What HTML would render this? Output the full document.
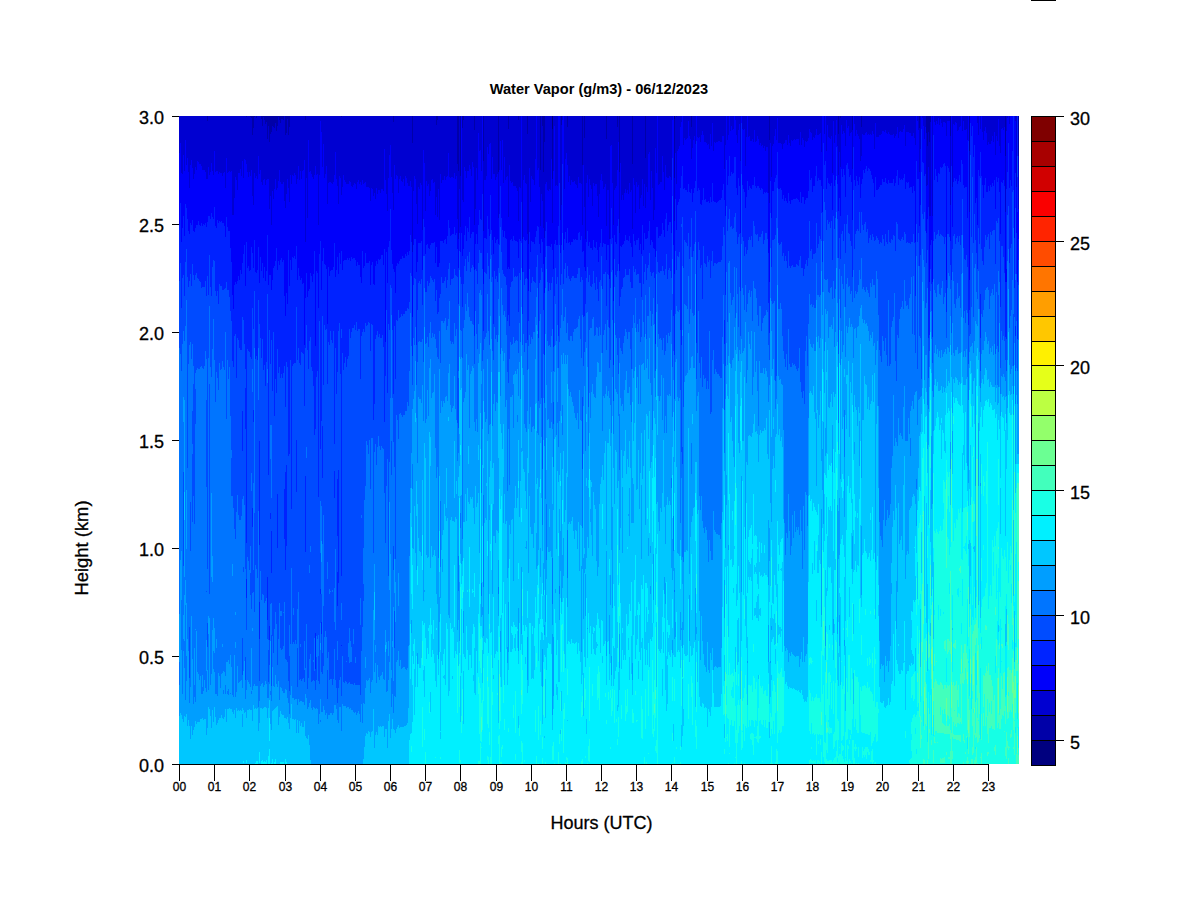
<!DOCTYPE html><html><head><meta charset="utf-8"><style>
html,body{margin:0;padding:0;background:#fff;width:1200px;height:900px;overflow:hidden}
svg{position:absolute;left:0;top:0}
text{font-family:"Liberation Sans",sans-serif;fill:#000;stroke:#000;stroke-width:0.3px}
</style></head><body>
<svg width="1200" height="900" viewBox="0 0 1200 900" shape-rendering="crispEdges">
<defs><filter id="bl" x="0" y="0" width="1" height="1"><feGaussianBlur stdDeviation="0.55"/></filter></defs><g filter="url(#bl)"><path fill="#00007F" d="M674 116h1v3h-1zM552 116h1v13h-1z"/><path fill="#0000A8" d="M246 116h1v1h-1zM250 116h1v1h-1zM254 116h1v1h-1zM263 116h1v1h-1zM278 116h1v1h-1zM341 116h1v1h-1zM676 116h1v1h-1zM251 116h1v2h-1zM256 116h1v2h-1zM840 116h1v2h-1zM261 116h1v3h-1zM281 116h2v3h-2zM287 116h1v3h-1zM264 116h1v4h-1zM279 116h1v4h-1zM283 116h1v4h-1zM305 116h1v4h-1zM437 116h1v4h-1zM463 116h1v4h-1zM518 116h1v4h-1zM207 116h1v5h-1zM266 116h1v6h-1zM393 116h1v6h-1zM930 116h1v6h-1zM275 116h1v7h-1zM280 116h1v7h-1zM265 116h1v8h-1zM436 116h1v9h-1zM561 116h1v9h-1zM262 116h1v10h-1zM268 116h1v10h-1zM272 116h1v10h-1zM277 116h1v10h-1zM542 116h1v10h-1zM273 116h1v11h-1zM289 116h1v11h-1zM567 116h1v11h-1zM617 116h1v11h-1zM691 116h1v11h-1zM861 116h1v11h-1zM253 116h1v12h-1zM274 116h1v12h-1zM462 116h1v12h-1zM919 116h1v12h-1zM508 116h1v13h-1zM474 116h1v14h-1zM852 116h1v14h-1zM276 116h1v15h-1zM271 116h1v16h-1zM928 116h1v16h-1zM286 116h1v17h-1zM926 116h1v17h-1zM270 116h1v18h-1zM527 116h1v18h-1zM838 116h1v18h-1zM252 116h1v19h-1zM285 116h1v19h-1zM288 116h1v19h-1zM950 116h1v20h-1zM584 116h1v22h-1zM267 116h1v23h-1zM606 116h1v23h-1zM769 116h1v24h-1zM269 116h1v26h-1zM544 116h1v26h-1zM929 116h1v26h-1zM412 116h1v27h-1zM927 116h1v30h-1zM969 116h1v35h-1zM1005 116h1v40h-1zM1018 116h1v40h-1zM645 116h1v42h-1zM483 116h1v45h-1zM457 116h1v48h-1zM632 116h1v48h-1zM582 116h1v49h-1zM540 116h1v54h-1zM458 116h1v55h-1zM498 116h1v56h-1zM543 116h1v56h-1zM619 116h1v56h-1zM460 116h1v60h-1zM674 119h1v59h-1zM552 129h1v50h-1z"/><path fill="#0000D1" d="M777 116h1v2h-1zM922 116h1v2h-1zM938 116h1v2h-1zM1007 116h1v2h-1zM940 116h1v3h-1zM998 116h1v3h-1zM562 116h1v4h-1zM672 116h1v4h-1zM735 116h1v4h-1zM836 116h1v4h-1zM846 116h1v4h-1zM320 116h1v5h-1zM688 116h1v5h-1zM833 116h1v5h-1zM917 116h1v5h-1zM936 116h1v5h-1zM947 116h3v5h-3zM963 116h1v5h-1zM1015 116h1v5h-1zM681 116h1v6h-1zM934 116h1v6h-1zM943 116h2v6h-2zM955 116h1v6h-1zM712 116h1v7h-1zM875 116h1v7h-1zM941 116h1v7h-1zM945 116h1v7h-1zM956 116h1v7h-1zM977 116h1v7h-1zM739 116h1v8h-1zM854 116h1v8h-1zM937 116h1v8h-1zM953 116h1v8h-1zM1009 116h1v8h-1zM827 116h1v9h-1zM841 116h1v9h-1zM904 116h1v9h-1zM935 116h1v9h-1zM939 116h1v9h-1zM954 116h1v9h-1zM554 116h1v10h-1zM731 116h1v10h-1zM848 116h1v10h-1zM923 116h1v10h-1zM960 116h1v10h-1zM680 116h1v11h-1zM897 116h1v11h-1zM925 116h1v11h-1zM942 116h1v11h-1zM959 116h1v11h-1zM985 116h1v11h-1zM1004 116h1v11h-1zM847 116h1v12h-1zM1002 116h1v12h-1zM733 116h1v13h-1zM742 116h1v13h-1zM744 116h1v13h-1zM775 116h1v13h-1zM809 116h1v13h-1zM816 116h1v13h-1zM903 116h1v13h-1zM966 116h1v13h-1zM980 116h1v13h-1zM1001 116h1v13h-1zM732 116h1v14h-1zM738 116h1v14h-1zM743 116h1v14h-1zM754 116h1v14h-1zM856 116h1v14h-1zM885 116h1v14h-1zM918 116h1v14h-1zM958 116h1v14h-1zM964 116h2v14h-2zM1003 116h1v14h-1zM702 116h1v15h-1zM730 116h1v15h-1zM843 116h1v15h-1zM872 116h1v15h-1zM882 116h2v15h-2zM900 116h1v15h-1zM957 116h1v15h-1zM962 116h1v15h-1zM984 116h1v15h-1zM1006 116h1v15h-1zM321 116h1v16h-1zM800 116h1v16h-1zM810 116h1v16h-1zM851 116h1v16h-1zM866 116h1v16h-1zM884 116h1v16h-1zM888 116h1v16h-1zM899 116h1v16h-1zM901 116h2v16h-2zM906 116h3v16h-3zM982 116h1v16h-1zM994 116h1v16h-1zM478 116h1v17h-1zM811 116h1v17h-1zM820 116h1v17h-1zM844 116h1v17h-1zM850 116h1v17h-1zM865 116h1v17h-1zM886 116h1v17h-1zM909 116h2v17h-2zM913 116h1v17h-1zM986 116h1v17h-1zM710 116h1v18h-1zM819 116h1v18h-1zM824 116h1v18h-1zM842 116h1v18h-1zM857 116h1v18h-1zM862 116h1v18h-1zM868 116h1v18h-1zM870 116h1v18h-1zM873 116h1v18h-1zM881 116h1v18h-1zM887 116h1v18h-1zM889 116h1v18h-1zM893 116h1v18h-1zM896 116h1v18h-1zM701 116h1v19h-1zM703 116h1v19h-1zM728 116h1v19h-1zM736 116h1v19h-1zM788 116h1v19h-1zM815 116h1v19h-1zM817 116h2v19h-2zM835 116h1v19h-1zM863 116h2v19h-2zM867 116h1v19h-1zM869 116h1v19h-1zM871 116h1v19h-1zM879 116h2v19h-2zM890 116h3v19h-3zM978 116h1v19h-1zM689 116h1v20h-1zM694 116h1v20h-1zM722 116h2v20h-2zM749 116h1v20h-1zM757 116h1v20h-1zM774 116h1v20h-1zM831 116h1v20h-1zM849 116h1v20h-1zM855 116h1v20h-1zM858 116h1v20h-1zM895 116h1v20h-1zM911 116h2v20h-2zM946 116h1v20h-1zM992 116h1v20h-1zM996 116h1v20h-1zM697 116h1v21h-1zM699 116h1v21h-1zM746 116h1v21h-1zM748 116h1v21h-1zM813 116h1v21h-1zM828 116h1v21h-1zM876 116h3v21h-3zM684 116h1v22h-1zM687 116h1v22h-1zM698 116h1v22h-1zM802 116h1v22h-1zM808 116h1v22h-1zM814 116h1v22h-1zM829 116h1v22h-1zM894 116h1v22h-1zM898 116h1v22h-1zM914 116h1v22h-1zM686 116h1v23h-1zM690 116h1v23h-1zM752 116h1v23h-1zM758 116h1v23h-1zM794 116h1v23h-1zM796 116h3v23h-3zM830 116h1v23h-1zM859 116h1v23h-1zM924 116h1v23h-1zM185 116h1v24h-1zM308 116h1v24h-1zM502 116h1v24h-1zM685 116h1v24h-1zM693 116h1v24h-1zM727 116h1v24h-1zM776 116h1v24h-1zM785 116h2v24h-2zM791 116h1v24h-1zM793 116h1v24h-1zM795 116h1v24h-1zM803 116h1v24h-1zM812 116h1v24h-1zM967 116h1v24h-1zM983 116h1v24h-1zM500 116h1v25h-1zM718 116h2v25h-2zM750 116h2v25h-2zM756 116h1v25h-1zM792 116h1v25h-1zM805 116h1v25h-1zM807 116h1v25h-1zM991 116h1v25h-1zM997 116h1v25h-1zM618 116h1v26h-1zM700 116h1v26h-1zM704 116h2v26h-2zM714 116h1v26h-1zM716 116h2v26h-2zM720 116h2v26h-2zM753 116h1v26h-1zM755 116h1v26h-1zM806 116h1v26h-1zM988 116h1v26h-1zM993 116h1v26h-1zM180 116h1v27h-1zM490 116h1v27h-1zM706 116h1v27h-1zM715 116h1v27h-1zM737 116h1v27h-1zM760 116h1v27h-1zM770 116h1v27h-1zM778 116h3v27h-3zM784 116h1v27h-1zM789 116h1v27h-1zM834 116h1v27h-1zM323 116h1v28h-1zM489 116h1v28h-1zM695 116h1v28h-1zM708 116h1v28h-1zM773 116h1v28h-1zM781 116h1v28h-1zM783 116h1v28h-1zM989 116h2v28h-2zM390 116h1v29h-1zM611 116h1v29h-1zM683 116h1v29h-1zM707 116h1v29h-1zM725 116h1v29h-1zM759 116h1v29h-1zM762 116h1v29h-1zM787 116h1v29h-1zM799 116h1v29h-1zM801 116h1v29h-1zM915 116h1v29h-1zM987 116h1v29h-1zM610 116h1v30h-1zM679 116h1v30h-1zM711 116h1v30h-1zM761 116h1v30h-1zM764 116h1v30h-1zM772 116h1v30h-1zM790 116h1v30h-1zM837 116h1v30h-1zM845 116h1v30h-1zM905 116h1v30h-1zM999 116h1v30h-1zM487 116h1v31h-1zM766 116h2v31h-2zM804 116h1v31h-1zM655 116h1v32h-1zM692 116h1v32h-1zM763 116h1v32h-1zM384 116h1v33h-1zM678 116h1v33h-1zM709 116h1v33h-1zM782 116h1v33h-1zM874 116h1v33h-1zM920 116h1v33h-1zM423 116h1v34h-1zM480 116h1v34h-1zM214 116h1v35h-1zM479 116h1v35h-1zM677 116h1v35h-1zM713 116h1v35h-1zM765 116h1v35h-1zM826 116h1v35h-1zM335 116h1v36h-1zM649 116h1v36h-1zM821 116h1v36h-1zM839 116h1v36h-1zM179 116h1v37h-1zM448 116h1v37h-1zM566 116h1v37h-1zM675 116h1v37h-1zM1000 116h1v37h-1zM488 116h1v38h-1zM648 116h1v38h-1zM183 116h1v39h-1zM389 116h1v39h-1zM995 116h1v39h-1zM258 116h1v40h-1zM662 116h1v40h-1zM492 116h1v41h-1zM504 116h1v41h-1zM187 116h1v42h-1zM226 116h1v42h-1zM244 116h1v43h-1zM535 116h1v43h-1zM551 116h1v43h-1zM565 116h1v43h-1zM191 116h1v44h-1zM245 116h1v44h-1zM304 116h1v44h-1zM197 116h1v45h-1zM242 116h1v45h-1zM740 116h1v45h-1zM860 116h1v45h-1zM198 116h1v46h-1zM472 116h1v46h-1zM211 116h1v47h-1zM424 116h1v47h-1zM620 116h1v47h-1zM199 116h2v48h-2zM186 116h1v49h-1zM190 116h1v49h-1zM394 116h1v49h-1zM469 116h1v49h-1zM509 116h1v49h-1zM583 116h1v49h-1zM665 116h1v49h-1zM201 116h1v50h-1zM298 116h1v50h-1zM315 116h1v50h-1zM326 116h1v50h-1zM745 116h1v50h-1zM195 116h1v51h-1zM208 116h1v51h-1zM322 116h1v51h-1zM464 116h1v51h-1zM473 116h1v51h-1zM192 116h1v52h-1zM476 116h1v52h-1zM529 116h1v52h-1zM538 116h1v52h-1zM240 116h1v53h-1zM470 116h1v53h-1zM724 116h1v53h-1zM196 116h1v54h-1zM202 116h3v54h-3zM260 116h1v54h-1zM303 116h1v54h-1zM499 116h1v54h-1zM501 116h1v54h-1zM537 116h1v54h-1zM184 116h1v55h-1zM212 116h1v55h-1zM216 116h2v55h-2zM229 116h1v55h-1zM231 116h1v55h-1zM300 116h1v55h-1zM302 116h1v55h-1zM310 116h1v55h-1zM465 116h1v55h-1zM467 116h2v55h-2zM481 116h1v55h-1zM553 116h1v55h-1zM651 116h1v55h-1zM188 116h1v56h-1zM205 116h1v56h-1zM210 116h1v56h-1zM215 116h1v56h-1zM219 116h1v56h-1zM224 116h1v56h-1zM228 116h1v56h-1zM230 116h1v56h-1zM247 116h1v56h-1zM249 116h1v56h-1zM309 116h1v56h-1zM663 116h1v56h-1zM181 116h1v57h-1zM220 116h2v57h-2zM223 116h1v57h-1zM227 116h1v57h-1zM238 116h2v57h-2zM294 116h1v57h-1zM454 116h1v57h-1zM656 116h1v57h-1zM832 116h1v57h-1zM182 116h1v58h-1zM194 116h1v58h-1zM218 116h1v58h-1zM259 116h1v58h-1zM311 116h1v58h-1zM317 116h1v58h-1zM325 116h1v58h-1zM440 116h1v58h-1zM493 116h2v58h-2zM497 116h1v58h-1zM601 116h1v58h-1zM209 116h1v59h-1zM213 116h1v59h-1zM290 116h1v59h-1zM292 116h1v59h-1zM295 116h1v59h-1zM314 116h1v59h-1zM316 116h1v59h-1zM319 116h1v59h-1zM334 116h1v59h-1zM343 116h1v59h-1zM396 116h1v59h-1zM524 116h1v59h-1zM587 116h1v59h-1zM222 116h1v60h-1zM241 116h1v60h-1zM293 116h1v60h-1zM339 116h1v60h-1zM397 116h1v60h-1zM400 116h1v60h-1zM405 116h1v60h-1zM414 116h1v60h-1zM444 116h1v60h-1zM447 116h1v60h-1zM456 116h1v60h-1zM471 116h1v60h-1zM486 116h1v60h-1zM507 116h1v60h-1zM531 116h1v60h-1zM569 116h1v60h-1zM669 116h1v60h-1zM235 116h1v61h-1zM248 116h1v61h-1zM312 116h1v61h-1zM391 116h1v61h-1zM446 116h1v61h-1zM449 116h1v61h-1zM451 116h2v61h-2zM496 116h1v61h-1zM506 116h1v61h-1zM578 116h1v61h-1zM666 116h1v61h-1zM670 116h1v61h-1zM771 116h1v61h-1zM243 116h1v62h-1zM255 116h1v62h-1zM306 116h1v62h-1zM324 116h1v62h-1zM340 116h1v62h-1zM388 116h1v62h-1zM406 116h1v62h-1zM450 116h1v62h-1zM453 116h1v62h-1zM466 116h1v62h-1zM633 116h1v62h-1zM667 116h2v62h-2zM193 116h1v63h-1zM206 116h1v63h-1zM257 116h1v63h-1zM297 116h1v63h-1zM301 116h1v63h-1zM313 116h1v63h-1zM336 116h1v63h-1zM395 116h1v63h-1zM399 116h1v63h-1zM403 116h1v63h-1zM415 116h1v63h-1zM432 116h1v63h-1zM455 116h1v63h-1zM491 116h1v63h-1zM532 116h1v63h-1zM589 116h1v63h-1zM642 116h1v63h-1zM236 116h1v64h-1zM299 116h1v64h-1zM344 116h1v64h-1zM358 116h1v64h-1zM362 116h1v64h-1zM385 116h1v64h-1zM431 116h1v64h-1zM442 116h2v64h-2zM445 116h1v64h-1zM477 116h1v64h-1zM484 116h2v64h-2zM495 116h1v64h-1zM505 116h1v64h-1zM523 116h1v64h-1zM533 116h1v64h-1zM571 116h1v64h-1zM600 116h1v64h-1zM671 116h1v64h-1zM349 116h1v65h-1zM401 116h1v65h-1zM410 116h1v65h-1zM426 116h1v65h-1zM510 116h1v65h-1zM574 116h1v65h-1zM602 116h1v65h-1zM329 116h2v66h-2zM333 116h1v66h-1zM345 116h1v66h-1zM350 116h1v66h-1zM357 116h1v66h-1zM360 116h1v66h-1zM365 116h1v66h-1zM402 116h1v66h-1zM434 116h1v66h-1zM512 116h1v66h-1zM546 116h1v66h-1zM568 116h1v66h-1zM572 116h2v66h-2zM636 116h1v66h-1zM660 116h2v66h-2zM328 116h1v67h-1zM331 116h1v67h-1zM354 116h1v67h-1zM364 116h1v67h-1zM407 116h1v67h-1zM420 116h1v67h-1zM433 116h1v67h-1zM441 116h1v67h-1zM503 116h1v67h-1zM511 116h1v67h-1zM525 116h1v67h-1zM579 116h2v67h-2zM586 116h1v67h-1zM593 116h1v67h-1zM612 116h1v67h-1zM629 116h1v67h-1zM291 116h1v68h-1zM296 116h1v68h-1zM332 116h1v68h-1zM346 116h3v68h-3zM355 116h1v68h-1zM359 116h1v68h-1zM363 116h1v68h-1zM428 116h1v68h-1zM526 116h1v68h-1zM545 116h1v68h-1zM575 116h1v68h-1zM581 116h1v68h-1zM595 116h2v68h-2zM605 116h1v68h-1zM644 116h1v68h-1zM659 116h1v68h-1zM353 116h1v69h-1zM361 116h1v69h-1zM421 116h1v69h-1zM534 116h1v69h-1zM556 116h1v69h-1zM570 116h1v69h-1zM576 116h1v69h-1zM590 116h1v69h-1zM634 116h1v69h-1zM638 116h1v69h-1zM658 116h1v69h-1zM337 116h1v70h-1zM351 116h1v70h-1zM404 116h1v70h-1zM408 116h2v70h-2zM427 116h1v70h-1zM513 116h3v70h-3zM555 116h1v70h-1zM557 116h1v70h-1zM594 116h1v70h-1zM616 116h1v70h-1zM342 116h1v71h-1zM352 116h1v71h-1zM366 116h3v71h-3zM411 116h1v71h-1zM418 116h1v71h-1zM519 116h1v71h-1zM539 116h1v71h-1zM604 116h1v71h-1zM637 116h1v71h-1zM646 116h1v71h-1zM952 116h1v71h-1zM1016 116h1v71h-1zM189 116h1v72h-1zM225 116h1v72h-1zM369 116h1v72h-1zM371 116h1v72h-1zM376 116h1v72h-1zM516 116h1v72h-1zM520 116h1v72h-1zM577 116h1v72h-1zM615 116h1v72h-1zM652 116h1v72h-1zM356 116h1v73h-1zM372 116h1v73h-1zM381 116h2v73h-2zM419 116h1v73h-1zM438 116h1v73h-1zM459 116h1v73h-1zM549 116h1v73h-1zM564 116h1v73h-1zM591 116h1v73h-1zM603 116h1v73h-1zM625 116h1v73h-1zM237 116h1v74h-1zM378 116h2v74h-2zM547 116h1v74h-1zM550 116h1v74h-1zM607 116h2v74h-2zM614 116h1v74h-1zM627 116h1v74h-1zM631 116h1v74h-1zM664 116h1v74h-1zM383 116h1v75h-1zM413 116h1v75h-1zM430 116h1v75h-1zM517 116h1v75h-1zM548 116h1v75h-1zM630 116h1v76h-1zM647 116h1v76h-1zM374 116h1v77h-1zM380 116h1v77h-1zM392 116h1v77h-1zM398 116h1v77h-1zM624 116h1v77h-1zM626 116h1v77h-1zM768 116h1v77h-1zM377 116h1v78h-1zM386 116h1v78h-1zM541 116h1v78h-1zM599 116h1v78h-1zM628 116h1v78h-1zM622 116h1v79h-1zM641 116h1v79h-1zM373 116h1v80h-1zM429 116h1v80h-1zM597 116h1v80h-1zM588 116h1v81h-1zM234 116h1v82h-1zM640 116h1v82h-1zM375 116h1v83h-1zM621 116h1v84h-1zM623 116h1v84h-1zM650 116h1v84h-1zM284 116h1v85h-1zM370 116h1v85h-1zM530 116h1v86h-1zM327 116h1v88h-1zM338 116h1v88h-1zM416 116h1v88h-1zM592 116h1v90h-1zM643 116h1v90h-1zM475 116h1v93h-1zM639 116h1v93h-1zM654 116h1v94h-1zM387 116h1v95h-1zM425 116h1v95h-1zM635 116h1v97h-1zM232 116h2v99h-2zM435 116h1v99h-1zM932 116h1v100h-1zM598 116h1v101h-1zM307 116h1v102h-1zM439 116h1v104h-1zM560 116h1v104h-1zM653 116h1v104h-1zM417 116h1v108h-1zM318 116h1v109h-1zM613 116h1v109h-1zM422 116h1v114h-1zM522 116h1v123h-1zM585 116h1v123h-1zM609 116h1v123h-1zM528 116h1v128h-1zM246 117h1v47h-1zM254 117h1v56h-1zM250 117h1v59h-1zM263 117h1v63h-1zM278 117h1v64h-1zM676 117h1v67h-1zM341 117h1v78h-1zM840 118h1v49h-1zM251 118h1v52h-1zM256 118h1v58h-1zM287 119h1v60h-1zM261 119h1v63h-1zM281 119h2v65h-2zM279 120h1v50h-1zM264 120h1v59h-1zM283 120h1v62h-1zM463 120h1v82h-1zM437 120h1v97h-1zM518 120h1v101h-1zM305 120h1v122h-1zM207 121h1v58h-1zM266 122h1v58h-1zM393 122h1v88h-1zM930 122h1v94h-1zM275 123h1v56h-1zM280 123h1v59h-1zM265 124h1v61h-1zM436 125h1v72h-1zM561 125h1v80h-1zM268 126h1v53h-1zM262 126h1v59h-1zM277 126h1v62h-1zM272 126h1v65h-1zM542 126h1v75h-1zM861 127h1v29h-1zM691 127h1v32h-1zM567 127h1v38h-1zM617 127h1v43h-1zM273 127h1v72h-1zM289 127h1v75h-1zM919 128h1v44h-1zM274 128h1v61h-1zM462 128h1v72h-1zM253 128h1v77h-1zM508 129h1v88h-1zM852 130h1v39h-1zM474 130h1v95h-1zM276 131h1v59h-1zM928 132h1v35h-1zM271 132h1v93h-1zM926 133h1v53h-1zM286 133h1v61h-1zM838 134h1v41h-1zM270 134h1v62h-1zM527 134h1v100h-1zM288 135h1v53h-1zM252 135h1v61h-1zM285 135h1v73h-1zM950 136h1v69h-1zM584 138h1v69h-1zM267 139h1v40h-1zM606 139h1v87h-1zM769 140h1v63h-1zM269 142h1v67h-1zM929 142h1v74h-1zM544 142h1v96h-1zM412 143h1v109h-1zM927 146h1v39h-1zM969 151h1v61h-1zM1018 156h1v53h-1zM1005 156h1v56h-1zM645 158h1v50h-1zM483 161h1v70h-1zM457 164h1v55h-1zM632 164h1v65h-1zM582 165h1v60h-1zM540 170h1v56h-1zM458 171h1v68h-1zM498 172h1v46h-1zM543 172h1v56h-1zM619 172h1v61h-1zM460 176h1v51h-1zM674 178h1v43h-1zM552 179h1v44h-1z"/><path fill="#0000FA" d="M741 116h1v7h-1zM970 116h1v7h-1zM972 116h1v10h-1zM921 116h1v13h-1zM933 116h1v19h-1zM971 116h1v20h-1zM696 116h1v25h-1zM968 116h1v25h-1zM823 116h1v27h-1zM1008 116h1v27h-1zM974 116h1v29h-1zM853 116h1v31h-1zM1012 116h1v35h-1zM729 116h1v40h-1zM734 116h1v41h-1zM973 116h1v41h-1zM726 116h1v44h-1zM961 116h1v44h-1zM825 116h1v45h-1zM916 116h1v45h-1zM682 116h1v50h-1zM951 116h1v50h-1zM979 116h1v60h-1zM981 116h1v60h-1zM1010 116h1v64h-1zM747 116h1v65h-1zM559 116h1v67h-1zM1011 116h1v70h-1zM482 116h1v78h-1zM976 116h1v82h-1zM521 116h1v86h-1zM975 116h1v87h-1zM822 116h1v96h-1zM558 116h1v110h-1zM657 116h1v111h-1zM536 116h1v115h-1zM461 116h1v117h-1zM1014 116h1v122h-1zM931 116h1v124h-1zM673 116h1v129h-1zM563 116h1v134h-1zM777 118h1v34h-1zM922 118h1v44h-1zM1007 118h1v54h-1zM938 118h1v55h-1zM940 119h1v48h-1zM998 119h1v59h-1zM836 120h1v27h-1zM735 120h1v37h-1zM672 120h1v38h-1zM562 120h1v44h-1zM846 120h1v45h-1zM947 121h1v45h-1zM948 121h1v47h-1zM949 121h1v51h-1zM1015 121h1v52h-1zM833 121h1v54h-1zM936 121h1v55h-1zM917 121h1v58h-1zM688 121h1v63h-1zM963 121h1v64h-1zM320 121h1v120h-1zM944 122h1v41h-1zM943 122h1v42h-1zM681 122h1v54h-1zM934 122h1v58h-1zM955 122h1v59h-1zM945 123h1v43h-1zM941 123h1v45h-1zM875 123h1v54h-1zM956 123h1v56h-1zM712 123h1v60h-1zM977 123h1v102h-1zM854 124h1v56h-1zM937 124h1v58h-1zM953 124h1v58h-1zM739 124h1v62h-1zM1009 124h1v64h-1zM841 125h1v44h-1zM935 125h1v44h-1zM904 125h1v49h-1zM939 125h1v49h-1zM827 125h1v53h-1zM954 125h1v53h-1zM923 126h1v37h-1zM848 126h1v43h-1zM731 126h1v46h-1zM960 126h1v56h-1zM554 126h1v118h-1zM942 127h1v40h-1zM897 127h1v43h-1zM925 127h1v47h-1zM959 127h1v48h-1zM985 127h1v51h-1zM1004 127h1v59h-1zM680 127h1v61h-1zM847 128h1v35h-1zM1002 128h1v55h-1zM980 129h1v23h-1zM816 129h1v37h-1zM809 129h1v41h-1zM733 129h1v44h-1zM775 129h1v49h-1zM903 129h1v49h-1zM1001 129h1v53h-1zM742 129h1v56h-1zM966 129h1v58h-1zM744 129h1v63h-1zM732 130h1v44h-1zM856 130h1v46h-1zM754 130h1v47h-1zM738 130h1v48h-1zM885 130h1v48h-1zM918 130h1v49h-1zM1003 130h1v50h-1zM958 130h1v51h-1zM965 130h1v57h-1zM964 130h1v58h-1zM743 130h1v59h-1zM962 131h1v33h-1zM843 131h1v38h-1zM730 131h1v45h-1zM872 131h1v48h-1zM882 131h1v48h-1zM900 131h1v49h-1zM883 131h1v51h-1zM957 131h1v53h-1zM984 131h1v54h-1zM1006 131h1v58h-1zM702 131h1v69h-1zM866 132h1v34h-1zM899 132h1v46h-1zM901 132h1v47h-1zM810 132h1v48h-1zM888 132h1v48h-1zM902 132h1v48h-1zM994 132h1v48h-1zM851 132h1v50h-1zM884 132h1v50h-1zM906 132h1v50h-1zM908 132h1v50h-1zM907 132h1v51h-1zM982 132h1v53h-1zM800 132h1v60h-1zM321 132h1v158h-1zM865 133h1v36h-1zM844 133h1v42h-1zM850 133h1v42h-1zM811 133h1v45h-1zM820 133h1v47h-1zM886 133h1v50h-1zM913 133h1v53h-1zM910 133h1v54h-1zM909 133h1v55h-1zM986 133h1v59h-1zM478 133h1v92h-1zM824 134h1v31h-1zM868 134h1v34h-1zM870 134h1v37h-1zM896 134h1v42h-1zM842 134h1v43h-1zM862 134h1v45h-1zM893 134h1v45h-1zM819 134h1v46h-1zM857 134h1v47h-1zM873 134h1v49h-1zM889 134h1v49h-1zM887 134h1v50h-1zM881 134h1v51h-1zM710 134h1v63h-1zM869 135h1v34h-1zM863 135h1v35h-1zM978 135h1v35h-1zM867 135h1v36h-1zM864 135h1v38h-1zM871 135h1v40h-1zM728 135h1v41h-1zM815 135h1v41h-1zM818 135h1v43h-1zM835 135h1v45h-1zM817 135h1v46h-1zM890 135h3v48h-3zM880 135h1v50h-1zM879 135h1v52h-1zM703 135h1v53h-1zM736 135h1v53h-1zM788 135h1v58h-1zM701 135h1v70h-1zM849 136h1v41h-1zM996 136h1v41h-1zM774 136h1v46h-1zM831 136h1v47h-1zM895 136h1v47h-1zM992 136h1v47h-1zM723 136h1v48h-1zM858 136h1v49h-1zM749 136h1v50h-1zM757 136h1v50h-1zM855 136h1v50h-1zM911 136h1v51h-1zM694 136h1v52h-1zM722 136h1v54h-1zM689 136h1v56h-1zM912 136h1v57h-1zM946 136h1v144h-1zM828 137h1v46h-1zM813 137h1v49h-1zM878 137h1v52h-1zM699 137h1v53h-1zM748 137h1v53h-1zM876 137h2v53h-2zM697 137h1v54h-1zM746 137h1v60h-1zM829 138h1v46h-1zM898 138h1v47h-1zM814 138h1v48h-1zM894 138h1v48h-1zM684 138h1v50h-1zM698 138h1v50h-1zM808 138h1v53h-1zM914 138h1v53h-1zM687 138h1v54h-1zM802 138h1v59h-1zM924 139h1v37h-1zM859 139h1v38h-1zM752 139h1v46h-1zM758 139h1v47h-1zM830 139h1v47h-1zM686 139h1v51h-1zM690 139h1v54h-1zM796 139h1v59h-1zM794 139h1v60h-1zM797 139h1v60h-1zM798 139h1v61h-1zM776 140h1v35h-1zM727 140h1v45h-1zM685 140h1v50h-1zM812 140h1v52h-1zM693 140h1v53h-1zM803 140h1v57h-1zM785 140h1v58h-1zM983 140h1v58h-1zM793 140h1v59h-1zM795 140h1v59h-1zM791 140h1v60h-1zM786 140h1v61h-1zM185 140h1v64h-1zM967 140h1v78h-1zM502 140h1v90h-1zM308 140h1v151h-1zM997 141h1v41h-1zM500 141h1v45h-1zM991 141h1v46h-1zM750 141h1v47h-1zM756 141h1v47h-1zM751 141h1v48h-1zM807 141h1v57h-1zM719 141h1v59h-1zM792 141h1v59h-1zM805 141h1v59h-1zM718 141h1v60h-1zM753 142h1v43h-1zM755 142h1v44h-1zM988 142h1v44h-1zM993 142h1v44h-1zM721 142h1v56h-1zM806 142h1v56h-1zM705 142h1v57h-1zM704 142h1v58h-1zM720 142h1v58h-1zM714 142h1v60h-1zM717 142h1v60h-1zM716 142h1v61h-1zM700 142h1v62h-1zM618 142h1v77h-1zM770 143h1v38h-1zM834 143h1v43h-1zM780 143h1v45h-1zM778 143h2v46h-2zM760 143h1v47h-1zM490 143h1v52h-1zM737 143h1v52h-1zM784 143h1v58h-1zM789 143h1v58h-1zM706 143h1v59h-1zM715 143h1v59h-1zM180 143h1v60h-1zM695 144h1v37h-1zM990 144h1v41h-1zM781 144h1v46h-1zM773 144h1v47h-1zM989 144h1v47h-1zM783 144h1v51h-1zM708 144h1v57h-1zM489 144h1v92h-1zM323 144h1v104h-1zM759 145h1v43h-1zM683 145h1v44h-1zM762 145h1v44h-1zM987 145h1v47h-1zM707 145h1v57h-1zM799 145h1v57h-1zM787 145h1v58h-1zM801 145h1v58h-1zM611 145h1v63h-1zM390 145h1v64h-1zM725 145h1v71h-1zM915 145h1v97h-1zM837 146h1v38h-1zM761 146h1v42h-1zM905 146h1v43h-1zM772 146h1v45h-1zM764 146h1v46h-1zM999 146h1v46h-1zM845 146h1v51h-1zM679 146h1v53h-1zM711 146h1v56h-1zM790 146h1v58h-1zM610 146h1v93h-1zM766 147h1v45h-1zM767 147h1v46h-1zM804 147h1v57h-1zM487 147h1v69h-1zM763 148h1v46h-1zM692 148h1v54h-1zM655 148h1v109h-1zM874 149h1v48h-1zM782 149h1v50h-1zM678 149h1v53h-1zM709 149h1v54h-1zM920 149h1v56h-1zM384 149h1v100h-1zM423 150h1v69h-1zM480 150h1v69h-1zM826 151h1v38h-1zM765 151h1v42h-1zM713 151h1v50h-1zM677 151h1v54h-1zM214 151h1v56h-1zM479 151h1v59h-1zM821 152h1v34h-1zM839 152h1v46h-1zM649 152h1v69h-1zM335 152h1v125h-1zM675 153h1v46h-1zM448 153h1v67h-1zM179 153h1v72h-1zM1000 153h1v81h-1zM566 153h1v90h-1zM488 154h1v75h-1zM648 154h1v77h-1zM995 155h1v54h-1zM183 155h1v61h-1zM389 155h1v86h-1zM861 156h1v28h-1zM662 156h1v67h-1zM258 156h1v91h-1zM504 157h1v74h-1zM492 157h1v83h-1zM226 158h1v59h-1zM187 158h1v61h-1zM691 159h1v30h-1zM565 159h1v73h-1zM535 159h1v78h-1zM551 159h1v85h-1zM244 159h1v86h-1zM191 160h1v65h-1zM245 160h1v126h-1zM304 160h1v185h-1zM860 161h1v37h-1zM197 161h1v64h-1zM740 161h1v72h-1zM242 161h1v102h-1zM198 162h1v59h-1zM472 162h1v70h-1zM211 163h1v50h-1zM424 163h1v64h-1zM620 163h1v83h-1zM199 164h1v61h-1zM200 164h1v62h-1zM246 164h1v78h-1zM186 165h1v43h-1zM469 165h1v52h-1zM665 165h1v54h-1zM190 165h1v58h-1zM567 165h1v63h-1zM583 165h1v86h-1zM509 165h1v104h-1zM394 165h1v107h-1zM745 166h1v42h-1zM201 166h1v57h-1zM298 166h1v102h-1zM326 166h1v103h-1zM315 166h1v180h-1zM928 167h1v40h-1zM208 167h1v49h-1zM840 167h1v49h-1zM195 167h1v61h-1zM473 167h1v65h-1zM464 167h1v68h-1zM322 167h1v94h-1zM192 168h1v52h-1zM538 168h1v59h-1zM529 168h1v64h-1zM476 168h1v66h-1zM724 169h1v31h-1zM852 169h1v51h-1zM470 169h1v69h-1zM240 169h1v101h-1zM499 170h1v44h-1zM501 170h1v48h-1zM203 170h1v54h-1zM196 170h1v55h-1zM204 170h1v55h-1zM202 170h1v56h-1zM537 170h1v56h-1zM617 170h1v56h-1zM251 170h1v77h-1zM260 170h1v87h-1zM279 170h1v95h-1zM303 170h1v113h-1zM212 171h1v46h-1zM217 171h1v49h-1zM481 171h1v49h-1zM465 171h1v55h-1zM216 171h1v57h-1zM467 171h1v57h-1zM229 171h1v60h-1zM468 171h1v61h-1zM184 171h1v65h-1zM651 171h1v69h-1zM231 171h1v91h-1zM553 171h1v98h-1zM310 171h1v102h-1zM300 171h1v109h-1zM302 171h1v113h-1zM210 172h1v47h-1zM219 172h1v49h-1zM205 172h1v51h-1zM215 172h1v54h-1zM224 172h1v54h-1zM919 172h1v54h-1zM663 172h1v58h-1zM188 172h1v59h-1zM228 172h1v59h-1zM230 172h1v76h-1zM247 172h1v96h-1zM249 172h1v99h-1zM309 172h1v117h-1zM832 173h1v37h-1zM221 173h1v48h-1zM220 173h1v49h-1zM223 173h1v50h-1zM227 173h1v54h-1zM454 173h1v54h-1zM656 173h1v54h-1zM254 173h1v67h-1zM181 173h1v69h-1zM294 173h1v83h-1zM238 173h1v103h-1zM239 173h1v107h-1zM218 174h1v49h-1zM182 174h1v54h-1zM601 174h1v55h-1zM194 174h1v58h-1zM494 174h1v63h-1zM497 174h1v65h-1zM440 174h1v67h-1zM493 174h1v80h-1zM325 174h1v91h-1zM317 174h1v99h-1zM311 174h1v102h-1zM259 174h1v109h-1zM838 175h1v36h-1zM209 175h1v41h-1zM213 175h1v44h-1zM587 175h1v56h-1zM524 175h1v65h-1zM334 175h1v68h-1zM314 175h1v76h-1zM319 175h1v79h-1zM292 175h1v82h-1zM295 175h1v84h-1zM290 175h1v85h-1zM343 175h1v86h-1zM396 175h1v91h-1zM316 175h1v96h-1zM669 176h1v46h-1zM222 176h1v47h-1zM456 176h1v57h-1zM471 176h1v58h-1zM447 176h1v60h-1zM414 176h1v63h-1zM486 176h1v63h-1zM444 176h1v64h-1zM531 176h1v65h-1zM569 176h1v66h-1zM339 176h1v77h-1zM405 176h1v78h-1zM293 176h1v82h-1zM400 176h1v83h-1zM397 176h1v87h-1zM507 176h1v93h-1zM250 176h1v94h-1zM256 176h1v97h-1zM241 176h1v98h-1zM666 177h1v36h-1zM771 177h1v41h-1zM670 177h1v45h-1zM449 177h1v51h-1zM578 177h1v56h-1zM452 177h1v57h-1zM451 177h1v58h-1zM506 177h1v62h-1zM496 177h1v63h-1zM446 177h1v67h-1zM391 177h1v73h-1zM248 177h1v89h-1zM235 177h1v105h-1zM312 177h1v105h-1zM668 178h1v47h-1zM667 178h1v53h-1zM453 178h1v56h-1zM633 178h1v56h-1zM450 178h1v58h-1zM466 178h1v63h-1zM388 178h1v69h-1zM243 178h1v76h-1zM406 178h1v78h-1zM324 178h1v86h-1zM340 178h1v86h-1zM255 178h1v94h-1zM306 178h1v95h-1zM207 179h1v43h-1zM642 179h1v46h-1zM206 179h1v48h-1zM491 179h1v51h-1zM193 179h1v52h-1zM267 179h1v56h-1zM455 179h1v56h-1zM415 179h1v60h-1zM532 179h1v63h-1zM589 179h1v63h-1zM432 179h1v64h-1zM403 179h1v79h-1zM275 179h1v82h-1zM399 179h1v82h-1zM264 179h1v88h-1zM257 179h1v91h-1zM336 179h1v91h-1zM313 179h1v95h-1zM301 179h1v99h-1zM297 179h1v101h-1zM268 179h1v106h-1zM395 179h1v114h-1zM287 179h1v125h-1zM671 180h1v53h-1zM523 180h1v57h-1zM484 180h2v58h-2zM505 180h1v58h-1zM445 180h1v59h-1zM442 180h1v61h-1zM533 180h1v62h-1zM571 180h1v62h-1zM431 180h1v63h-1zM443 180h1v63h-1zM495 180h1v63h-1zM600 180h1v63h-1zM477 180h1v64h-1zM362 180h1v71h-1zM344 180h1v80h-1zM358 180h1v85h-1zM266 180h1v91h-1zM299 180h1v96h-1zM263 180h1v98h-1zM236 180h1v104h-1zM385 180h1v162h-1zM410 181h1v54h-1zM510 181h1v59h-1zM574 181h1v59h-1zM426 181h1v64h-1zM602 181h1v66h-1zM349 181h1v77h-1zM401 181h1v78h-1zM278 181h1v80h-1zM546 182h1v40h-1zM661 182h1v52h-1zM660 182h1v54h-1zM573 182h1v57h-1zM636 182h1v58h-1zM512 182h1v59h-1zM434 182h1v60h-1zM572 182h1v60h-1zM568 182h1v61h-1zM365 182h1v71h-1zM402 182h1v74h-1zM280 182h1v78h-1zM283 182h1v78h-1zM345 182h1v78h-1zM350 182h1v79h-1zM357 182h1v80h-1zM333 182h1v85h-1zM261 182h1v89h-1zM330 182h1v89h-1zM329 182h1v94h-1zM360 182h1v95h-1zM579 183h1v49h-1zM629 183h1v53h-1zM503 183h1v54h-1zM612 183h1v55h-1zM511 183h1v56h-1zM580 183h1v57h-1zM593 183h1v57h-1zM441 183h1v58h-1zM525 183h1v58h-1zM586 183h1v59h-1zM420 183h1v60h-1zM433 183h1v60h-1zM407 183h1v69h-1zM354 183h1v75h-1zM364 183h1v83h-1zM328 183h1v84h-1zM331 183h1v87h-1zM676 184h1v46h-1zM545 184h1v47h-1zM644 184h1v49h-1zM581 184h1v52h-1zM659 184h1v52h-1zM575 184h1v55h-1zM526 184h1v56h-1zM596 184h1v58h-1zM605 184h1v60h-1zM296 184h1v62h-1zM428 184h1v64h-1zM595 184h1v64h-1zM281 184h1v74h-1zM347 184h1v74h-1zM346 184h1v76h-1zM348 184h1v76h-1zM355 184h1v76h-1zM282 184h1v78h-1zM359 184h1v81h-1zM363 184h1v84h-1zM291 184h1v86h-1zM332 184h1v86h-1zM927 185h1v34h-1zM638 185h1v53h-1zM658 185h1v53h-1zM576 185h1v55h-1zM421 185h1v56h-1zM634 185h1v56h-1zM534 185h1v59h-1zM556 185h1v60h-1zM570 185h1v60h-1zM590 185h1v63h-1zM353 185h1v73h-1zM262 185h1v78h-1zM265 185h1v96h-1zM361 185h1v98h-1zM926 186h1v47h-1zM513 186h1v50h-1zM514 186h1v54h-1zM555 186h1v54h-1zM515 186h1v55h-1zM427 186h1v58h-1zM616 186h1v58h-1zM557 186h1v59h-1zM594 186h1v61h-1zM409 186h1v65h-1zM408 186h1v69h-1zM337 186h1v71h-1zM351 186h1v71h-1zM404 186h1v72h-1zM952 187h1v40h-1zM1016 187h1v46h-1zM519 187h1v52h-1zM646 187h1v52h-1zM637 187h1v53h-1zM411 187h1v55h-1zM418 187h1v56h-1zM539 187h1v57h-1zM604 187h1v57h-1zM352 187h1v72h-1zM366 187h3v76h-3zM342 187h1v83h-1zM189 188h1v46h-1zM225 188h1v49h-1zM577 188h1v52h-1zM516 188h1v53h-1zM520 188h1v53h-1zM615 188h1v54h-1zM652 188h1v54h-1zM288 188h1v62h-1zM369 188h1v73h-1zM376 188h1v73h-1zM371 188h1v77h-1zM277 188h1v82h-1zM459 189h1v44h-1zM625 189h1v46h-1zM564 189h1v50h-1zM419 189h1v54h-1zM603 189h1v54h-1zM549 189h1v57h-1zM591 189h1v59h-1zM381 189h2v66h-2zM372 189h1v73h-1zM274 189h1v77h-1zM356 189h1v77h-1zM438 189h1v78h-1zM614 190h1v45h-1zM664 190h1v47h-1zM627 190h1v50h-1zM607 190h2v55h-2zM547 190h1v56h-1zM550 190h1v57h-1zM631 190h1v57h-1zM276 190h1v58h-1zM378 190h1v69h-1zM379 190h1v70h-1zM237 190h1v91h-1zM517 191h1v51h-1zM413 191h1v54h-1zM430 191h1v54h-1zM548 191h1v55h-1zM383 191h1v74h-1zM272 191h1v89h-1zM647 192h1v46h-1zM630 192h1v51h-1zM626 193h1v47h-1zM624 193h1v48h-1zM768 193h1v60h-1zM380 193h1v66h-1zM392 193h1v71h-1zM398 193h1v71h-1zM374 193h1v92h-1zM541 194h1v45h-1zM628 194h1v47h-1zM599 194h1v53h-1zM386 194h1v58h-1zM377 194h1v70h-1zM286 194h1v99h-1zM622 195h1v50h-1zM341 195h1v56h-1zM641 195h1v59h-1zM429 196h1v53h-1zM597 196h1v54h-1zM252 196h1v57h-1zM270 196h1v79h-1zM373 196h1v88h-1zM588 197h1v49h-1zM436 197h1v50h-1zM640 198h1v46h-1zM234 198h1v87h-1zM375 199h1v67h-1zM273 199h1v69h-1zM623 200h1v44h-1zM650 200h1v45h-1zM621 200h1v47h-1zM462 200h1v56h-1zM542 201h1v41h-1zM370 201h1v84h-1zM284 201h1v95h-1zM463 202h1v47h-1zM530 202h1v50h-1zM289 202h1v84h-1zM769 203h1v79h-1zM416 204h1v68h-1zM338 204h1v70h-1zM327 204h1v120h-1zM950 205h1v36h-1zM561 205h1v40h-1zM253 205h1v63h-1zM592 206h1v44h-1zM643 206h1v44h-1zM584 207h1v60h-1zM645 208h1v31h-1zM285 208h1v108h-1zM1018 209h1v30h-1zM475 209h1v35h-1zM639 209h1v41h-1zM269 209h1v66h-1zM654 210h1v39h-1zM393 210h1v59h-1zM425 211h1v43h-1zM387 211h1v72h-1zM969 212h1v68h-1zM1005 212h1v70h-1zM1017 212h1v70h-1zM635 213h1v32h-1zM435 215h1v48h-1zM232 215h1v80h-1zM233 215h1v94h-1zM930 216h1v29h-1zM929 216h1v66h-1zM932 216h1v66h-1zM598 217h1v45h-1zM437 217h1v50h-1zM508 217h1v50h-1zM498 218h1v26h-1zM307 218h1v79h-1zM457 219h1v30h-1zM653 220h1v28h-1zM560 220h1v33h-1zM439 220h1v43h-1zM518 221h1v37h-1zM674 221h1v53h-1zM552 223h1v27h-1zM417 224h1v38h-1zM582 225h1v27h-1zM474 225h1v45h-1zM271 225h1v65h-1zM613 225h1v76h-1zM318 225h1v83h-1zM540 226h1v27h-1zM606 226h1v34h-1zM460 227h1v25h-1zM543 228h1v36h-1zM632 229h1v28h-1zM422 230h1v40h-1zM483 231h1v53h-1zM619 233h1v38h-1zM527 234h1v45h-1zM544 238h1v55h-1zM458 239h1v29h-1zM585 239h1v32h-1zM522 239h1v33h-1zM609 239h1v40h-1zM305 242h1v56h-1zM528 244h1v47h-1zM412 252h1v65h-1zM1006 269h1v13h-1z"/><path fill="#0024FF" d="M1017 116h1v40h-1zM1013 116h1v74h-1zM970 123h1v32h-1zM741 123h1v51h-1zM972 126h1v51h-1zM921 129h1v43h-1zM933 135h1v106h-1zM971 136h1v101h-1zM968 141h1v184h-1zM696 141h1v202h-1zM823 143h1v46h-1zM1008 143h1v63h-1zM974 145h1v69h-1zM836 147h1v29h-1zM853 147h1v43h-1zM1012 151h1v41h-1zM980 152h1v26h-1zM777 152h1v36h-1zM729 156h1v53h-1zM735 157h1v56h-1zM734 157h1v60h-1zM973 157h1v86h-1zM672 158h1v38h-1zM726 160h1v46h-1zM961 160h1v75h-1zM825 161h1v49h-1zM916 161h1v63h-1zM922 162h1v52h-1zM847 163h1v52h-1zM923 163h1v56h-1zM944 163h1v81h-1zM962 164h1v35h-1zM562 164h1v69h-1zM943 164h1v73h-1zM824 165h1v37h-1zM846 165h1v59h-1zM682 166h1v51h-1zM816 166h1v57h-1zM866 166h1v66h-1zM947 166h1v68h-1zM945 166h1v71h-1zM951 166h1v114h-1zM940 167h1v67h-1zM942 167h1v69h-1zM948 168h1v66h-1zM941 168h1v67h-1zM868 168h1v75h-1zM865 169h1v53h-1zM848 169h1v64h-1zM841 169h1v65h-1zM869 169h1v69h-1zM935 169h1v70h-1zM843 169h1v72h-1zM809 170h1v51h-1zM897 170h1v54h-1zM978 170h1v58h-1zM863 170h1v60h-1zM867 171h1v58h-1zM870 171h1v64h-1zM1007 172h1v43h-1zM731 172h1v54h-1zM949 172h1v65h-1zM1015 173h1v35h-1zM864 173h1v51h-1zM733 173h1v55h-1zM938 173h1v57h-1zM732 174h1v55h-1zM925 174h1v57h-1zM904 174h1v58h-1zM939 174h1v62h-1zM833 175h1v41h-1zM776 175h1v43h-1zM844 175h1v49h-1zM959 175h1v61h-1zM871 175h1v65h-1zM850 175h1v66h-1zM924 176h1v36h-1zM728 176h1v43h-1zM896 176h1v46h-1zM681 176h1v48h-1zM730 176h1v51h-1zM856 176h1v55h-1zM936 176h1v59h-1zM979 176h1v68h-1zM981 176h1v73h-1zM815 176h1v77h-1zM859 177h1v35h-1zM1017 177h1v35h-1zM996 177h1v44h-1zM754 177h1v49h-1zM842 177h1v54h-1zM849 177h1v57h-1zM875 177h1v63h-1zM998 178h1v40h-1zM827 178h1v42h-1zM885 178h1v56h-1zM954 178h1v56h-1zM775 178h1v57h-1zM985 178h1v57h-1zM738 178h1v59h-1zM899 178h1v62h-1zM903 178h1v62h-1zM818 178h1v66h-1zM811 178h1v71h-1zM862 179h1v46h-1zM918 179h1v54h-1zM872 179h1v55h-1zM882 179h1v56h-1zM893 179h1v56h-1zM956 179h1v59h-1zM901 179h1v60h-1zM917 179h1v63h-1zM835 180h1v38h-1zM888 180h1v50h-1zM994 180h1v50h-1zM934 180h1v52h-1zM819 180h1v56h-1zM902 180h1v57h-1zM820 180h1v59h-1zM900 180h1v61h-1zM1010 180h1v68h-1zM854 180h1v69h-1zM810 180h1v71h-1zM1003 180h1v77h-1zM695 181h1v30h-1zM770 181h1v32h-1zM857 181h1v48h-1zM958 181h1v61h-1zM955 181h1v63h-1zM817 181h1v67h-1zM747 181h1v69h-1zM997 182h1v41h-1zM937 182h1v52h-1zM953 182h1v54h-1zM774 182h1v57h-1zM883 182h1v57h-1zM906 182h1v61h-1zM908 182h1v61h-1zM960 182h1v63h-1zM851 182h1v64h-1zM884 182h1v64h-1zM1001 182h1v64h-1zM831 183h1v38h-1zM828 183h1v41h-1zM992 183h1v48h-1zM873 183h1v54h-1zM891 183h1v56h-1zM892 183h1v57h-1zM886 183h1v59h-1zM889 183h1v59h-1zM907 183h1v59h-1zM890 183h1v60h-1zM559 183h1v62h-1zM1002 183h1v63h-1zM712 183h1v68h-1zM895 183h1v68h-1zM861 184h1v28h-1zM837 184h1v35h-1zM829 184h1v38h-1zM723 184h1v43h-1zM688 184h1v49h-1zM957 184h1v52h-1zM887 184h1v60h-1zM753 185h1v36h-1zM727 185h1v46h-1zM858 185h1v46h-1zM990 185h1v47h-1zM742 185h1v52h-1zM898 185h1v54h-1zM880 185h1v57h-1zM881 185h1v58h-1zM752 185h1v62h-1zM984 185h1v62h-1zM963 185h1v63h-1zM982 185h1v76h-1zM821 186h1v27h-1zM500 186h1v41h-1zM830 186h1v42h-1zM834 186h1v43h-1zM993 186h1v44h-1zM739 186h1v48h-1zM755 186h1v48h-1zM757 186h1v48h-1zM855 186h1v48h-1zM913 186h1v48h-1zM988 186h1v48h-1zM894 186h1v50h-1zM749 186h1v51h-1zM758 186h1v55h-1zM1011 186h1v58h-1zM813 186h2v68h-2zM1004 186h1v87h-1zM991 187h1v48h-1zM911 187h1v55h-1zM879 187h1v57h-1zM910 187h1v57h-1zM966 187h1v68h-1zM965 187h1v73h-1zM736 188h1v44h-1zM761 188h1v46h-1zM756 188h1v47h-1zM759 188h1v49h-1zM684 188h1v52h-1zM750 188h1v52h-1zM698 188h1v54h-1zM909 188h1v55h-1zM694 188h1v56h-1zM780 188h1v56h-1zM703 188h1v58h-1zM964 188h1v71h-1zM1009 188h1v75h-1zM680 188h1v142h-1zM691 189h1v29h-1zM826 189h1v41h-1zM762 189h1v42h-1zM905 189h1v45h-1zM751 189h1v47h-1zM878 189h1v51h-1zM743 189h1v52h-1zM778 189h1v54h-1zM779 189h1v56h-1zM683 189h1v79h-1zM1006 189h1v80h-1zM876 190h1v46h-1zM760 190h1v47h-1zM877 190h1v48h-1zM748 190h1v50h-1zM685 190h1v52h-1zM781 190h1v52h-1zM686 190h1v53h-1zM722 190h1v56h-1zM699 190h1v60h-1zM772 191h2v49h-2zM914 191h1v52h-1zM989 191h1v58h-1zM808 191h1v67h-1zM697 191h1v69h-1zM766 192h1v41h-1zM987 192h1v45h-1zM764 192h1v48h-1zM986 192h1v48h-1zM999 192h1v49h-1zM687 192h1v54h-1zM744 192h1v64h-1zM800 192h1v64h-1zM689 192h1v67h-1zM812 192h1v67h-1zM765 193h1v40h-1zM767 193h1v46h-1zM912 193h1v49h-1zM690 193h1v54h-1zM693 193h1v58h-1zM788 193h1v58h-1zM763 194h1v50h-1zM482 194h1v75h-1zM490 195h1v39h-1zM737 195h1v49h-1zM783 195h1v58h-1zM874 197h1v44h-1zM845 197h1v56h-1zM746 197h1v57h-1zM802 197h1v71h-1zM803 197h1v79h-1zM710 197h1v81h-1zM860 198h1v35h-1zM839 198h1v40h-1zM976 198h1v55h-1zM785 198h1v58h-1zM721 198h1v62h-1zM806 198h1v62h-1zM796 198h1v66h-1zM983 198h1v67h-1zM807 198h1v68h-1zM675 199h1v52h-1zM679 199h1v53h-1zM782 199h1v57h-1zM705 199h1v65h-1zM797 199h1v66h-1zM793 199h3v68h-3zM724 200h1v35h-1zM719 200h2v62h-2zM704 200h1v63h-1zM805 200h1v64h-1zM792 200h1v65h-1zM791 200h1v66h-1zM798 200h1v66h-1zM702 200h1v99h-1zM784 201h1v60h-1zM786 201h1v60h-1zM708 201h1v61h-1zM718 201h1v61h-1zM713 201h1v65h-1zM789 201h1v65h-1zM521 202h1v41h-1zM707 202h1v54h-1zM678 202h1v55h-1zM692 202h1v55h-1zM799 202h1v58h-1zM711 202h1v59h-1zM714 202h2v61h-2zM717 202h1v61h-1zM706 202h1v65h-1zM975 203h1v37h-1zM709 203h1v57h-1zM180 203h1v60h-1zM716 203h1v61h-1zM787 203h1v65h-1zM801 203h1v65h-1zM185 204h1v58h-1zM700 204h1v64h-1zM790 204h1v64h-1zM804 204h1v65h-1zM920 205h1v50h-1zM677 205h1v51h-1zM701 205h1v60h-1zM214 207h1v54h-1zM928 207h1v131h-1zM611 208h1v36h-1zM745 208h1v39h-1zM186 208h1v41h-1zM995 209h1v55h-1zM390 209h1v76h-1zM479 210h1v40h-1zM832 210h1v50h-1zM838 211h1v47h-1zM822 212h1v50h-1zM666 213h1v41h-1zM211 213h1v83h-1zM499 214h1v31h-1zM487 216h1v37h-1zM209 216h1v39h-1zM840 216h1v43h-1zM183 216h1v59h-1zM208 216h1v79h-1zM725 216h1v79h-1zM469 217h1v35h-1zM212 217h1v50h-1zM226 217h1v65h-1zM501 218h1v34h-1zM771 218h1v49h-1zM967 218h1v49h-1zM927 219h1v31h-1zM480 219h1v34h-1zM423 219h1v37h-1zM213 219h1v41h-1zM618 219h1v45h-1zM665 219h1v50h-1zM187 219h1v58h-1zM210 219h1v68h-1zM481 220h1v33h-1zM192 220h1v44h-1zM448 220h1v49h-1zM852 220h1v57h-1zM217 220h1v71h-1zM649 221h1v32h-1zM198 221h1v58h-1zM219 221h1v63h-1zM221 221h1v65h-1zM546 222h1v24h-1zM669 222h1v46h-1zM670 222h1v49h-1zM207 222h1v54h-1zM220 222h1v64h-1zM662 223h1v43h-1zM190 223h1v51h-1zM205 223h1v58h-1zM201 223h1v65h-1zM222 223h2v67h-2zM218 223h1v81h-1zM203 224h1v63h-1zM642 225h1v31h-1zM478 225h1v38h-1zM977 225h1v44h-1zM668 225h1v45h-1zM196 225h1v48h-1zM197 225h1v53h-1zM179 225h1v56h-1zM199 225h1v56h-1zM191 225h1v61h-1zM204 225h1v62h-1zM537 226h1v29h-1zM465 226h1v33h-1zM919 226h1v40h-1zM617 226h1v45h-1zM200 226h1v56h-1zM202 226h1v61h-1zM224 226h1v63h-1zM215 226h1v65h-1zM558 226h1v110h-1zM952 227h1v22h-1zM656 227h1v24h-1zM424 227h1v29h-1zM657 227h1v35h-1zM454 227h1v42h-1zM227 227h1v63h-1zM206 227h1v69h-1zM538 227h1v111h-1zM681 227h1v118h-1zM467 228h1v28h-1zM449 228h1v35h-1zM567 228h1v38h-1zM195 228h1v47h-1zM182 228h1v50h-1zM216 228h1v68h-1zM601 229h1v27h-1zM488 229h1v37h-1zM491 230h1v25h-1zM502 230h1v40h-1zM676 230h1v40h-1zM663 230h1v41h-1zM545 231h1v26h-1zM648 231h1v34h-1zM536 231h1v36h-1zM587 231h1v36h-1zM193 231h1v44h-1zM504 231h1v45h-1zM667 231h1v48h-1zM188 231h1v56h-1zM228 231h1v59h-1zM229 231h1v66h-1zM468 232h1v30h-1zM565 232h1v31h-1zM472 232h1v33h-1zM473 232h1v35h-1zM579 232h1v36h-1zM529 232h1v37h-1zM194 232h1v48h-1zM459 233h1v18h-1zM926 233h1v30h-1zM578 233h1v35h-1zM644 233h1v39h-1zM1016 233h1v41h-1zM456 233h1v43h-1zM671 233h1v45h-1zM461 233h1v51h-1zM740 233h1v58h-1zM633 234h1v32h-1zM471 234h1v34h-1zM476 234h1v37h-1zM661 234h1v37h-1zM453 234h1v44h-1zM452 234h1v45h-1zM189 234h1v47h-1zM1000 234h1v73h-1zM614 235h1v24h-1zM464 235h1v31h-1zM625 235h1v34h-1zM410 235h1v38h-1zM455 235h1v40h-1zM451 235h1v44h-1zM267 235h1v59h-1zM513 236h1v32h-1zM629 236h1v33h-1zM660 236h1v35h-1zM659 236h1v37h-1zM581 236h1v41h-1zM489 236h1v43h-1zM447 236h1v44h-1zM450 236h1v49h-1zM184 236h1v60h-1zM494 237h1v34h-1zM523 237h1v35h-1zM503 237h1v37h-1zM664 237h1v38h-1zM535 237h1v46h-1zM225 237h1v51h-1zM647 238h1v30h-1zM612 238h1v32h-1zM470 238h1v34h-1zM484 238h1v34h-1zM658 238h1v34h-1zM485 238h1v35h-1zM638 238h1v36h-1zM505 238h1v39h-1zM1014 238h1v50h-1zM1018 239h1v21h-1zM645 239h1v25h-1zM541 239h1v29h-1zM564 239h1v30h-1zM519 239h1v34h-1zM486 239h1v35h-1zM573 239h1v37h-1zM445 239h1v38h-1zM414 239h1v39h-1zM575 239h1v39h-1zM415 239h1v40h-1zM646 239h1v41h-1zM497 239h1v43h-1zM511 239h1v43h-1zM506 239h1v46h-1zM610 239h1v49h-1zM555 240h1v28h-1zM593 240h1v31h-1zM577 240h1v34h-1zM637 240h1v34h-1zM626 240h2v35h-2zM636 240h1v35h-1zM496 240h1v36h-1zM651 240h1v36h-1zM492 240h1v37h-1zM514 240h1v37h-1zM526 240h1v38h-1zM574 240h1v38h-1zM576 240h1v38h-1zM444 240h1v41h-1zM580 240h1v42h-1zM931 240h1v44h-1zM524 240h1v45h-1zM510 240h1v47h-1zM254 240h1v51h-1zM950 241h1v24h-1zM466 241h1v30h-1zM634 241h1v31h-1zM628 241h1v34h-1zM515 241h1v35h-1zM441 241h1v36h-1zM516 241h1v36h-1zM624 241h1v36h-1zM421 241h1v38h-1zM525 241h1v38h-1zM520 241h1v39h-1zM512 241h1v40h-1zM442 241h1v42h-1zM531 241h1v42h-1zM440 241h1v53h-1zM389 241h1v89h-1zM320 241h1v208h-1zM542 242h1v30h-1zM652 242h1v31h-1zM589 242h1v33h-1zM615 242h1v33h-1zM411 242h1v34h-1zM517 242h1v34h-1zM572 242h1v34h-1zM532 242h1v35h-1zM596 242h1v35h-1zM571 242h1v36h-1zM586 242h1v36h-1zM434 242h1v37h-1zM569 242h1v37h-1zM533 242h1v39h-1zM915 242h1v54h-1zM181 242h1v66h-1zM246 242h1v301h-1zM603 243h1v31h-1zM568 243h1v33h-1zM431 243h1v35h-1zM566 243h1v35h-1zM495 243h1v36h-1zM432 243h1v37h-1zM600 243h1v37h-1zM419 243h1v38h-1zM433 243h1v39h-1zM630 243h1v39h-1zM418 243h1v40h-1zM443 243h1v40h-1zM420 243h1v41h-1zM334 243h1v201h-1zM498 244h1v24h-1zM475 244h1v25h-1zM605 244h1v28h-1zM604 244h1v30h-1zM616 244h1v33h-1zM623 244h1v34h-1zM427 244h1v37h-1zM534 244h1v38h-1zM539 244h1v39h-1zM551 244h1v39h-1zM640 244h1v39h-1zM477 244h1v40h-1zM446 244h1v44h-1zM554 244h1v52h-1zM635 245h1v24h-1zM930 245h1v24h-1zM650 245h1v27h-1zM561 245h1v29h-1zM607 245h1v29h-1zM608 245h1v30h-1zM430 245h1v31h-1zM557 245h1v32h-1zM570 245h1v36h-1zM556 245h1v39h-1zM413 245h1v40h-1zM622 245h1v42h-1zM426 245h1v47h-1zM673 245h1v71h-1zM244 245h1v99h-1zM547 246h1v36h-1zM588 246h1v36h-1zM549 246h1v37h-1zM548 246h1v45h-1zM620 246h1v51h-1zM296 246h1v61h-1zM599 247h1v35h-1zM594 247h1v36h-1zM631 247h1v41h-1zM602 247h1v42h-1zM621 247h1v42h-1zM436 247h1v43h-1zM550 247h1v43h-1zM258 247h1v53h-1zM388 247h1v77h-1zM251 247h1v112h-1zM653 248h1v24h-1zM428 248h1v38h-1zM590 248h1v38h-1zM591 248h1v39h-1zM595 248h1v42h-1zM230 248h1v63h-1zM323 248h1v137h-1zM276 248h1v145h-1zM457 249h1v28h-1zM654 249h1v29h-1zM429 249h1v34h-1zM463 249h1v35h-1zM384 249h1v173h-1zM552 250h1v27h-1zM639 250h1v33h-1zM563 250h1v34h-1zM592 250h1v34h-1zM643 250h1v34h-1zM391 250h1v38h-1zM597 250h1v39h-1zM288 250h1v206h-1zM409 251h1v51h-1zM583 251h1v66h-1zM341 251h1v78h-1zM362 251h1v81h-1zM314 251h1v184h-1zM460 252h1v25h-1zM582 252h1v28h-1zM530 252h1v40h-1zM407 252h1v56h-1zM386 252h1v58h-1zM540 253h1v27h-1zM560 253h1v32h-1zM768 253h1v50h-1zM252 253h1v55h-1zM339 253h1v70h-1zM365 253h1v70h-1zM425 254h1v38h-1zM641 254h1v43h-1zM405 254h1v57h-1zM243 254h1v66h-1zM319 254h1v67h-1zM493 254h1v70h-1zM408 255h1v54h-1zM382 255h1v80h-1zM381 255h1v83h-1zM462 256h1v51h-1zM406 256h1v55h-1zM402 256h1v60h-1zM294 256h1v107h-1zM632 257h1v31h-1zM351 257h1v75h-1zM260 257h1v81h-1zM655 257h1v87h-1zM292 257h1v109h-1zM337 257h1v115h-1zM518 258h1v54h-1zM403 258h2v56h-2zM354 258h1v67h-1zM353 258h1v70h-1zM349 258h1v71h-1zM347 258h1v101h-1zM293 258h1v106h-1zM281 258h1v116h-1zM401 259h1v55h-1zM400 259h1v58h-1zM352 259h1v69h-1zM378 259h1v78h-1zM380 259h1v79h-1zM295 259h1v104h-1zM606 260h1v46h-1zM355 260h1v70h-1zM379 260h1v74h-1zM348 260h1v96h-1zM345 260h1v97h-1zM290 260h1v100h-1zM344 260h1v103h-1zM346 260h1v107h-1zM283 260h1v113h-1zM280 260h1v118h-1zM322 261h1v55h-1zM399 261h1v57h-1zM369 261h1v62h-1zM376 261h1v74h-1zM350 261h1v77h-1zM343 261h1v109h-1zM278 261h1v112h-1zM275 261h1v118h-1zM598 262h1v39h-1zM417 262h1v48h-1zM231 262h1v59h-1zM372 262h1v63h-1zM357 262h1v69h-1zM282 262h1v116h-1zM439 263h1v35h-1zM435 263h1v38h-1zM242 263h1v54h-1zM397 263h1v58h-1zM368 263h1v59h-1zM367 263h1v62h-1zM366 263h1v63h-1zM262 263h1v76h-1zM398 264h1v46h-1zM543 264h1v46h-1zM324 264h1v61h-1zM392 264h1v66h-1zM377 264h1v67h-1zM340 264h1v110h-1zM371 265h1v59h-1zM358 265h2v64h-2zM325 265h1v65h-1zM383 265h1v82h-1zM279 265h1v102h-1zM396 266h1v54h-1zM356 266h1v56h-1zM364 266h1v66h-1zM375 266h1v73h-1zM248 266h1v85h-1zM274 266h1v150h-1zM438 267h1v45h-1zM437 267h1v47h-1zM508 267h1v48h-1zM584 267h1v49h-1zM333 267h1v64h-1zM328 267h1v75h-1zM264 267h1v98h-1zM458 268h1v36h-1zM253 268h1v61h-1zM363 268h1v61h-1zM273 268h1v64h-1zM298 268h1v80h-1zM247 268h1v81h-1zM507 269h1v52h-1zM509 269h1v57h-1zM326 269h1v60h-1zM553 269h1v78h-1zM393 269h1v125h-1zM422 270h1v35h-1zM474 270h1v66h-1zM331 270h1v70h-1zM332 270h1v73h-1zM277 270h1v79h-1zM240 270h1v80h-1zM342 270h1v83h-1zM250 270h1v87h-1zM257 270h1v90h-1zM336 270h1v124h-1zM291 270h1v239h-1zM585 271h1v33h-1zM619 271h1v35h-1zM330 271h1v60h-1zM249 271h1v81h-1zM261 271h1v87h-1zM266 271h1v91h-1zM316 271h1v106h-1zM522 272h1v42h-1zM394 272h1v54h-1zM416 272h1v73h-1zM255 272h1v87h-1zM306 273h1v52h-1zM310 273h1v64h-1zM256 273h1v83h-1zM317 273h1v98h-1zM338 274h1v57h-1zM241 274h1v76h-1zM674 274h1v81h-1zM313 274h1v112h-1zM269 275h1v55h-1zM270 275h1v89h-1zM238 276h1v64h-1zM329 276h1v69h-1zM299 276h1v87h-1zM311 276h1v91h-1zM335 277h1v71h-1zM360 277h1v102h-1zM301 278h1v74h-1zM263 278h1v92h-1zM609 279h1v49h-1zM527 279h1v61h-1zM969 280h1v30h-1zM946 280h1v32h-1zM239 280h1v68h-1zM297 280h1v80h-1zM300 280h1v85h-1zM272 280h1v111h-1zM237 281h1v57h-1zM265 281h1v105h-1zM769 282h1v51h-1zM235 282h1v52h-1zM929 282h1v53h-1zM932 282h1v55h-1zM1005 282h1v55h-1zM1006 282h1v57h-1zM1017 282h1v57h-1zM312 282h1v89h-1zM259 283h1v41h-1zM361 283h1v53h-1zM303 283h1v71h-1zM387 283h1v110h-1zM483 284h1v47h-1zM302 284h1v69h-1zM236 284h1v94h-1zM373 284h1v136h-1zM234 285h1v51h-1zM370 285h1v66h-1zM374 285h1v119h-1zM268 285h1v190h-1zM245 286h1v83h-1zM289 286h1v168h-1zM309 289h1v52h-1zM271 290h1v50h-1zM321 290h1v131h-1zM528 291h1v30h-1zM308 291h1v78h-1zM544 293h1v62h-1zM286 293h1v69h-1zM395 293h1v86h-1zM980 294h1v44h-1zM232 295h1v66h-1zM284 296h1v70h-1zM307 297h1v53h-1zM305 298h1v50h-1zM613 301h1v64h-1zM287 304h1v63h-1zM318 308h1v189h-1zM233 309h1v58h-1zM285 316h1v91h-1zM412 317h1v39h-1zM724 320h1v24h-1zM327 324h1v60h-1zM1015 326h1v10h-1zM341 338h1v238h-1zM385 342h1v34h-1zM304 345h1v61h-1zM315 346h1v83h-1zM245 388h1v41h-1zM253 410h1v12h-1zM242 411h1v40h-1zM322 426h1v52h-1zM296 440h1v52h-1zM259 441h1v104h-1zM286 465h1v81h-1zM338 470h1v113h-1zM334 471h1v27h-1zM285 472h1v98h-1zM305 476h1v76h-1zM337 479h1v57h-1zM284 489h1v50h-1zM277 494h1v54h-1zM252 508h1v19h-1zM270 513h1v6h-1zM271 531h1v42h-1zM337 572h1v34h-1zM267 577h1v43h-1zM246 579h1v19h-1zM320 589h1v5h-1zM259 602h1v37h-1zM321 622h1v12h-1zM269 626h1v14h-1zM315 633h1v36h-1zM341 645h1v1h-1z"/><path fill="#004CFF" d="M970 155h1v179h-1zM1017 156h1v21h-1zM921 172h1v207h-1zM741 174h1v70h-1zM836 176h1v36h-1zM972 177h1v76h-1zM980 178h1v116h-1zM777 188h1v40h-1zM823 189h1v52h-1zM1013 190h1v38h-1zM853 190h1v80h-1zM1012 192h1v88h-1zM672 196h1v63h-1zM962 199h1v36h-1zM824 202h1v77h-1zM1008 206h1v43h-1zM726 206h1v66h-1zM1015 208h1v66h-1zM729 209h1v52h-1zM825 210h1v70h-1zM695 211h1v31h-1zM861 212h1v46h-1zM924 212h1v55h-1zM859 212h1v58h-1zM821 213h1v28h-1zM770 213h1v35h-1zM735 213h1v105h-1zM922 214h1v35h-1zM974 214h1v54h-1zM1007 215h1v46h-1zM847 215h1v63h-1zM833 216h1v65h-1zM682 217h1v49h-1zM734 217h1v50h-1zM691 218h1v39h-1zM998 218h1v53h-1zM835 218h1v71h-1zM776 218h1v158h-1zM837 219h1v39h-1zM923 219h1v41h-1zM728 219h1v44h-1zM827 220h1v59h-1zM753 221h1v60h-1zM831 221h1v66h-1zM996 221h1v71h-1zM809 221h1v73h-1zM865 222h1v70h-1zM829 222h1v71h-1zM896 222h1v159h-1zM816 223h1v40h-1zM997 223h1v123h-1zM681 224h1v3h-1zM916 224h1v32h-1zM844 224h1v40h-1zM846 224h1v60h-1zM864 224h1v66h-1zM828 224h1v68h-1zM897 224h1v111h-1zM862 225h1v64h-1zM754 226h1v62h-1zM731 226h1v79h-1zM730 227h1v66h-1zM723 227h1v68h-1zM500 227h1v127h-1zM978 228h1v43h-1zM830 228h1v60h-1zM733 228h1v69h-1zM867 229h1v61h-1zM857 229h1v63h-1zM834 229h1v69h-1zM732 229h1v71h-1zM826 230h1v50h-1zM938 230h1v54h-1zM994 230h1v54h-1zM863 230h1v57h-1zM993 230h1v65h-1zM888 230h1v70h-1zM842 231h1v53h-1zM858 231h1v54h-1zM992 231h1v58h-1zM856 231h1v63h-1zM925 231h1v77h-1zM727 231h1v91h-1zM762 231h1v92h-1zM736 232h1v36h-1zM904 232h1v48h-1zM866 232h1v55h-1zM934 232h1v58h-1zM990 232h1v64h-1zM918 233h1v33h-1zM688 233h1v43h-1zM860 233h1v46h-1zM848 233h1v54h-1zM562 233h1v56h-1zM766 233h1v77h-1zM765 233h1v82h-1zM490 234h1v25h-1zM948 234h1v39h-1zM841 234h1v42h-1zM913 234h1v42h-1zM872 234h1v45h-1zM937 234h1v51h-1zM849 234h1v52h-1zM739 234h1v53h-1zM947 234h1v54h-1zM755 234h1v55h-1zM988 234h1v56h-1zM855 234h1v57h-1zM940 234h1v61h-1zM905 234h1v67h-1zM954 234h1v70h-1zM757 234h1v81h-1zM761 234h1v97h-1zM885 234h1v104h-1zM961 235h1v39h-1zM870 235h1v48h-1zM941 235h1v53h-1zM985 235h1v55h-1zM991 235h1v58h-1zM936 235h1v62h-1zM756 235h1v63h-1zM893 235h1v82h-1zM724 235h1v85h-1zM882 235h1v101h-1zM775 235h1v146h-1zM876 236h1v35h-1zM942 236h1v45h-1zM953 236h1v45h-1zM957 236h1v47h-1zM751 236h1v55h-1zM894 236h1v57h-1zM939 236h1v58h-1zM959 236h1v60h-1zM819 236h1v61h-1zM949 237h1v39h-1zM873 237h1v48h-1zM987 237h1v50h-1zM742 237h1v51h-1zM749 237h1v53h-1zM945 237h1v56h-1zM902 237h1v64h-1zM943 237h1v67h-1zM759 237h2v69h-2zM971 237h1v70h-1zM738 237h1v90h-1zM839 238h1v31h-1zM877 238h1v41h-1zM869 238h1v59h-1zM956 238h1v61h-1zM935 239h1v54h-1zM820 239h1v56h-1zM774 239h1v62h-1zM901 239h1v68h-1zM767 239h1v73h-1zM891 239h1v88h-1zM898 239h1v99h-1zM883 239h1v102h-1zM975 240h1v24h-1zM871 240h1v47h-1zM986 240h1v48h-1zM748 240h1v53h-1zM750 240h1v57h-1zM875 240h1v58h-1zM773 240h1v63h-1zM684 240h1v64h-1zM772 240h1v64h-1zM903 240h1v69h-1zM878 240h1v75h-1zM764 240h1v76h-1zM899 240h1v79h-1zM892 240h1v81h-1zM933 241h1v38h-1zM999 241h1v41h-1zM874 241h1v44h-1zM843 241h1v48h-1zM850 241h1v53h-1zM743 241h1v54h-1zM900 241h1v68h-1zM758 241h1v85h-1zM911 242h1v35h-1zM958 242h1v56h-1zM685 242h1v63h-1zM907 242h1v63h-1zM781 242h1v67h-1zM698 242h1v69h-1zM912 242h1v92h-1zM886 242h1v113h-1zM880 242h1v114h-1zM889 242h1v124h-1zM917 242h1v127h-1zM521 243h1v25h-1zM868 243h1v50h-1zM909 243h1v55h-1zM686 243h1v63h-1zM906 243h1v63h-1zM778 243h1v66h-1zM908 243h1v66h-1zM973 243h1v74h-1zM914 243h1v92h-1zM881 243h1v119h-1zM890 243h1v121h-1zM611 244h1v28h-1zM737 244h1v50h-1zM910 244h1v50h-1zM818 244h1v51h-1zM944 244h1v53h-1zM780 244h1v59h-1zM955 244h1v64h-1zM979 244h1v65h-1zM1011 244h1v66h-1zM694 244h1v71h-1zM763 244h1v74h-1zM879 244h1v106h-1zM887 244h1v122h-1zM499 245h1v28h-1zM960 245h1v63h-1zM779 245h1v64h-1zM559 245h1v97h-1zM546 246h1v23h-1zM851 246h1v45h-1zM687 246h1v63h-1zM1001 246h1v85h-1zM722 246h1v91h-1zM1002 246h1v94h-1zM884 246h1v105h-1zM703 246h1v129h-1zM745 247h1v38h-1zM984 247h1v53h-1zM690 247h1v62h-1zM752 247h1v74h-1zM817 248h1v47h-1zM1010 248h1v68h-1zM963 248h1v70h-1zM952 249h1v23h-1zM854 249h1v49h-1zM186 249h1v51h-1zM811 249h1v55h-1zM989 249h1v60h-1zM981 249h1v65h-1zM927 250h1v38h-1zM479 250h1v43h-1zM747 250h1v54h-1zM699 250h1v113h-1zM459 251h1v19h-1zM656 251h1v23h-1zM810 251h1v54h-1zM675 251h1v63h-1zM693 251h1v65h-1zM788 251h1v78h-1zM712 251h1v109h-1zM895 251h1v110h-1zM501 252h1v36h-1zM679 252h1v58h-1zM469 252h1v65h-1zM649 253h1v34h-1zM480 253h1v37h-1zM976 253h1v39h-1zM487 253h1v41h-1zM481 253h1v42h-1zM845 253h1v54h-1zM815 253h1v55h-1zM783 253h1v98h-1zM813 254h1v51h-1zM814 254h1v54h-1zM746 254h1v58h-1zM666 254h1v81h-1zM491 255h1v27h-1zM537 255h1v33h-1zM209 255h1v51h-1zM966 255h1v55h-1zM920 255h1v83h-1zM601 256h1v30h-1zM424 256h1v32h-1zM467 256h1v37h-1zM642 256h1v44h-1zM744 256h1v54h-1zM677 256h1v55h-1zM782 256h1v80h-1zM423 256h1v106h-1zM785 256h1v111h-1zM707 256h1v125h-1zM800 256h1v126h-1zM545 257h1v31h-1zM678 257h1v55h-1zM692 257h1v56h-1zM1003 257h1v79h-1zM808 258h1v66h-1zM838 258h1v96h-1zM614 259h1v28h-1zM465 259h1v45h-1zM812 259h1v48h-1zM964 259h1v52h-1zM840 259h1v59h-1zM689 259h1v65h-1zM1018 260h1v25h-1zM832 260h1v39h-1zM213 260h1v59h-1zM965 260h1v63h-1zM709 260h1v71h-1zM806 260h1v76h-1zM799 260h1v88h-1zM697 260h1v93h-1zM721 260h1v118h-1zM982 261h1v56h-1zM786 261h1v93h-1zM784 261h1v98h-1zM214 261h1v99h-1zM711 261h1v151h-1zM822 262h1v30h-1zM657 262h1v42h-1zM468 262h1v45h-1zM185 262h1v64h-1zM718 262h1v112h-1zM719 262h1v114h-1zM720 262h1v116h-1zM708 262h1v127h-1zM449 263h1v38h-1zM926 263h1v40h-1zM565 263h1v44h-1zM478 263h1v61h-1zM1009 263h1v65h-1zM180 263h1v91h-1zM715 263h1v106h-1zM714 263h1v111h-1zM717 263h1v111h-1zM704 263h1v116h-1zM645 264h1v31h-1zM192 264h1v80h-1zM805 264h1v87h-1zM995 264h1v90h-1zM796 264h1v105h-1zM716 264h1v108h-1zM618 264h1v110h-1zM705 264h1v114h-1zM950 265h1v24h-1zM983 265h1v45h-1zM648 265h1v51h-1zM472 265h1v59h-1zM701 265h1v92h-1zM792 265h1v98h-1zM797 265h1v106h-1zM633 266h1v49h-1zM464 266h1v54h-1zM567 266h1v57h-1zM488 266h1v65h-1zM919 266h1v70h-1zM662 266h1v84h-1zM713 266h1v84h-1zM789 266h1v98h-1zM807 266h1v100h-1zM791 266h1v101h-1zM798 266h1v102h-1zM536 267h1v30h-1zM771 267h1v34h-1zM587 267h1v45h-1zM967 267h1v46h-1zM473 267h1v58h-1zM212 267h1v82h-1zM794 267h1v97h-1zM793 267h1v98h-1zM795 267h1v99h-1zM706 267h1v122h-1zM498 268h1v31h-1zM555 268h1v36h-1zM579 268h1v48h-1zM647 268h1v48h-1zM578 268h1v51h-1zM471 268h1v53h-1zM669 268h1v68h-1zM513 268h1v69h-1zM790 268h1v99h-1zM787 268h1v102h-1zM700 268h1v110h-1zM801 268h1v124h-1zM541 268h1v130h-1zM802 268h1v130h-1zM683 268h1v139h-1zM930 269h1v22h-1zM635 269h1v29h-1zM977 269h1v30h-1zM475 269h1v42h-1zM564 269h1v48h-1zM448 269h1v50h-1zM454 269h1v54h-1zM625 269h1v60h-1zM629 269h1v63h-1zM529 269h1v66h-1zM665 269h1v82h-1zM482 269h1v92h-1zM804 269h1v135h-1zM502 270h1v35h-1zM676 270h1v36h-1zM612 270h1v50h-1zM668 270h1v63h-1zM466 271h1v40h-1zM593 271h1v46h-1zM494 271h1v56h-1zM670 271h1v61h-1zM476 271h1v63h-1zM660 271h1v67h-1zM663 271h1v67h-1zM661 271h1v69h-1zM617 271h1v84h-1zM653 272h1v26h-1zM650 272h1v39h-1zM470 272h1v49h-1zM634 272h1v51h-1zM605 272h1v52h-1zM523 272h1v62h-1zM658 272h1v62h-1zM644 272h1v65h-1zM484 272h1v67h-1zM542 272h1v197h-1zM410 273h1v40h-1zM652 273h1v41h-1zM519 273h1v50h-1zM485 273h1v64h-1zM659 273h1v66h-1zM1004 273h1v68h-1zM196 273h1v97h-1zM503 274h1v41h-1zM561 274h1v41h-1zM607 274h1v46h-1zM1016 274h1v47h-1zM637 274h1v50h-1zM577 274h1v53h-1zM604 274h1v56h-1zM638 274h1v58h-1zM486 274h1v59h-1zM603 274h1v61h-1zM190 274h1v68h-1zM608 275h1v52h-1zM589 275h1v55h-1zM183 275h1v56h-1zM626 275h1v57h-1zM628 275h1v57h-1zM636 275h1v57h-1zM615 275h1v60h-1zM455 275h1v61h-1zM627 275h1v64h-1zM664 275h1v80h-1zM193 275h1v91h-1zM195 275h1v98h-1zM504 276h1v35h-1zM430 276h1v46h-1zM651 276h1v50h-1zM456 276h1v53h-1zM573 276h1v56h-1zM496 276h1v59h-1zM568 276h1v64h-1zM515 276h1v65h-1zM517 276h1v65h-1zM572 276h1v65h-1zM411 276h1v70h-1zM803 276h1v115h-1zM207 276h1v293h-1zM852 277h1v25h-1zM505 277h1v40h-1zM445 277h1v41h-1zM441 277h1v44h-1zM557 277h1v48h-1zM596 277h1v50h-1zM552 277h1v52h-1zM460 277h1v53h-1zM624 277h1v59h-1zM616 277h1v61h-1zM532 277h1v62h-1zM516 277h1v63h-1zM514 277h1v66h-1zM492 277h1v74h-1zM581 277h1v81h-1zM457 277h1v146h-1zM187 277h1v191h-1zM671 278h1v32h-1zM586 278h1v35h-1zM654 278h1v46h-1zM576 278h1v50h-1zM574 278h2v51h-2zM566 278h1v55h-1zM571 278h1v58h-1zM431 278h1v60h-1zM526 278h1v65h-1zM623 278h1v65h-1zM182 278h1v66h-1zM453 278h1v66h-1zM414 278h1v67h-1zM197 278h1v90h-1zM710 278h1v136h-1zM415 279h1v48h-1zM434 279h1v55h-1zM495 279h1v60h-1zM569 279h1v62h-1zM421 279h1v63h-1zM452 279h1v63h-1zM525 279h1v64h-1zM667 279h1v64h-1zM451 279h1v65h-1zM489 279h1v66h-1zM198 279h1v90h-1zM540 280h1v34h-1zM582 280h1v35h-1zM447 280h1v46h-1zM1015 280h1v46h-1zM432 280h1v53h-1zM951 280h1v53h-1zM600 280h1v55h-1zM646 280h1v59h-1zM520 280h1v62h-1zM194 280h1v244h-1zM444 281h1v40h-1zM533 281h1v51h-1zM570 281h1v55h-1zM427 281h1v56h-1zM419 281h1v60h-1zM512 281h1v63h-1zM189 281h1v64h-1zM179 281h1v67h-1zM205 281h1v70h-1zM199 281h1v88h-1zM599 282h1v45h-1zM534 282h1v50h-1zM433 282h1v55h-1zM580 282h1v57h-1zM547 282h1v59h-1zM497 282h1v60h-1zM511 282h1v63h-1zM630 282h1v67h-1zM200 282h1v85h-1zM588 282h1v125h-1zM226 282h1v137h-1zM535 283h1v34h-1zM639 283h1v36h-1zM442 283h1v38h-1zM539 283h1v38h-1zM443 283h1v40h-1zM429 283h1v50h-1zM551 283h1v53h-1zM594 283h1v53h-1zM531 283h1v54h-1zM418 283h1v59h-1zM640 283h1v59h-1zM549 283h1v62h-1zM931 284h1v27h-1zM592 284h1v35h-1zM563 284h1v37h-1zM643 284h1v38h-1zM463 284h1v44h-1zM461 284h1v47h-1zM556 284h1v57h-1zM420 284h1v58h-1zM477 284h1v65h-1zM219 284h1v79h-1zM560 285h1v43h-1zM506 285h1v50h-1zM413 285h1v53h-1zM450 285h1v56h-1zM524 285h1v67h-1zM390 285h1v113h-1zM590 286h1v42h-1zM428 286h1v61h-1zM191 286h1v73h-1zM221 286h1v83h-1zM220 286h1v84h-1zM591 287h1v41h-1zM510 287h1v55h-1zM622 287h1v67h-1zM188 287h1v77h-1zM204 287h1v79h-1zM210 287h1v80h-1zM202 287h1v81h-1zM203 287h1v82h-1zM391 288h1v27h-1zM1014 288h1v29h-1zM632 288h1v40h-1zM446 288h1v42h-1zM225 288h1v44h-1zM610 288h1v72h-1zM201 288h1v78h-1zM631 288h1v81h-1zM597 289h1v39h-1zM621 289h1v62h-1zM602 289h1v64h-1zM224 289h1v81h-1zM595 290h1v45h-1zM550 290h1v57h-1zM436 290h1v58h-1zM227 290h1v70h-1zM222 290h1v71h-1zM223 290h1v77h-1zM228 290h1v89h-1zM740 291h1v45h-1zM548 291h1v55h-1zM254 291h1v57h-1zM217 291h1v87h-1zM215 291h1v111h-1zM426 292h1v51h-1zM425 292h1v52h-1zM530 292h1v52h-1zM440 294h1v69h-1zM672 294h1v73h-1zM267 294h1v75h-1zM998 295h1v57h-1zM208 295h1v63h-1zM725 295h1v71h-1zM184 296h1v45h-1zM554 296h1v50h-1zM915 296h1v57h-1zM206 296h1v63h-1zM216 296h1v76h-1zM211 296h1v81h-1zM641 297h1v40h-1zM620 297h1v51h-1zM229 297h1v70h-1zM439 298h1v33h-1zM702 299h1v88h-1zM258 300h1v48h-1zM598 301h1v35h-1zM435 301h1v38h-1zM409 302h1v69h-1zM768 303h1v42h-1zM585 304h1v38h-1zM458 304h1v67h-1zM218 304h1v86h-1zM422 305h1v34h-1zM619 306h1v32h-1zM606 306h1v44h-1zM462 307h1v51h-1zM1000 307h1v61h-1zM296 307h1v133h-1zM252 308h1v61h-1zM181 308h1v63h-1zM407 308h1v94h-1zM408 309h1v97h-1zM969 310h1v26h-1zM543 310h1v44h-1zM417 310h1v52h-1zM398 310h1v129h-1zM386 310h1v176h-1zM405 311h2v100h-2zM230 311h1v105h-1zM946 312h1v26h-1zM518 312h1v41h-1zM438 312h1v47h-1zM522 314h1v31h-1zM437 314h1v43h-1zM1013 314h1v52h-1zM401 314h1v101h-1zM403 314h2v101h-2zM508 315h1v68h-1zM673 316h1v35h-1zM584 316h1v36h-1zM402 316h1v101h-1zM322 316h1v110h-1zM583 317h1v49h-1zM242 317h1v94h-1zM400 317h1v96h-1zM399 318h1v96h-1zM396 320h1v95h-1zM243 320h1v176h-1zM528 321h1v25h-1zM507 321h1v51h-1zM397 321h1v99h-1zM231 321h1v129h-1zM319 321h1v363h-1zM368 322h1v132h-1zM356 322h1v363h-1zM369 323h1v117h-1zM365 323h1v163h-1zM339 323h1v357h-1zM493 324h1v36h-1zM371 324h1v114h-1zM259 324h1v117h-1zM388 324h1v252h-1zM968 325h1v39h-1zM372 325h1v113h-1zM367 325h1v120h-1zM306 325h1v122h-1zM324 325h1v312h-1zM354 325h1v358h-1zM509 326h1v33h-1zM366 326h1v115h-1zM394 326h1v141h-1zM609 328h1v40h-1zM353 328h1v301h-1zM352 328h1v356h-1zM341 329h1v9h-1zM253 329h1v81h-1zM363 329h1v219h-1zM349 329h1v299h-1zM326 329h1v308h-1zM358 329h2v356h-2zM680 330h1v60h-1zM392 330h1v68h-1zM389 330h1v132h-1zM269 330h1v296h-1zM325 330h1v301h-1zM355 330h1v327h-1zM483 331h1v19h-1zM377 331h1v116h-1zM338 331h1v139h-1zM330 331h1v260h-1zM333 331h1v348h-1zM357 331h1v354h-1zM364 332h1v168h-1zM362 332h1v295h-1zM351 332h1v315h-1zM273 332h1v321h-1zM769 333h1v27h-1zM379 334h1v112h-1zM235 334h1v205h-1zM929 335h1v16h-1zM382 335h1v113h-1zM376 335h1v130h-1zM474 336h1v28h-1zM558 336h1v32h-1zM1015 336h1v35h-1zM361 336h1v179h-1zM234 336h1v193h-1zM1005 337h1v23h-1zM932 337h1v26h-1zM378 337h1v99h-1zM310 337h1v209h-1zM980 338h1v33h-1zM928 338h1v40h-1zM538 338h1v63h-1zM381 338h1v108h-1zM380 338h1v112h-1zM237 338h1v157h-1zM260 338h1v233h-1zM350 338h1v303h-1zM1006 339h1v32h-1zM1017 339h1v32h-1zM375 339h1v105h-1zM262 339h1v255h-1zM527 340h1v30h-1zM271 340h1v85h-1zM238 340h1v175h-1zM331 340h1v339h-1zM309 341h1v224h-1zM328 342h1v310h-1zM696 343h1v36h-1zM332 343h1v247h-1zM655 344h1v27h-1zM724 344h1v66h-1zM244 344h1v161h-1zM416 345h1v40h-1zM681 345h1v107h-1zM329 345h1v244h-1zM553 347h1v24h-1zM383 347h1v102h-1zM305 348h1v128h-1zM239 348h1v172h-1zM335 348h1v201h-1zM298 348h1v244h-1zM277 349h1v145h-1zM247 349h1v208h-1zM241 350h1v166h-1zM240 350h1v170h-1zM307 350h1v339h-1zM370 351h1v138h-1zM248 351h1v210h-1zM249 352h1v218h-1zM301 352h1v329h-1zM342 353h1v303h-1zM302 353h1v326h-1zM303 354h1v324h-1zM674 355h1v44h-1zM544 355h1v48h-1zM412 356h1v29h-1zM256 356h1v213h-1zM348 356h1v287h-1zM250 357h1v189h-1zM345 357h1v324h-1zM261 358h1v242h-1zM251 359h1v114h-1zM255 359h1v206h-1zM347 359h1v325h-1zM257 360h1v218h-1zM297 360h1v249h-1zM290 360h1v284h-1zM232 361h1v135h-1zM286 362h1v103h-1zM266 362h1v236h-1zM295 363h1v277h-1zM294 363h1v281h-1zM299 363h1v317h-1zM344 363h1v320h-1zM270 364h1v61h-1zM293 364h1v244h-1zM613 365h1v36h-1zM264 365h1v238h-1zM300 365h1v279h-1zM284 366h1v123h-1zM292 366h1v278h-1zM233 367h1v141h-1zM279 367h1v236h-1zM346 367h1v294h-1zM287 367h1v295h-1zM311 367h1v315h-1zM245 369h1v19h-1zM308 369h1v309h-1zM263 370h1v225h-1zM343 370h1v312h-1zM317 371h1v268h-1zM312 371h1v310h-1zM337 372h1v107h-1zM283 373h1v239h-1zM278 373h1v266h-1zM281 374h1v237h-1zM340 374h1v303h-1zM385 376h1v167h-1zM316 377h1v259h-1zM458 378h1v50h-1zM236 378h1v134h-1zM280 378h1v233h-1zM282 378h1v271h-1zM395 379h1v180h-1zM360 379h1v219h-1zM275 379h1v233h-1zM267 383h1v194h-1zM193 384h1v112h-1zM327 384h1v178h-1zM209 384h1v210h-1zM323 385h1v130h-1zM265 386h1v215h-1zM313 386h1v274h-1zM195 389h1v35h-1zM272 391h1v245h-1zM252 392h1v116h-1zM387 393h1v66h-1zM276 393h1v231h-1zM393 394h1v48h-1zM336 394h1v294h-1zM582 397h1v72h-1zM206 400h1v87h-1zM258 400h1v111h-1zM553 402h1v22h-1zM374 404h1v48h-1zM304 406h1v235h-1zM285 407h1v65h-1zM192 411h1v33h-1zM274 416h1v213h-1zM373 420h1v133h-1zM321 421h1v85h-1zM253 422h1v61h-1zM384 422h1v71h-1zM245 429h1v140h-1zM315 429h1v204h-1zM314 435h1v203h-1zM391 441h1v34h-1zM334 444h1v27h-1zM682 447h1v17h-1zM320 449h1v52h-1zM242 451h1v48h-1zM192 454h1v68h-1zM289 454h1v171h-1zM288 456h1v225h-1zM231 458h1v38h-1zM306 458h1v166h-1zM270 459h1v54h-1zM183 472h1v94h-1zM268 475h1v165h-1zM322 478h1v66h-1zM251 491h1v118h-1zM296 492h1v152h-1zM318 497h1v138h-1zM271 498h1v33h-1zM334 498h1v90h-1zM190 502h1v49h-1zM291 509h1v59h-1zM254 513h1v99h-1zM361 518h1v133h-1zM270 519h1v85h-1zM252 527h1v66h-1zM337 536h1v36h-1zM284 539h1v63h-1zM246 543h1v36h-1zM259 545h1v57h-1zM393 546h1v24h-1zM286 546h1v114h-1zM277 548h1v117h-1zM310 552h1v102h-1zM305 552h1v116h-1zM320 553h1v36h-1zM243 567h1v5h-1zM253 570h1v22h-1zM285 570h1v89h-1zM250 573h1v22h-1zM271 573h1v30h-1zM309 573h1v86h-1zM341 576h1v27h-1zM327 579h1v79h-1zM338 583h1v105h-1zM363 584h1v17h-1zM206 591h1v1h-1zM330 592h1v87h-1zM332 592h1v93h-1zM321 594h1v28h-1zM320 594h1v29h-1zM329 594h1v86h-1zM246 598h1v32h-1zM337 606h1v35h-1zM323 606h1v60h-1zM394 611h1v37h-1zM283 613h1v33h-1zM293 615h1v27h-1zM280 616h1v32h-1zM281 616h1v34h-1zM267 620h1v19h-1zM341 620h1v25h-1zM334 622h1v27h-1zM207 623h1v24h-1zM360 625h1v70h-1zM189 627h1v51h-1zM335 630h1v50h-1zM321 634h1v38h-1zM271 635h1v51h-1zM242 638h1v37h-1zM259 639h1v42h-1zM269 640h1v25h-1zM353 644h1v41h-1zM341 646h1v50h-1zM300 647h1v32h-1zM297 648h1v39h-1zM268 650h1v32h-1zM322 653h1v21h-1zM318 656h1v25h-1zM289 656h1v35h-1zM245 657h1v23h-1zM316 657h1v23h-1zM348 657h1v26h-1zM337 660h1v43h-1zM313 662h1v18h-1zM346 662h1v20h-1zM350 662h2v22h-2zM349 663h1v19h-1zM355 663h1v22h-1zM315 669h1v21h-1zM304 670h1v12h-1zM327 670h1v29h-1zM314 671h1v10h-1z"/><path fill="#0075FF" d="M836 212h1v56h-1zM777 228h1v57h-1zM1013 228h1v86h-1zM962 235h1v38h-1zM821 241h1v30h-1zM823 241h1v51h-1zM695 242h1v32h-1zM741 244h1v95h-1zM770 248h1v50h-1zM922 249h1v33h-1zM1008 249h1v40h-1zM972 253h1v90h-1zM916 256h1v135h-1zM691 257h1v100h-1zM837 258h1v45h-1zM861 258h1v47h-1zM672 259h1v35h-1zM490 259h1v57h-1zM923 260h1v41h-1zM729 261h1v52h-1zM1007 261h1v99h-1zM816 263h1v37h-1zM728 263h1v93h-1zM844 264h1v43h-1zM975 264h1v57h-1zM682 266h1v64h-1zM918 266h1v134h-1zM734 267h1v60h-1zM924 267h1v113h-1zM521 268h1v39h-1zM736 268h1v45h-1zM974 268h1v73h-1zM839 269h1v30h-1zM546 269h1v116h-1zM459 270h1v36h-1zM859 270h1v46h-1zM853 270h1v88h-1zM998 271h1v24h-1zM978 271h1v38h-1zM876 271h1v79h-1zM952 272h1v51h-1zM726 272h1v71h-1zM611 272h1v161h-1zM499 273h1v43h-1zM948 273h1v75h-1zM1015 274h1v6h-1zM656 274h1v38h-1zM961 274h1v43h-1zM841 276h1v55h-1zM688 276h1v57h-1zM949 276h1v76h-1zM913 276h1v133h-1zM911 277h1v129h-1zM847 278h1v55h-1zM860 279h1v29h-1zM827 279h1v32h-1zM872 279h1v53h-1zM877 279h1v62h-1zM824 279h1v72h-1zM933 279h1v118h-1zM825 280h1v29h-1zM826 280h1v34h-1zM1012 280h1v86h-1zM904 280h1v106h-1zM833 281h1v36h-1zM953 281h1v72h-1zM942 281h1v76h-1zM753 281h1v96h-1zM999 282h1v41h-1zM491 282h1v57h-1zM870 283h1v52h-1zM957 283h1v64h-1zM846 284h1v42h-1zM994 284h1v60h-1zM842 284h1v68h-1zM938 284h1v73h-1zM745 285h1v37h-1zM858 285h1v41h-1zM1018 285h1v55h-1zM874 285h1v58h-1zM873 285h1v61h-1zM937 285h1v64h-1zM849 286h1v32h-1zM601 286h1v67h-1zM614 287h1v36h-1zM863 287h1v36h-1zM866 287h1v36h-1zM831 287h1v38h-1zM848 287h1v40h-1zM649 287h1v51h-1zM871 287h1v51h-1zM987 287h1v57h-1zM739 287h1v63h-1zM424 288h1v39h-1zM830 288h1v39h-1zM537 288h1v43h-1zM754 288h1v44h-1zM545 288h1v46h-1zM986 288h1v49h-1zM947 288h1v59h-1zM501 288h1v60h-1zM941 288h1v62h-1zM742 288h1v65h-1zM927 288h1v117h-1zM950 289h1v27h-1zM862 289h1v30h-1zM835 289h1v43h-1zM843 289h1v56h-1zM992 289h1v57h-1zM562 289h1v75h-1zM755 289h1v83h-1zM864 290h1v30h-1zM867 290h1v36h-1zM985 290h1v42h-1zM988 290h1v51h-1zM480 290h1v53h-1zM749 290h1v54h-1zM934 290h1v63h-1zM930 291h1v21h-1zM851 291h1v33h-1zM855 291h1v37h-1zM751 291h1v40h-1zM822 292h1v23h-1zM865 292h1v32h-1zM976 292h1v32h-1zM857 292h1v35h-1zM828 292h1v46h-1zM996 292h1v57h-1zM829 293h1v34h-1zM868 293h1v38h-1zM748 293h1v39h-1zM935 293h1v52h-1zM945 293h1v56h-1zM991 293h1v59h-1zM479 293h1v61h-1zM730 293h1v71h-1zM467 293h1v77h-1zM894 293h1v153h-1zM850 294h1v33h-1zM856 294h1v44h-1zM809 294h1v45h-1zM737 294h1v53h-1zM939 294h1v57h-1zM487 294h1v65h-1zM910 294h1v117h-1zM645 295h1v39h-1zM818 295h1v41h-1zM820 295h1v43h-1zM817 295h1v47h-1zM743 295h1v56h-1zM993 295h1v60h-1zM940 295h1v63h-1zM723 295h1v69h-1zM481 295h1v76h-1zM990 296h1v52h-1zM959 296h1v57h-1zM536 297h1v28h-1zM869 297h1v44h-1zM819 297h1v51h-1zM750 297h1v52h-1zM944 297h1v55h-1zM936 297h1v57h-1zM733 297h1v61h-1zM653 298h1v27h-1zM635 298h1v30h-1zM854 298h1v31h-1zM834 298h1v49h-1zM958 298h1v56h-1zM756 298h1v63h-1zM875 298h1v67h-1zM909 298h1v136h-1zM977 299h1v27h-1zM832 299h1v30h-1zM498 299h1v36h-1zM956 299h1v51h-1zM984 300h1v41h-1zM732 300h1v60h-1zM642 300h1v64h-1zM186 300h1v190h-1zM888 300h1v218h-1zM771 301h1v30h-1zM449 301h1v63h-1zM774 301h1v79h-1zM902 301h1v138h-1zM905 301h1v140h-1zM852 302h1v25h-1zM926 303h1v52h-1zM773 303h1v56h-1zM780 303h1v76h-1zM555 304h1v41h-1zM657 304h1v43h-1zM811 304h1v43h-1zM943 304h1v50h-1zM954 304h1v52h-1zM772 304h1v65h-1zM747 304h1v66h-1zM684 304h1v78h-1zM465 304h1v88h-1zM810 305h1v39h-1zM813 305h1v39h-1zM502 305h1v46h-1zM731 305h1v63h-1zM685 305h1v71h-1zM907 305h1v136h-1zM676 306h1v53h-1zM759 306h1v55h-1zM760 306h1v67h-1zM686 306h1v69h-1zM209 306h1v78h-1zM906 306h1v135h-1zM971 307h1v39h-1zM812 307h1v41h-1zM565 307h1v48h-1zM845 307h1v50h-1zM468 307h1v58h-1zM901 307h1v129h-1zM955 308h1v42h-1zM814 308h2v43h-2zM960 308h1v45h-1zM925 308h1v47h-1zM979 309h1v43h-1zM989 309h1v45h-1zM690 309h1v59h-1zM687 309h1v64h-1zM778 309h1v67h-1zM779 309h1v71h-1zM781 309h1v75h-1zM903 309h1v98h-1zM908 309h1v109h-1zM900 309h1v124h-1zM671 310h1v34h-1zM744 310h1v38h-1zM966 310h1v39h-1zM983 310h1v40h-1zM1011 310h1v59h-1zM766 310h1v61h-1zM679 310h1v88h-1zM931 311h1v28h-1zM964 311h1v40h-1zM504 311h1v42h-1zM466 311h1v43h-1zM650 311h1v72h-1zM698 311h1v81h-1zM677 311h1v86h-1zM475 311h1v120h-1zM587 312h1v55h-1zM767 312h1v65h-1zM746 312h1v71h-1zM678 312h1v89h-1zM586 313h1v35h-1zM692 313h1v43h-1zM967 313h1v64h-1zM410 313h1v175h-1zM981 314h1v40h-1zM675 314h1v48h-1zM540 314h1v90h-1zM652 314h1v116h-1zM561 315h1v40h-1zM503 315h1v46h-1zM694 315h1v53h-1zM765 315h1v53h-1zM633 315h1v63h-1zM757 315h1v76h-1zM582 315h1v82h-1zM878 315h1v91h-1zM391 315h1v126h-1zM647 316h1v43h-1zM693 316h1v52h-1zM764 316h1v58h-1zM1010 316h1v58h-1zM648 316h1v63h-1zM579 316h1v74h-1zM1014 317h1v26h-1zM982 317h1v33h-1zM973 317h1v36h-1zM535 317h1v42h-1zM564 317h1v47h-1zM593 317h1v77h-1zM893 317h1v78h-1zM505 317h1v90h-1zM469 317h1v111h-1zM735 318h1v32h-1zM963 318h1v39h-1zM840 318h1v47h-1zM763 318h1v50h-1zM445 318h1v79h-1zM639 319h1v46h-1zM448 319h1v54h-1zM592 319h1v65h-1zM578 319h1v110h-1zM899 319h1v116h-1zM213 319h1v299h-1zM612 320h1v57h-1zM607 320h1v76h-1zM464 320h1v78h-1zM563 321h1v32h-1zM1016 321h1v47h-1zM471 321h1v50h-1zM470 321h1v53h-1zM752 321h1v74h-1zM441 321h1v80h-1zM444 321h1v82h-1zM442 321h1v86h-1zM539 321h1v87h-1zM892 321h1v135h-1zM430 322h1v37h-1zM643 322h1v41h-1zM727 322h1v43h-1zM567 323h1v32h-1zM965 323h1v34h-1zM519 323h1v39h-1zM634 323h1v48h-1zM762 323h1v50h-1zM454 323h1v53h-1zM443 323h1v78h-1zM478 324h1v39h-1zM472 324h1v42h-1zM689 324h1v46h-1zM637 324h1v53h-1zM654 324h1v54h-1zM605 324h1v70h-1zM808 324h1v94h-1zM473 325h1v43h-1zM557 325h1v43h-1zM651 326h1v69h-1zM447 326h1v75h-1zM758 326h1v100h-1zM185 326h1v254h-1zM415 327h1v34h-1zM738 327h1v34h-1zM599 327h1v45h-1zM596 327h1v50h-1zM608 327h1v64h-1zM494 327h1v67h-1zM577 327h1v86h-1zM891 327h1v141h-1zM597 328h1v34h-1zM1009 328h1v37h-1zM632 328h1v41h-1zM591 328h1v64h-1zM463 328h1v74h-1zM560 328h1v83h-1zM590 328h1v90h-1zM576 328h1v92h-1zM625 329h1v51h-1zM574 329h1v84h-1zM575 329h1v89h-1zM456 329h1v91h-1zM552 329h1v100h-1zM788 329h1v165h-1zM460 330h1v29h-1zM589 330h1v63h-1zM446 330h1v66h-1zM604 330h1v68h-1zM461 331h1v26h-1zM439 331h1v38h-1zM761 331h1v42h-1zM1001 331h1v45h-1zM183 331h1v66h-1zM488 331h1v103h-1zM709 331h1v209h-1zM626 332h1v39h-1zM629 332h1v55h-1zM636 332h1v56h-1zM628 332h1v61h-1zM670 332h1v64h-1zM638 332h1v72h-1zM573 332h1v74h-1zM533 332h1v94h-1zM534 332h1v97h-1zM225 332h1v344h-1zM951 333h1v22h-1zM566 333h1v31h-1zM429 333h1v35h-1zM432 333h1v60h-1zM668 333h1v63h-1zM486 333h1v86h-1zM970 334h1v13h-1zM434 334h1v40h-1zM523 334h1v41h-1zM658 334h1v62h-1zM912 334h1v67h-1zM476 334h1v85h-1zM537 334h1v99h-1zM600 335h1v37h-1zM615 335h1v54h-1zM914 335h1v60h-1zM603 335h1v61h-1zM595 335h1v63h-1zM506 335h1v65h-1zM496 335h1v67h-1zM529 335h1v89h-1zM666 335h1v98h-1zM897 335h1v111h-1zM969 336h1v16h-1zM740 336h1v18h-1zM598 336h1v27h-1zM551 336h1v36h-1zM1003 336h1v38h-1zM782 336h1v49h-1zM624 336h1v54h-1zM570 336h1v56h-1zM669 336h1v58h-1zM571 336h1v61h-1zM594 336h1v61h-1zM919 336h1v63h-1zM455 336h1v73h-1zM682 336h1v111h-1zM806 336h1v159h-1zM882 336h1v211h-1zM641 337h1v28h-1zM644 337h1v33h-1zM513 337h1v38h-1zM427 337h1v53h-1zM433 337h1v55h-1zM722 337h1v71h-1zM485 337h1v85h-1zM531 337h1v95h-1zM946 338h1v16h-1zM619 338h1v25h-1zM663 338h1v40h-1zM616 338h1v54h-1zM660 338h1v58h-1zM920 338h1v59h-1zM431 338h1v60h-1zM413 338h1v61h-1zM898 338h1v80h-1zM885 338h1v188h-1zM646 339h1v29h-1zM422 339h1v46h-1zM627 339h1v54h-1zM659 339h1v62h-1zM495 339h1v72h-1zM484 339h1v73h-1zM580 339h1v81h-1zM532 339h1v88h-1zM435 339h1v109h-1zM516 340h1v34h-1zM661 340h1v35h-1zM1002 340h1v37h-1zM568 340h1v49h-1zM517 341h1v28h-1zM515 341h1v30h-1zM1004 341h1v36h-1zM569 341h1v55h-1zM419 341h1v58h-1zM184 341h1v59h-1zM572 341h1v61h-1zM450 341h1v64h-1zM547 341h1v79h-1zM556 341h1v94h-1zM883 341h1v179h-1zM418 342h1v55h-1zM510 342h1v55h-1zM420 342h1v57h-1zM520 342h1v57h-1zM421 342h1v61h-1zM497 342h1v61h-1zM640 342h1v62h-1zM452 342h1v66h-1zM559 342h1v79h-1zM585 342h1v109h-1zM190 342h1v160h-1zM514 343h1v31h-1zM667 343h1v52h-1zM623 343h1v68h-1zM426 343h1v76h-1zM525 343h1v85h-1zM526 343h1v89h-1zM512 344h1v51h-1zM453 344h1v62h-1zM530 344h1v63h-1zM192 344h1v67h-1zM451 344h1v68h-1zM425 344h1v79h-1zM182 344h1v350h-1zM522 345h1v23h-1zM414 345h1v46h-1zM511 345h1v52h-1zM768 345h1v57h-1zM489 345h1v80h-1zM549 345h1v83h-1zM189 345h1v282h-1zM528 346h1v23h-1zM554 346h1v26h-1zM997 346h1v39h-1zM548 346h1v73h-1zM411 346h1v107h-1zM428 347h1v69h-1zM550 347h1v81h-1zM620 348h1v50h-1zM258 348h1v52h-1zM436 348h1v130h-1zM254 348h1v165h-1zM799 348h1v187h-1zM179 348h1v266h-1zM630 349h1v56h-1zM490 349h1v75h-1zM477 349h1v83h-1zM212 349h1v207h-1zM483 350h1v19h-1zM606 350h1v36h-1zM662 350h1v70h-1zM713 350h1v161h-1zM879 350h1v172h-1zM929 351h1v16h-1zM673 351h1v29h-1zM621 351h1v55h-1zM665 351h1v65h-1zM492 351h1v75h-1zM783 351h1v79h-1zM805 351h1v141h-1zM884 351h1v149h-1zM205 351h1v337h-1zM584 352h1v34h-1zM998 352h1v35h-1zM524 352h1v72h-1zM915 353h1v39h-1zM518 353h1v43h-1zM697 353h1v43h-1zM602 353h1v78h-1zM995 354h1v31h-1zM500 354h1v42h-1zM543 354h1v44h-1zM622 354h1v50h-1zM838 354h1v69h-1zM786 354h1v179h-1zM180 354h1v206h-1zM617 355h1v39h-1zM664 355h1v78h-1zM886 355h1v165h-1zM880 356h1v180h-1zM437 357h1v110h-1zM701 357h1v139h-1zM581 358h1v63h-1zM462 358h1v181h-1zM208 358h1v258h-1zM206 359h1v41h-1zM509 359h1v126h-1zM784 359h1v164h-1zM438 359h1v199h-1zM191 359h1v257h-1zM1005 360h1v21h-1zM769 360h1v25h-1zM493 360h1v44h-1zM610 360h1v45h-1zM712 360h1v200h-1zM214 360h1v268h-1zM227 360h1v302h-1zM482 361h1v68h-1zM895 361h1v77h-1zM222 361h1v283h-1zM423 362h1v59h-1zM417 362h1v101h-1zM881 362h1v178h-1zM932 363h1v28h-1zM440 363h1v50h-1zM699 363h1v133h-1zM792 363h1v152h-1zM219 363h1v313h-1zM968 364h1v36h-1zM474 364h1v58h-1zM890 364h1v140h-1zM794 364h1v147h-1zM789 364h1v167h-1zM188 364h1v287h-1zM793 365h1v173h-1zM193 366h1v18h-1zM1013 366h1v28h-1zM725 366h1v33h-1zM583 366h1v40h-1zM887 366h1v144h-1zM889 366h1v149h-1zM807 366h1v160h-1zM795 366h1v166h-1zM204 366h1v314h-1zM201 366h1v328h-1zM672 367h1v50h-1zM791 367h1v179h-1zM785 367h1v188h-1zM790 367h1v188h-1zM229 367h1v297h-1zM223 367h1v304h-1zM200 367h1v309h-1zM210 367h1v318h-1zM1000 368h1v26h-1zM609 368h1v30h-1zM558 368h1v79h-1zM798 368h1v159h-1zM197 368h1v304h-1zM202 368h1v307h-1zM267 369h1v14h-1zM252 369h1v23h-1zM631 369h1v53h-1zM917 369h1v56h-1zM796 369h1v158h-1zM715 369h1v163h-1zM198 369h1v305h-1zM221 369h1v305h-1zM199 369h1v311h-1zM203 369h1v322h-1zM527 370h1v41h-1zM787 370h1v168h-1zM196 370h1v261h-1zM224 370h1v302h-1zM220 370h1v318h-1zM458 371h1v7h-1zM980 371h1v17h-1zM1006 371h1v25h-1zM655 371h1v26h-1zM553 371h1v31h-1zM1015 371h1v33h-1zM1017 371h1v33h-1zM797 371h1v159h-1zM181 371h1v180h-1zM409 371h1v185h-1zM507 372h1v119h-1zM716 372h1v162h-1zM216 372h1v267h-1zM195 373h1v16h-1zM618 374h1v42h-1zM714 374h1v156h-1zM717 374h1v160h-1zM718 374h1v161h-1zM703 375h1v153h-1zM776 376h1v23h-1zM719 376h1v159h-1zM211 377h1v116h-1zM928 378h1v31h-1zM700 378h1v132h-1zM721 378h1v145h-1zM705 378h1v149h-1zM720 378h1v161h-1zM217 378h1v318h-1zM921 379h1v17h-1zM696 379h1v32h-1zM704 379h1v154h-1zM228 379h1v281h-1zM775 381h1v28h-1zM896 381h1v61h-1zM707 381h1v159h-1zM800 382h1v128h-1zM508 383h1v46h-1zM513 384h1v44h-1zM481 384h1v109h-1zM412 385h1v24h-1zM416 385h1v33h-1zM702 387h1v134h-1zM706 389h1v141h-1zM708 389h1v173h-1zM680 390h1v133h-1zM218 390h1v283h-1zM803 391h1v115h-1zM801 392h1v139h-1zM541 398h1v39h-1zM390 398h1v156h-1zM802 398h1v171h-1zM392 398h1v243h-1zM674 399h1v32h-1zM613 401h1v33h-1zM538 401h1v34h-1zM557 402h1v21h-1zM407 402h1v266h-1zM215 402h1v292h-1zM551 403h1v19h-1zM544 403h1v43h-1zM804 404h1v146h-1zM562 405h1v30h-1zM408 406h1v240h-1zM588 407h1v39h-1zM683 407h1v155h-1zM545 408h1v91h-1zM724 410h1v43h-1zM844 410h1v47h-1zM405 411h1v258h-1zM406 411h1v259h-1zM711 412h1v148h-1zM400 413h1v247h-1zM619 414h1v56h-1zM710 414h1v137h-1zM399 414h1v252h-1zM517 415h1v7h-1zM396 415h1v247h-1zM403 415h2v252h-2zM401 415h1v254h-1zM230 416h1v239h-1zM402 417h1v251h-1zM226 419h1v243h-1zM397 420h1v240h-1zM183 422h1v50h-1zM457 423h1v38h-1zM553 424h1v43h-1zM195 424h1v205h-1zM270 425h1v34h-1zM271 425h1v73h-1zM458 428h1v25h-1zM378 436h1v241h-1zM910 438h1v18h-1zM372 438h1v242h-1zM371 438h1v244h-1zM398 439h1v134h-1zM369 440h1v238h-1zM366 441h1v239h-1zM393 442h1v104h-1zM691 443h1v31h-1zM192 444h1v10h-1zM375 444h1v201h-1zM367 445h1v236h-1zM381 446h1v229h-1zM379 446h1v234h-1zM306 447h1v11h-1zM377 447h1v218h-1zM382 448h1v224h-1zM383 449h1v230h-1zM231 450h1v8h-1zM380 450h1v226h-1zM681 452h1v26h-1zM374 452h1v112h-1zM368 454h1v226h-1zM387 459h1v232h-1zM389 462h1v40h-1zM412 464h1v25h-1zM682 464h1v93h-1zM376 465h1v218h-1zM394 467h1v92h-1zM187 468h1v171h-1zM542 469h1v56h-1zM582 469h1v59h-1zM251 473h1v18h-1zM391 475h1v195h-1zM671 478h1v10h-1zM916 479h1v10h-1zM253 483h1v87h-1zM386 486h1v156h-1zM365 486h1v171h-1zM206 487h1v104h-1zM370 489h1v204h-1zM384 493h1v187h-1zM483 495h1v92h-1zM237 495h1v171h-1zM232 496h1v68h-1zM243 496h1v71h-1zM231 496h1v171h-1zM193 496h1v208h-1zM242 499h1v139h-1zM364 500h1v204h-1zM320 501h1v52h-1zM440 501h1v66h-1zM546 504h1v56h-1zM244 505h1v156h-1zM321 506h1v35h-1zM233 508h1v189h-1zM258 511h1v196h-1zM236 512h1v180h-1zM460 513h1v15h-1zM361 515h1v3h-1zM323 515h1v91h-1zM238 515h1v168h-1zM673 516h1v35h-1zM241 516h1v164h-1zM240 520h1v161h-1zM239 520h1v162h-1zM192 522h1v137h-1zM194 524h1v124h-1zM234 529h1v126h-1zM567 530h1v48h-1zM235 539h1v73h-1zM385 543h1v87h-1zM322 544h1v109h-1zM310 546h1v6h-1zM250 546h1v27h-1zM363 548h1v36h-1zM186 549h1v54h-1zM335 549h1v81h-1zM190 551h1v136h-1zM373 553h1v57h-1zM458 556h1v35h-1zM247 557h1v123h-1zM552 558h1v46h-1zM395 559h1v23h-1zM248 561h1v121h-1zM327 562h1v17h-1zM321 562h1v32h-1zM309 565h1v8h-1zM255 565h1v121h-1zM183 566h1v49h-1zM291 568h1v118h-1zM207 569h1v54h-1zM245 569h1v88h-1zM256 569h1v117h-1zM393 570h1v37h-1zM249 570h1v114h-1zM260 571h1v115h-1zM243 572h1v99h-1zM388 576h1v65h-1zM232 576h1v119h-1zM184 577h1v18h-1zM211 577h1v97h-1zM257 578h1v108h-1zM212 582h1v48h-1zM481 583h1v13h-1zM559 586h1v8h-1zM498 587h1v7h-1zM334 588h1v34h-1zM329 589h1v5h-1zM332 590h1v2h-1zM674 590h1v2h-1zM389 590h1v72h-1zM330 591h1v1h-1zM206 592h1v48h-1zM253 592h1v94h-1zM298 592h1v107h-1zM394 593h1v18h-1zM252 593h1v35h-1zM209 594h1v24h-1zM262 594h1v89h-1zM250 595h1v92h-1zM263 595h1v92h-1zM360 598h1v27h-1zM266 598h1v86h-1zM181 600h1v50h-1zM261 600h1v84h-1zM265 601h1v80h-1zM363 601h1v102h-1zM284 602h1v91h-1zM341 603h1v17h-1zM271 603h1v32h-1zM264 603h1v82h-1zM279 603h1v97h-1zM270 604h1v37h-1zM185 605h1v95h-1zM398 606h1v45h-1zM293 608h1v7h-1zM251 609h1v39h-1zM297 609h1v39h-1zM280 611h2v5h-2zM283 612h1v1h-1zM275 612h1v63h-1zM254 612h1v72h-1zM235 615h1v27h-1zM395 622h1v75h-1zM320 623h1v20h-1zM276 624h1v60h-1zM306 624h1v74h-1zM289 625h1v31h-1zM362 627h1v96h-1zM349 628h1v35h-1zM353 629h1v15h-1zM274 629h1v58h-1zM246 630h1v60h-1zM195 630h1v72h-1zM252 631h1v59h-1zM325 631h1v84h-1zM208 634h1v56h-1zM318 635h1v21h-1zM316 636h1v21h-1zM272 636h1v31h-1zM324 637h1v73h-1zM326 637h1v76h-1zM314 638h1v33h-1zM183 639h1v12h-1zM278 639h1v42h-1zM267 639h1v59h-1zM317 639h1v70h-1zM268 640h1v10h-1zM374 640h1v32h-1zM295 640h1v59h-1zM337 641h1v19h-1zM350 641h1v21h-1zM184 641h1v27h-1zM304 641h1v29h-1zM293 642h1v56h-1zM348 643h1v14h-1zM300 644h1v3h-1zM290 644h1v51h-1zM292 644h1v54h-1zM296 644h1v55h-1zM294 644h1v56h-1zM283 646h1v47h-1zM351 647h1v15h-1zM207 647h1v23h-1zM222 647h1v26h-1zM392 647h1v47h-1zM280 648h1v39h-1zM216 648h1v46h-1zM394 648h1v48h-1zM235 648h1v49h-1zM282 649h1v42h-1zM386 649h1v43h-1zM334 649h1v56h-1zM281 650h1v38h-1zM320 650h1v49h-1zM213 651h1v18h-1zM361 651h1v53h-1zM375 652h1v11h-1zM328 652h1v63h-1zM214 653h1v19h-1zM273 653h1v33h-1zM310 654h1v46h-1zM388 656h1v24h-1zM186 656h1v25h-1zM342 656h1v48h-1zM355 657h1v6h-1zM327 658h1v12h-1zM285 659h1v30h-1zM309 659h1v44h-1zM313 660h1v2h-1zM286 660h1v30h-1zM346 661h1v1h-1zM179 662h1v23h-1zM287 662h1v36h-1zM269 665h1v19h-1zM277 665h1v22h-1zM323 666h1v40h-1zM365 668h1v20h-1zM305 668h1v26h-1zM206 671h1v21h-1zM321 672h1v40h-1zM322 674h1v38h-1zM242 675h1v13h-1zM340 677h1v30h-1zM303 678h1v24h-1zM189 678h1v25h-1zM308 678h1v29h-1zM391 678h1v29h-1zM300 679h1v22h-1zM302 679h1v23h-1zM330 679h2v34h-2zM333 679h1v34h-1zM245 680h1v19h-1zM299 680h1v22h-1zM335 680h1v25h-1zM313 680h1v27h-1zM339 680h1v27h-1zM316 680h1v28h-1zM329 680h1v35h-1zM259 681h1v20h-1zM301 681h1v20h-1zM288 681h1v22h-1zM345 681h1v25h-1zM314 681h1v27h-1zM312 681h1v29h-1zM393 681h1v32h-1zM318 681h1v43h-1zM268 682h1v16h-1zM304 682h1v23h-1zM343 682h1v24h-1zM311 682h1v26h-1zM346 682h1v26h-1zM349 682h1v27h-1zM344 683h1v23h-1zM348 683h1v24h-1zM354 683h1v30h-1zM347 684h1v23h-1zM350 684h1v24h-1zM351 684h2v26h-2zM319 684h1v30h-1zM225 685h1v9h-1zM194 685h1v12h-1zM358 685h1v26h-1zM353 685h1v27h-1zM355 685h1v27h-1zM357 685h1v28h-1zM359 685h1v29h-1zM332 685h1v30h-1zM356 685h1v30h-1zM271 686h1v15h-1zM202 687h1v7h-1zM297 687h1v18h-1zM336 688h1v21h-1zM338 688h1v35h-1zM228 689h1v6h-1zM307 689h1v20h-1zM223 690h1v4h-1zM315 690h1v19h-1zM227 691h1v3h-1zM251 691h1v3h-1zM270 691h1v4h-1zM289 691h1v23h-1zM230 693h1v1h-1zM360 695h1v27h-1zM341 696h1v35h-1zM327 699h1v20h-1zM337 703h1v17h-1zM320 720h1v2h-1z"/><path fill="#009EFF" d="M836 268h1v78h-1zM821 271h1v190h-1zM962 273h1v104h-1zM695 274h1v188h-1zM922 282h1v106h-1zM777 285h1v119h-1zM1008 289h1v43h-1zM823 292h1v80h-1zM770 298h1v205h-1zM839 299h1v31h-1zM816 300h1v37h-1zM923 301h1v45h-1zM837 303h1v39h-1zM861 305h1v173h-1zM459 306h1v51h-1zM521 307h1v49h-1zM844 307h1v62h-1zM860 308h1v36h-1zM825 309h1v33h-1zM978 309h1v51h-1zM827 311h1v39h-1zM930 312h1v20h-1zM656 312h1v57h-1zM736 313h1v41h-1zM729 313h1v50h-1zM826 314h1v58h-1zM822 315h1v24h-1zM950 316h1v29h-1zM490 316h1v33h-1zM499 316h1v56h-1zM859 316h1v97h-1zM961 317h1v35h-1zM833 317h1v75h-1zM849 318h1v119h-1zM862 319h1v101h-1zM864 320h1v56h-1zM975 321h1v165h-1zM745 322h1v217h-1zM866 323h1v62h-1zM999 323h1v64h-1zM952 323h1v90h-1zM863 323h1v97h-1zM614 323h1v181h-1zM976 324h1v32h-1zM865 324h1v60h-1zM851 324h1v69h-1zM831 325h1v69h-1zM536 325h1v78h-1zM653 325h1v86h-1zM977 326h1v22h-1zM846 326h1v49h-1zM858 326h1v81h-1zM867 326h1v83h-1zM848 327h1v34h-1zM852 327h1v36h-1zM850 327h1v55h-1zM830 327h1v75h-1zM829 327h1v81h-1zM857 327h1v99h-1zM424 327h1v116h-1zM734 327h1v140h-1zM635 328h1v39h-1zM855 328h1v79h-1zM854 329h1v66h-1zM832 329h1v78h-1zM682 330h1v6h-1zM537 331h1v3h-1zM841 331h1v28h-1zM771 331h1v45h-1zM868 331h1v66h-1zM751 331h1v106h-1zM985 332h1v36h-1zM872 332h1v43h-1zM835 332h1v62h-1zM754 332h1v82h-1zM748 332h1v104h-1zM847 333h1v42h-1zM688 333h1v95h-1zM545 334h1v74h-1zM645 334h1v191h-1zM498 335h1v37h-1zM870 335h1v69h-1zM818 336h1v92h-1zM986 337h1v33h-1zM820 338h1v53h-1zM871 338h1v63h-1zM828 338h1v69h-1zM856 338h1v72h-1zM649 338h1v73h-1zM741 339h1v22h-1zM491 339h1v33h-1zM931 339h1v34h-1zM809 339h1v54h-1zM1018 340h1v114h-1zM984 341h1v34h-1zM974 341h1v37h-1zM988 341h1v38h-1zM877 341h1v65h-1zM869 341h1v69h-1zM817 342h1v68h-1zM1014 343h1v22h-1zM874 343h1v30h-1zM726 343h1v41h-1zM972 343h1v51h-1zM480 343h1v70h-1zM987 344h1v36h-1zM813 344h1v42h-1zM994 344h1v43h-1zM810 344h1v47h-1zM749 344h1v91h-1zM671 344h1v134h-1zM935 345h1v34h-1zM843 345h1v72h-1zM555 345h1v92h-1zM971 346h1v27h-1zM992 346h1v41h-1zM873 346h1v56h-1zM970 347h1v14h-1zM957 347h1v33h-1zM947 347h1v39h-1zM811 347h1v46h-1zM737 347h1v47h-1zM657 347h1v49h-1zM834 347h1v50h-1zM744 348h1v29h-1zM948 348h1v33h-1zM990 348h1v34h-1zM812 348h1v47h-1zM586 348h1v66h-1zM819 348h1v67h-1zM501 348h1v85h-1zM966 349h1v30h-1zM937 349h1v33h-1zM945 349h1v39h-1zM996 349h1v39h-1zM750 349h1v87h-1zM735 350h1v21h-1zM955 350h1v27h-1zM956 350h1v28h-1zM982 350h1v29h-1zM983 350h1v34h-1zM941 350h1v36h-1zM876 350h1v74h-1zM739 350h1v103h-1zM964 351h1v34h-1zM939 351h1v40h-1zM824 351h1v42h-1zM814 351h1v61h-1zM815 351h1v68h-1zM743 351h1v90h-1zM502 351h1v98h-1zM969 352h1v16h-1zM949 352h1v31h-1zM991 352h1v33h-1zM979 352h1v34h-1zM944 352h1v40h-1zM842 352h1v77h-1zM953 353h1v26h-1zM973 353h1v28h-1zM959 353h1v29h-1zM960 353h1v31h-1zM934 353h1v32h-1zM742 353h1v88h-1zM563 353h1v98h-1zM601 353h1v124h-1zM504 353h1v141h-1zM946 354h1v15h-1zM740 354h1v18h-1zM981 354h1v29h-1zM958 354h1v31h-1zM936 354h1v32h-1zM943 354h1v33h-1zM989 354h1v33h-1zM466 354h1v167h-1zM479 354h1v199h-1zM951 355h1v22h-1zM567 355h1v29h-1zM993 355h1v32h-1zM925 355h1v33h-1zM926 355h1v37h-1zM561 355h1v61h-1zM565 355h1v155h-1zM954 356h1v27h-1zM728 356h1v43h-1zM692 356h1v58h-1zM963 357h1v28h-1zM965 357h1v28h-1zM461 357h1v31h-1zM938 357h1v34h-1zM942 357h1v36h-1zM845 357h1v58h-1zM691 357h1v86h-1zM940 358h1v32h-1zM853 358h1v54h-1zM733 358h1v99h-1zM460 359h1v31h-1zM535 359h1v45h-1zM647 359h1v57h-1zM773 359h1v58h-1zM430 359h1v78h-1zM487 359h1v82h-1zM676 359h1v108h-1zM1007 360h1v48h-1zM732 360h1v81h-1zM415 361h1v52h-1zM503 361h1v63h-1zM756 361h1v70h-1zM759 361h1v74h-1zM738 361h1v82h-1zM675 362h1v39h-1zM519 362h1v155h-1zM597 362h1v214h-1zM619 363h1v51h-1zM478 363h1v82h-1zM643 363h1v103h-1zM598 363h1v204h-1zM562 364h1v41h-1zM723 364h1v45h-1zM730 364h1v58h-1zM566 364h1v109h-1zM642 364h1v115h-1zM564 364h1v158h-1zM449 364h1v254h-1zM1009 365h1v26h-1zM727 365h1v31h-1zM641 365h1v68h-1zM468 365h1v81h-1zM840 365h1v114h-1zM639 365h1v144h-1zM875 365h1v197h-1zM1012 366h1v20h-1zM472 366h1v131h-1zM929 367h1v20h-1zM587 367h1v170h-1zM1016 368h1v27h-1zM557 368h1v34h-1zM646 368h1v46h-1zM731 368h1v49h-1zM765 368h1v62h-1zM763 368h1v63h-1zM429 368h1v64h-1zM522 368h1v83h-1zM694 368h1v139h-1zM473 368h1v140h-1zM693 368h1v140h-1zM690 368h1v169h-1zM1011 369h1v25h-1zM483 369h1v32h-1zM632 369h1v33h-1zM517 369h1v46h-1zM528 369h1v60h-1zM772 369h1v100h-1zM439 369h1v107h-1zM644 370h1v60h-1zM747 370h1v95h-1zM467 370h1v118h-1zM689 370h1v204h-1zM481 371h1v13h-1zM766 371h1v47h-1zM634 371h1v52h-1zM626 371h1v103h-1zM515 371h1v115h-1zM471 371h1v128h-1zM551 372h1v31h-1zM755 372h1v60h-1zM554 372h1v67h-1zM600 372h1v112h-1zM599 372h1v132h-1zM448 373h1v44h-1zM760 373h1v57h-1zM762 373h1v58h-1zM761 373h1v60h-1zM687 373h1v178h-1zM1010 374h1v21h-1zM1003 374h1v22h-1zM764 374h1v54h-1zM470 374h1v123h-1zM514 374h1v134h-1zM516 374h1v134h-1zM434 374h1v176h-1zM513 375h1v9h-1zM523 375h1v94h-1zM661 375h1v137h-1zM686 375h1v175h-1zM1001 376h1v18h-1zM778 376h1v59h-1zM454 376h1v65h-1zM685 376h1v176h-1zM1002 377h1v20h-1zM1004 377h1v23h-1zM844 377h1v33h-1zM612 377h1v39h-1zM753 377h1v47h-1zM767 377h1v77h-1zM967 377h1v89h-1zM637 377h1v112h-1zM596 377h1v184h-1zM654 378h1v40h-1zM663 378h1v62h-1zM633 378h1v63h-1zM648 379h1v60h-1zM780 379h1v62h-1zM924 380h1v24h-1zM673 380h1v32h-1zM779 380h1v49h-1zM625 380h1v50h-1zM826 380h1v73h-1zM774 380h1v88h-1zM1005 381h1v16h-1zM684 382h1v170h-1zM746 383h1v79h-1zM650 383h1v85h-1zM846 384h1v45h-1zM781 384h1v53h-1zM592 384h1v172h-1zM995 385h1v17h-1zM997 385h1v20h-1zM769 385h1v25h-1zM546 385h1v53h-1zM782 385h1v62h-1zM422 385h1v95h-1zM904 386h1v70h-1zM606 386h1v159h-1zM584 386h1v162h-1zM998 387h1v16h-1zM629 387h1v54h-1zM980 388h1v14h-1zM636 388h1v102h-1zM615 389h1v61h-1zM568 389h1v135h-1zM624 390h1v61h-1zM427 390h1v168h-1zM579 390h1v181h-1zM757 391h1v43h-1zM608 391h1v52h-1zM916 391h1v88h-1zM932 391h1v113h-1zM414 391h1v115h-1zM616 392h1v60h-1zM591 392h1v90h-1zM465 392h1v102h-1zM915 392h1v112h-1zM698 392h1v118h-1zM570 392h1v132h-1zM433 392h1v163h-1zM589 393h1v40h-1zM627 393h1v66h-1zM628 393h1v74h-1zM432 393h1v164h-1zM1013 394h1v21h-1zM1000 394h1v22h-1zM605 394h1v47h-1zM617 394h1v94h-1zM593 394h1v98h-1zM669 394h1v107h-1zM494 394h1v142h-1zM752 395h1v38h-1zM651 395h1v67h-1zM914 395h1v101h-1zM667 395h1v102h-1zM893 395h1v116h-1zM512 395h1v124h-1zM921 396h1v18h-1zM1006 396h1v27h-1zM500 396h1v28h-1zM518 396h1v44h-1zM607 396h1v47h-1zM446 396h1v72h-1zM603 396h1v84h-1zM668 396h1v109h-1zM670 396h1v109h-1zM660 396h1v112h-1zM697 396h1v118h-1zM569 396h1v126h-1zM658 396h1v126h-1zM183 397h1v25h-1zM655 397h1v27h-1zM933 397h1v34h-1zM920 397h1v35h-1zM594 397h1v108h-1zM445 397h1v119h-1zM511 397h1v123h-1zM571 397h1v124h-1zM510 397h1v137h-1zM418 397h1v141h-1zM677 397h1v156h-1zM609 398h1v31h-1zM543 398h1v42h-1zM604 398h1v55h-1zM595 398h1v111h-1zM464 398h1v124h-1zM620 398h1v130h-1zM431 398h1v148h-1zM679 398h1v158h-1zM776 399h1v35h-1zM919 399h1v37h-1zM520 399h1v82h-1zM725 399h1v149h-1zM413 399h1v150h-1zM419 399h1v152h-1zM420 399h1v153h-1zM918 400h1v68h-1zM968 400h1v83h-1zM184 400h1v92h-1zM656 400h1v104h-1zM506 400h1v121h-1zM912 401h1v96h-1zM447 401h1v117h-1zM443 401h1v129h-1zM659 401h1v130h-1zM441 401h1v149h-1zM678 401h1v153h-1zM768 402h1v57h-1zM572 402h1v115h-1zM463 402h1v120h-1zM496 402h1v128h-1zM444 403h1v101h-1zM497 403h1v128h-1zM421 403h1v153h-1zM540 404h1v39h-1zM638 404h1v46h-1zM1017 404h1v50h-1zM493 404h1v59h-1zM1015 404h1v60h-1zM640 404h1v69h-1zM622 404h1v74h-1zM610 405h1v41h-1zM927 405h1v44h-1zM630 405h1v63h-1zM450 405h1v115h-1zM621 406h1v44h-1zM583 406h1v48h-1zM878 406h1v82h-1zM911 406h1v100h-1zM453 406h1v115h-1zM573 406h1v125h-1zM903 407h1v78h-1zM505 407h1v117h-1zM530 407h1v120h-1zM442 407h1v128h-1zM539 408h1v79h-1zM722 408h1v104h-1zM452 408h1v113h-1zM775 409h1v28h-1zM928 409h1v36h-1zM412 409h1v55h-1zM913 409h1v85h-1zM455 409h1v108h-1zM910 411h1v27h-1zM560 411h1v42h-1zM623 411h1v45h-1zM527 411h1v47h-1zM696 411h1v51h-1zM495 411h1v132h-1zM451 412h1v105h-1zM484 412h1v111h-1zM816 413h1v73h-1zM440 413h1v88h-1zM574 413h1v126h-1zM577 413h1v136h-1zM618 416h1v65h-1zM665 416h1v128h-1zM428 416h1v141h-1zM672 417h1v30h-1zM590 418h1v62h-1zM416 418h1v63h-1zM808 418h1v78h-1zM898 418h1v85h-1zM575 418h1v112h-1zM908 418h1v136h-1zM486 419h1v64h-1zM476 419h1v88h-1zM548 419h1v133h-1zM426 419h1v136h-1zM456 420h1v61h-1zM662 420h1v73h-1zM580 420h1v105h-1zM576 420h1v111h-1zM547 420h1v127h-1zM859 421h1v45h-1zM559 421h1v54h-1zM581 421h1v105h-1zM423 421h1v180h-1zM448 421h1v194h-1zM586 422h1v56h-1zM517 422h1v76h-1zM485 422h1v96h-1zM631 422h1v101h-1zM474 422h1v102h-1zM823 422h1v102h-1zM415 422h1v131h-1zM551 422h1v135h-1zM838 423h1v27h-1zM425 423h1v35h-1zM557 423h1v48h-1zM978 423h1v63h-1zM561 423h1v179h-1zM490 424h1v37h-1zM524 424h1v48h-1zM529 424h1v72h-1zM692 424h1v92h-1zM832 425h1v47h-1zM489 425h1v52h-1zM917 425h1v65h-1zM758 426h1v36h-1zM492 426h1v42h-1zM533 426h1v122h-1zM532 427h1v107h-1zM825 428h1v28h-1zM525 428h1v63h-1zM469 428h1v76h-1zM549 428h1v81h-1zM550 428h1v123h-1zM513 428h1v153h-1zM773 429h1v27h-1zM552 429h1v28h-1zM482 429h1v36h-1zM578 429h1v93h-1zM534 429h1v94h-1zM508 429h1v139h-1zM652 430h1v26h-1zM783 430h1v89h-1zM952 431h1v22h-1zM674 431h1v31h-1zM602 431h1v34h-1zM536 431h1v53h-1zM475 431h1v55h-1zM477 432h1v71h-1zM526 432h1v77h-1zM531 432h1v102h-1zM537 433h1v45h-1zM666 433h1v72h-1zM664 433h1v74h-1zM900 433h1v107h-1zM611 433h1v117h-1zM459 434h1v32h-1zM613 434h1v34h-1zM909 434h1v76h-1zM488 434h1v180h-1zM562 435h1v34h-1zM657 435h1v67h-1zM899 435h1v109h-1zM556 435h1v114h-1zM538 435h1v115h-1zM931 436h1v73h-1zM901 436h1v100h-1zM541 437h1v61h-1zM771 437h1v85h-1zM895 438h1v47h-1zM902 439h1v111h-1zM907 441h1v110h-1zM906 441h1v114h-1zM905 441h1v138h-1zM854 442h1v12h-1zM950 442h1v27h-1zM896 442h1v66h-1zM588 446h1v34h-1zM894 446h1v74h-1zM544 446h1v123h-1zM897 446h1v146h-1zM558 447h1v35h-1zM521 448h1v4h-1zM435 448h1v108h-1zM822 449h1v41h-1zM585 451h1v118h-1zM724 453h1v18h-1zM458 453h1v24h-1zM411 453h1v35h-1zM910 456h1v52h-1zM892 456h1v71h-1zM673 457h1v59h-1zM844 457h1v60h-1zM498 458h1v75h-1zM478 460h1v33h-1zM457 461h1v169h-1zM417 463h1v41h-1zM468 464h1v38h-1zM430 466h1v102h-1zM553 467h1v43h-1zM437 467h1v137h-1zM483 468h1v27h-1zM891 468h1v95h-1zM546 470h1v34h-1zM619 470h1v80h-1zM528 473h1v100h-1zM691 474h1v48h-1zM726 475h1v30h-1zM741 476h1v116h-1zM503 477h1v46h-1zM567 477h1v53h-1zM632 478h1v45h-1zM681 478h1v82h-1zM436 478h1v116h-1zM980 483h1v3h-1zM633 484h1v39h-1zM509 485h1v40h-1zM641 485h1v74h-1zM486 486h1v34h-1zM586 486h1v72h-1zM591 487h1v48h-1zM622 487h1v66h-1zM410 488h1v25h-1zM629 488h1v48h-1zM588 488h1v60h-1zM671 488h1v80h-1zM916 489h1v37h-1zM412 489h1v59h-1zM537 489h1v77h-1zM186 490h1v59h-1zM507 491h1v87h-1zM805 492h1v164h-1zM211 493h1v84h-1zM481 493h1v90h-1zM456 494h1v25h-1zM788 494h1v168h-1zM461 495h1v69h-1zM806 495h1v159h-1zM460 496h1v17h-1zM458 496h1v60h-1zM699 496h1v115h-1zM701 496h1v120h-1zM454 498h1v24h-1zM839 498h1v57h-1zM545 499h1v123h-1zM884 500h1v182h-1zM389 502h1v88h-1zM493 504h1v32h-1zM552 504h1v54h-1zM890 504h1v142h-1zM489 505h1v15h-1zM837 505h1v129h-1zM803 506h1v131h-1zM612 507h1v101h-1zM446 508h1v13h-1zM590 509h1v13h-1zM559 509h1v77h-1zM821 509h1v106h-1zM492 510h1v84h-1zM800 510h1v149h-1zM700 510h1v150h-1zM887 510h1v151h-1zM838 511h1v48h-1zM794 511h1v145h-1zM713 511h1v159h-1zM628 514h1v2h-1zM792 515h1v139h-1zM889 515h1v146h-1zM416 516h1v54h-1zM888 518h1v154h-1zM184 520h1v57h-1zM768 520h1v65h-1zM883 520h1v145h-1zM886 520h1v146h-1zM702 521h1v120h-1zM879 522h1v119h-1zM680 523h1v17h-1zM784 523h1v123h-1zM721 523h1v125h-1zM542 525h1v26h-1zM861 526h1v69h-1zM807 526h1v118h-1zM885 526h1v130h-1zM549 527h1v25h-1zM796 527h1v129h-1zM798 527h1v129h-1zM705 527h1v140h-1zM460 528h1v26h-1zM769 528h1v33h-1zM582 528h1v41h-1zM703 528h1v126h-1zM797 530h1v126h-1zM714 530h1v137h-1zM706 530h1v142h-1zM560 531h1v40h-1zM801 531h1v121h-1zM789 531h1v122h-1zM795 532h1v125h-1zM715 532h1v134h-1zM536 533h1v36h-1zM786 533h1v115h-1zM704 533h1v132h-1zM716 534h1v133h-1zM717 534h1v134h-1zM718 535h2v132h-2zM799 535h1v132h-1zM852 536h1v33h-1zM880 536h1v133h-1zM648 538h1v18h-1zM563 538h1v38h-1zM787 538h1v112h-1zM793 538h1v117h-1zM462 539h1v22h-1zM672 539h1v41h-1zM720 539h1v128h-1zM707 540h1v102h-1zM881 540h1v124h-1zM709 540h1v133h-1zM526 541h1v8h-1zM321 541h1v21h-1zM728 545h1v5h-1zM650 546h1v7h-1zM791 546h1v106h-1zM525 547h1v1h-1zM882 547h1v119h-1zM540 548h1v29h-1zM804 550h1v112h-1zM673 551h1v20h-1zM181 551h1v49h-1zM710 551h1v102h-1zM606 551h1v105h-1zM584 554h1v19h-1zM653 554h1v46h-1zM390 554h1v184h-1zM562 555h1v33h-1zM785 555h1v96h-1zM790 555h1v101h-1zM212 556h1v26h-1zM409 556h1v89h-1zM682 557h1v27h-1zM583 558h1v61h-1zM438 558h1v101h-1zM442 559h1v13h-1zM394 559h1v34h-1zM546 560h1v19h-1zM498 560h1v27h-1zM712 560h1v88h-1zM711 560h1v100h-1zM180 560h1v153h-1zM683 562h1v68h-1zM708 562h1v108h-1zM543 563h1v32h-1zM232 564h1v12h-1zM374 564h1v28h-1zM581 566h1v86h-1zM440 567h1v31h-1zM521 567h1v67h-1zM674 568h1v22h-1zM802 569h1v93h-1zM398 573h1v33h-1zM585 574h1v42h-1zM610 575h1v30h-1zM664 577h1v17h-1zM567 578h1v29h-1zM185 580h1v25h-1zM724 580h1v38h-1zM896 581h1v48h-1zM395 582h1v40h-1zM459 582h1v59h-1zM891 583h1v11h-1zM665 583h1v21h-1zM650 586h1v8h-1zM483 587h1v49h-1zM695 588h1v52h-1zM555 589h1v4h-1zM424 590h1v2h-1zM458 591h1v29h-1zM674 592h1v47h-1zM498 594h1v22h-1zM559 594h1v26h-1zM184 595h1v46h-1zM689 595h1v46h-1zM481 596h1v21h-1zM439 597h1v25h-1zM508 602h1v50h-1zM186 603h1v53h-1zM552 604h1v21h-1zM482 607h1v8h-1zM393 607h1v74h-1zM518 608h1v43h-1zM373 610h1v99h-1zM463 611h1v22h-1zM235 612h1v3h-1zM680 612h1v28h-1zM179 614h1v48h-1zM183 615h1v24h-1zM839 615h1v31h-1zM609 615h1v39h-1zM208 616h1v18h-1zM191 616h1v110h-1zM213 618h1v33h-1zM209 618h1v91h-1zM833 619h1v14h-1zM411 620h1v13h-1zM374 620h1v20h-1zM675 622h1v15h-1zM682 622h1v26h-1zM544 625h1v10h-1zM768 625h1v37h-1zM771 626h1v4h-1zM825 626h1v20h-1zM696 627h1v7h-1zM587 628h1v1h-1zM681 628h1v2h-1zM252 628h1v3h-1zM214 628h1v25h-1zM195 629h1v1h-1zM385 630h1v15h-1zM212 630h1v80h-1zM500 631h1v21h-1zM196 631h1v93h-1zM619 634h1v34h-1zM552 634h1v81h-1zM527 637h1v43h-1zM553 637h1v59h-1zM216 639h1v9h-1zM187 639h1v87h-1zM844 640h1v6h-1zM672 640h1v13h-1zM206 640h1v31h-1zM392 641h1v6h-1zM388 641h1v15h-1zM270 641h1v50h-1zM235 642h1v6h-1zM386 642h1v7h-1zM320 643h1v7h-1zM222 644h1v3h-1zM375 645h1v7h-1zM408 646h1v62h-1zM507 647h1v16h-1zM194 648h1v37h-1zM251 648h1v43h-1zM542 649h1v38h-1zM181 650h1v65h-1zM188 651h1v69h-1zM183 651h1v71h-1zM398 651h1v74h-1zM385 652h1v77h-1zM417 653h1v11h-1zM230 655h1v38h-1zM234 655h1v55h-1zM611 656h1v19h-1zM365 657h1v11h-1zM192 659h1v76h-1zM228 660h1v29h-1zM397 660h1v67h-1zM400 660h1v67h-1zM747 661h1v2h-1zM770 661h1v2h-1zM244 661h1v52h-1zM227 662h1v29h-1zM389 662h1v52h-1zM226 662h1v60h-1zM396 662h1v67h-1zM632 663h1v17h-1zM375 663h1v72h-1zM229 664h1v44h-1zM377 665h1v70h-1zM237 666h1v45h-1zM399 666h1v62h-1zM231 667h1v42h-1zM272 667h1v44h-1zM404 667h1v59h-1zM403 667h1v60h-1zM184 668h1v48h-1zM407 668h1v55h-1zM402 668h1v59h-1zM213 669h1v53h-1zM405 669h1v57h-1zM401 669h1v58h-1zM391 670h1v8h-1zM406 670h1v55h-1zM207 670h1v58h-1zM223 671h1v19h-1zM243 671h1v39h-1zM214 672h1v35h-1zM224 672h1v45h-1zM197 672h1v50h-1zM382 672h1v54h-1zM374 672h1v76h-1zM222 673h1v45h-1zM218 673h1v47h-1zM221 674h1v41h-1zM198 674h1v48h-1zM211 674h1v54h-1zM202 675h1v12h-1zM275 675h1v33h-1zM381 675h1v52h-1zM225 676h1v9h-1zM219 676h1v42h-1zM200 676h1v43h-1zM380 676h1v50h-1zM378 677h1v49h-1zM369 678h1v54h-1zM383 679h1v47h-1zM247 680h1v30h-1zM241 680h1v31h-1zM204 680h1v39h-1zM388 680h1v41h-1zM199 680h1v42h-1zM379 680h1v47h-1zM368 680h1v51h-1zM372 680h1v51h-1zM366 680h1v53h-1zM384 680h1v57h-1zM265 681h1v26h-1zM240 681h1v29h-1zM186 681h1v33h-1zM278 681h1v44h-1zM367 681h1v53h-1zM248 682h1v28h-1zM239 682h1v29h-1zM371 682h1v50h-1zM262 683h1v26h-1zM238 683h1v27h-1zM376 683h1v49h-1zM269 684h1v16h-1zM276 684h1v23h-1zM261 684h1v24h-1zM266 684h1v24h-1zM249 684h1v25h-1zM254 684h1v25h-1zM264 685h1v22h-1zM179 685h1v31h-1zM210 685h1v31h-1zM291 686h1v18h-1zM253 686h1v19h-1zM255 686h1v22h-1zM257 686h1v22h-1zM260 686h1v22h-1zM256 686h1v23h-1zM273 686h1v24h-1zM277 687h1v19h-1zM263 687h1v21h-1zM274 687h1v22h-1zM250 687h1v23h-1zM280 687h1v24h-1zM190 687h1v52h-1zM242 688h1v20h-1zM281 688h1v26h-1zM220 688h1v30h-1zM205 688h1v31h-1zM365 688h1v48h-1zM285 689h1v29h-1zM208 690h1v17h-1zM246 690h1v28h-1zM286 690h1v29h-1zM252 690h1v31h-1zM282 691h1v24h-1zM203 691h1v29h-1zM387 691h1v57h-1zM236 692h1v16h-1zM386 692h1v37h-1zM206 692h1v43h-1zM283 693h1v22h-1zM284 693h1v25h-1zM370 693h1v44h-1zM225 694h1v15h-1zM227 694h1v15h-1zM230 694h1v15h-1zM251 694h1v16h-1zM215 694h1v23h-1zM202 694h1v24h-1zM182 694h1v25h-1zM201 694h1v25h-1zM223 694h1v25h-1zM392 694h1v25h-1zM216 694h1v31h-1zM305 694h1v42h-1zM228 695h1v14h-1zM232 695h1v17h-1zM290 695h1v23h-1zM270 695h1v29h-1zM217 696h1v27h-1zM394 696h1v34h-1zM233 697h1v17h-1zM235 697h1v21h-1zM194 697h1v30h-1zM395 697h1v36h-1zM268 698h1v10h-1zM287 698h1v19h-1zM267 698h1v20h-1zM292 698h2v21h-2zM306 698h1v40h-1zM245 699h1v13h-1zM295 699h1v20h-1zM320 699h1v21h-1zM296 699h1v34h-1zM298 699h1v34h-1zM185 700h1v17h-1zM279 700h1v17h-1zM294 700h1v20h-1zM310 700h1v60h-1zM259 701h1v22h-1zM301 701h1v22h-1zM300 701h1v25h-1zM271 701h1v29h-1zM195 702h1v19h-1zM299 702h1v19h-1zM302 702h2v25h-2zM288 703h1v20h-1zM189 703h1v23h-1zM309 703h1v42h-1zM363 703h1v56h-1zM193 704h1v26h-1zM364 704h1v43h-1zM342 704h1v60h-1zM361 704h1v60h-1zM297 705h1v15h-1zM304 705h1v16h-1zM334 705h2v59h-2zM323 706h1v58h-1zM343 706h3v58h-3zM391 707h1v22h-1zM258 707h1v24h-1zM308 707h1v28h-1zM313 707h1v57h-1zM339 707h2v57h-2zM347 707h2v57h-2zM311 708h1v56h-1zM314 708h1v56h-1zM316 708h1v56h-1zM346 708h1v56h-1zM350 708h1v56h-1zM307 709h1v30h-1zM315 709h1v55h-1zM317 709h1v55h-1zM336 709h1v55h-1zM349 709h1v55h-1zM312 710h1v54h-1zM324 710h1v54h-1zM351 710h2v54h-2zM358 711h1v53h-1zM321 712h2v52h-2zM353 712h1v52h-1zM355 712h1v52h-1zM393 713h1v16h-1zM326 713h1v51h-1zM330 713h2v51h-2zM333 713h1v51h-1zM354 713h1v51h-1zM357 713h1v51h-1zM242 714h1v13h-1zM289 714h1v15h-1zM319 714h1v50h-1zM359 714h1v50h-1zM325 715h1v49h-1zM328 715h2v49h-2zM332 715h1v49h-1zM356 715h1v49h-1zM327 719h1v45h-1zM337 720h1v44h-1zM320 722h1v42h-1zM360 722h1v42h-1zM338 723h1v41h-1zM362 723h1v41h-1zM318 724h1v40h-1zM341 731h1v33h-1z"/><path fill="#00C7FF" d="M839 330h1v33h-1zM930 332h1v37h-1zM1008 332h1v63h-1zM816 337h1v76h-1zM822 339h1v30h-1zM837 342h1v25h-1zM825 342h1v86h-1zM860 344h1v97h-1zM950 345h1v97h-1zM923 346h1v53h-1zM836 346h1v74h-1zM977 348h1v21h-1zM827 350h1v104h-1zM961 352h1v31h-1zM736 354h1v134h-1zM976 356h1v30h-1zM521 356h1v92h-1zM459 357h1v77h-1zM841 359h1v123h-1zM978 360h1v63h-1zM970 361h1v13h-1zM741 361h1v37h-1zM848 361h1v115h-1zM852 363h1v42h-1zM729 363h1v131h-1zM1014 365h1v21h-1zM635 367h1v188h-1zM969 368h1v22h-1zM985 368h1v33h-1zM844 369h1v8h-1zM946 369h1v24h-1zM656 369h1v31h-1zM986 370h1v30h-1zM735 371h1v35h-1zM826 372h1v8h-1zM740 372h1v34h-1zM823 372h1v50h-1zM498 372h1v86h-1zM499 372h1v117h-1zM491 372h1v132h-1zM971 373h1v33h-1zM931 373h1v63h-1zM874 373h1v180h-1zM846 375h1v9h-1zM984 375h1v31h-1zM847 375h1v111h-1zM872 375h1v132h-1zM771 376h1v61h-1zM864 376h1v163h-1zM951 377h1v15h-1zM955 377h1v21h-1zM962 377h1v28h-1zM744 377h1v150h-1zM956 378h1v20h-1zM974 378h1v46h-1zM953 379h1v18h-1zM988 379h1v20h-1zM935 379h1v47h-1zM982 379h1v48h-1zM966 379h1v84h-1zM957 380h1v21h-1zM987 380h1v22h-1zM973 381h1v25h-1zM948 381h1v27h-1zM990 382h1v21h-1zM959 382h1v23h-1zM937 382h1v30h-1zM850 382h1v106h-1zM954 383h1v20h-1zM981 383h1v24h-1zM949 383h1v28h-1zM960 384h1v22h-1zM983 384h1v26h-1zM726 384h1v91h-1zM567 384h1v93h-1zM865 384h1v167h-1zM958 385h1v19h-1zM991 385h1v20h-1zM965 385h1v27h-1zM963 385h1v28h-1zM934 385h1v45h-1zM964 385h1v85h-1zM866 385h1v168h-1zM1012 386h1v14h-1zM947 386h1v27h-1zM936 386h1v32h-1zM941 386h1v32h-1zM979 386h1v45h-1zM813 386h1v117h-1zM989 387h1v20h-1zM994 387h1v22h-1zM992 387h2v23h-2zM929 387h1v25h-1zM999 387h1v42h-1zM943 387h1v46h-1zM996 388h1v26h-1zM945 388h1v27h-1zM925 388h1v29h-1zM922 388h1v44h-1zM461 388h1v107h-1zM940 390h1v35h-1zM460 390h1v55h-1zM1009 391h1v22h-1zM938 391h1v26h-1zM939 391h1v39h-1zM810 391h1v110h-1zM820 391h1v173h-1zM926 392h1v24h-1zM833 392h1v57h-1zM944 392h1v59h-1zM942 393h1v37h-1zM824 393h1v80h-1zM809 393h1v102h-1zM811 393h1v106h-1zM851 393h1v110h-1zM1001 394h1v18h-1zM1011 394h1v21h-1zM972 394h1v33h-1zM835 394h1v58h-1zM831 394h1v69h-1zM737 394h1v206h-1zM1010 395h1v20h-1zM854 395h1v47h-1zM1016 395h1v69h-1zM812 395h1v116h-1zM1003 396h1v22h-1zM657 396h1v39h-1zM727 396h1v170h-1zM1005 397h1v17h-1zM1002 397h1v20h-1zM834 397h1v76h-1zM868 397h1v160h-1zM728 399h1v34h-1zM1004 400h1v31h-1zM483 401h1v67h-1zM871 401h1v149h-1zM675 401h1v221h-1zM980 402h1v15h-1zM995 402h1v16h-1zM830 402h1v64h-1zM632 402h1v76h-1zM873 402h1v157h-1zM998 403h1v17h-1zM536 403h1v28h-1zM924 404h1v30h-1zM870 404h1v109h-1zM777 404h1v117h-1zM535 404h1v193h-1zM997 405h1v35h-1zM877 406h1v150h-1zM832 407h1v18h-1zM828 407h1v63h-1zM855 407h1v104h-1zM858 407h1v159h-1zM1007 408h1v32h-1zM829 408h1v57h-1zM723 409h1v111h-1zM867 409h1v150h-1zM817 410h1v105h-1zM769 410h1v118h-1zM869 410h1v143h-1zM856 410h1v162h-1zM653 411h1v34h-1zM649 411h1v60h-1zM673 412h1v45h-1zM853 412h1v48h-1zM814 412h1v95h-1zM859 413h1v8h-1zM415 413h1v9h-1zM952 413h1v18h-1zM480 413h1v36h-1zM586 414h1v8h-1zM692 414h1v10h-1zM921 414h1v20h-1zM754 414h1v122h-1zM646 414h1v169h-1zM1013 415h1v95h-1zM819 415h1v145h-1zM845 415h1v206h-1zM561 416h1v7h-1zM1000 416h1v62h-1zM612 416h1v91h-1zM647 416h1v92h-1zM448 417h1v4h-1zM773 417h1v12h-1zM843 417h1v62h-1zM731 417h1v142h-1zM654 418h1v59h-1zM766 418h1v157h-1zM815 419h1v91h-1zM863 420h1v133h-1zM862 420h1v135h-1zM822 421h1v28h-1zM730 422h1v138h-1zM941 423h1v36h-1zM1006 423h1v46h-1zM634 423h1v157h-1zM655 424h1v34h-1zM503 424h1v53h-1zM753 424h1v70h-1zM500 424h1v85h-1zM876 424h1v146h-1zM857 426h1v87h-1zM818 428h1v76h-1zM764 428h1v117h-1zM688 428h1v171h-1zM528 429h1v44h-1zM842 429h1v45h-1zM846 429h1v101h-1zM779 429h1v126h-1zM609 429h1v130h-1zM1005 430h1v106h-1zM765 430h1v145h-1zM760 430h1v146h-1zM644 430h1v219h-1zM625 430h1v230h-1zM933 431h1v23h-1zM756 431h1v105h-1zM763 431h1v145h-1zM762 431h1v146h-1zM920 432h1v59h-1zM755 432h1v103h-1zM429 432h1v193h-1zM589 433h1v36h-1zM641 433h1v52h-1zM501 433h1v63h-1zM761 433h1v110h-1zM752 433h1v111h-1zM757 434h1v113h-1zM776 434h1v163h-1zM749 435h1v95h-1zM759 435h1v107h-1zM778 435h1v110h-1zM919 436h1v51h-1zM750 436h1v92h-1zM748 436h1v101h-1zM430 437h1v29h-1zM775 437h1v43h-1zM849 437h1v56h-1zM751 437h1v88h-1zM781 437h1v102h-1zM555 437h1v152h-1zM546 438h1v32h-1zM648 439h1v99h-1zM554 439h1v170h-1zM518 440h1v41h-1zM543 440h1v123h-1zM663 440h1v150h-1zM945 441h1v12h-1zM742 441h1v40h-1zM633 441h1v43h-1zM629 441h1v47h-1zM454 441h1v57h-1zM732 441h1v70h-1zM487 441h1v100h-1zM780 441h1v101h-1zM743 441h1v154h-1zM605 441h1v200h-1zM740 441h1v258h-1zM540 443h1v36h-1zM738 443h1v123h-1zM424 443h1v147h-1zM608 443h1v198h-1zM607 443h1v199h-1zM963 445h1v10h-1zM478 445h1v15h-1zM970 445h1v60h-1zM928 445h1v80h-1zM468 446h1v18h-1zM610 446h1v129h-1zM672 447h1v28h-1zM782 447h1v91h-1zM927 449h1v24h-1zM502 449h1v164h-1zM741 450h1v26h-1zM838 450h1v61h-1zM638 450h1v152h-1zM621 450h1v219h-1zM615 450h1v221h-1zM563 451h1v87h-1zM522 451h1v121h-1zM624 451h1v204h-1zM521 452h1v56h-1zM616 452h1v215h-1zM952 453h1v21h-1zM826 453h1v25h-1zM560 453h1v28h-1zM962 453h1v59h-1zM739 453h1v140h-1zM604 453h1v191h-1zM1017 454h2v10h-2zM980 454h1v29h-1zM854 454h1v40h-1zM839 454h1v44h-1zM583 454h1v104h-1zM767 454h1v123h-1zM460 455h1v41h-1zM825 456h1v19h-1zM652 456h1v22h-1zM773 456h1v148h-1zM904 456h1v165h-1zM623 456h1v204h-1zM552 457h1v47h-1zM733 457h1v108h-1zM527 458h1v133h-1zM425 458h1v180h-1zM768 459h1v61h-1zM627 459h1v88h-1zM821 461h1v48h-1zM490 461h1v83h-1zM674 462h1v31h-1zM695 462h1v31h-1zM696 462h1v38h-1zM746 462h1v41h-1zM758 462h1v127h-1zM651 462h1v179h-1zM493 463h1v41h-1zM1015 464h1v29h-1zM602 465h1v39h-1zM482 465h1v61h-1zM747 465h1v128h-1zM967 466h1v25h-1zM459 466h1v32h-1zM859 466h1v33h-1zM643 466h1v109h-1zM734 467h1v34h-1zM628 467h1v47h-1zM676 467h1v145h-1zM918 468h1v33h-1zM446 468h1v40h-1zM492 468h1v42h-1zM650 468h1v78h-1zM774 468h1v107h-1zM613 468h1v116h-1zM630 468h1v143h-1zM562 469h1v31h-1zM950 469h1v36h-1zM772 469h1v134h-1zM523 469h1v156h-1zM969 470h1v19h-1zM724 471h1v24h-1zM557 471h1v169h-1zM524 472h1v159h-1zM832 472h1v163h-1zM566 473h1v125h-1zM640 473h1v187h-1zM626 474h1v140h-1zM559 475h1v34h-1zM439 476h1v55h-1zM458 477h1v19h-1zM489 477h1v28h-1zM601 477h1v143h-1zM586 478h1v8h-1zM622 478h1v9h-1zM537 478h1v11h-1zM861 478h1v48h-1zM840 479h1v65h-1zM642 479h1v110h-1zM588 480h1v8h-1zM590 480h1v29h-1zM422 480h1v55h-1zM603 480h1v166h-1zM456 481h1v13h-1zM416 481h1v35h-1zM618 481h1v104h-1zM520 481h1v169h-1zM591 482h1v5h-1zM558 482h1v51h-1zM486 483h1v3h-1zM968 483h1v23h-1zM536 484h1v49h-1zM600 484h1v169h-1zM895 485h1v136h-1zM903 485h1v178h-1zM816 486h1v26h-1zM560 486h1v45h-1zM978 486h1v119h-1zM975 486h1v122h-1zM980 486h1v132h-1zM515 486h1v141h-1zM475 486h1v209h-1zM841 487h1v52h-1zM539 487h1v137h-1zM617 488h1v21h-1zM411 488h1v39h-1zM1000 488h1v46h-1zM518 488h1v75h-1zM878 488h1v97h-1zM467 488h1v102h-1zM637 489h1v121h-1zM837 490h1v15h-1zM917 490h1v20h-1zM822 490h1v38h-1zM930 490h1v52h-1zM636 490h1v155h-1zM843 491h1v54h-1zM525 491h1v56h-1zM184 492h1v28h-1zM775 492h1v93h-1zM593 492h1v135h-1zM540 493h1v55h-1zM478 493h1v121h-1zM662 493h1v124h-1zM824 494h1v47h-1zM913 494h1v106h-1zM465 494h1v165h-1zM504 494h1v191h-1zM914 496h1v51h-1zM808 496h1v86h-1zM924 496h1v110h-1zM529 496h1v127h-1zM826 497h1v37h-1zM472 497h1v92h-1zM912 497h1v115h-1zM667 497h1v123h-1zM589 497h1v136h-1zM470 497h1v158h-1zM842 498h1v37h-1zM541 498h1v96h-1zM517 498h1v131h-1zM852 499h1v37h-1zM834 499h1v71h-1zM471 499h1v169h-1zM728 500h1v45h-1zM669 501h1v124h-1zM657 502h1v32h-1zM468 502h1v168h-1zM770 503h1v83h-1zM926 503h1v120h-1zM898 503h1v141h-1zM477 503h1v170h-1zM915 504h1v32h-1zM469 504h1v43h-1zM656 504h1v50h-1zM417 504h1v62h-1zM932 504h1v73h-1zM614 504h1v102h-1zM599 504h1v124h-1zM444 504h1v145h-1zM666 505h1v77h-1zM726 505h1v99h-1zM668 505h1v120h-1zM594 505h1v123h-1zM670 505h1v152h-1zM830 506h1v61h-1zM911 506h1v105h-1zM414 506h1v133h-1zM828 507h1v60h-1zM664 507h1v70h-1zM694 507h1v135h-1zM476 507h1v144h-1zM896 508h1v73h-1zM473 508h1v83h-1zM514 508h1v117h-1zM516 508h1v119h-1zM693 508h1v140h-1zM660 508h1v145h-1zM910 508h1v158h-1zM549 509h1v18h-1zM526 509h1v32h-1zM931 509h1v87h-1zM639 509h1v95h-1zM595 509h1v146h-1zM829 510h1v58h-1zM553 510h1v127h-1zM698 510h1v131h-1zM909 510h1v155h-1zM565 510h1v158h-1zM653 511h1v43h-1zM831 511h1v72h-1zM893 511h1v123h-1zM722 512h1v95h-1zM661 512h1v137h-1zM410 513h1v111h-1zM697 514h1v168h-1zM628 516h1v108h-1zM692 516h1v139h-1zM445 516h1v169h-1zM844 517h1v40h-1zM855 517h1v44h-1zM519 517h1v106h-1zM451 517h1v112h-1zM572 517h1v126h-1zM455 517h1v134h-1zM672 518h1v21h-1zM857 518h1v47h-1zM447 518h1v111h-1zM485 518h1v125h-1zM783 519h1v62h-1zM647 519h1v69h-1zM512 519h1v108h-1zM456 519h1v135h-1zM870 520h1v41h-1zM732 520h1v47h-1zM489 520h1v74h-1zM1013 520h1v76h-1zM450 520h1v103h-1zM511 520h1v106h-1zM486 520h1v118h-1zM894 520h1v166h-1zM446 521h1v102h-1zM466 521h1v105h-1zM452 521h1v107h-1zM453 521h1v111h-1zM571 521h1v118h-1zM506 521h1v128h-1zM771 522h1v18h-1zM691 522h1v32h-1zM463 522h1v36h-1zM454 522h1v43h-1zM521 522h1v45h-1zM590 522h1v104h-1zM569 522h1v120h-1zM578 522h1v121h-1zM658 522h1v127h-1zM564 522h1v132h-1zM464 522h1v135h-1zM503 523h1v59h-1zM631 523h1v59h-1zM534 523h1v105h-1zM633 523h1v112h-1zM484 523h1v119h-1zM632 523h1v140h-1zM823 524h1v28h-1zM562 524h1v31h-1zM474 524h1v49h-1zM505 524h1v80h-1zM568 524h1v117h-1zM570 524h1v120h-1zM509 525h1v34h-1zM645 525h1v58h-1zM860 525h1v73h-1zM580 525h1v137h-1zM916 526h1v27h-1zM581 526h1v40h-1zM530 527h1v96h-1zM892 527h1v154h-1zM620 528h1v75h-1zM602 529h1v92h-1zM853 530h1v42h-1zM575 530h1v113h-1zM496 530h1v121h-1zM443 530h1v124h-1zM576 531h1v111h-1zM573 531h1v112h-1zM659 531h1v120h-1zM497 531h1v121h-1zM921 532h1v41h-1zM498 533h1v27h-1zM851 533h1v36h-1zM649 533h1v134h-1zM532 534h1v92h-1zM510 534h1v118h-1zM531 534h1v145h-1zM442 535h1v24h-1zM818 535h1v38h-1zM591 535h1v119h-1zM827 536h1v55h-1zM493 536h1v61h-1zM629 536h1v68h-1zM494 536h1v122h-1zM901 536h1v134h-1zM587 537h1v91h-1zM690 537h1v109h-1zM418 538h1v126h-1zM745 539h1v87h-1zM574 539h1v105h-1zM680 540h1v16h-1zM969 540h1v64h-1zM900 540h1v134h-1zM814 541h1v29h-1zM695 541h1v47h-1zM652 542h1v22h-1zM970 543h1v33h-1zM495 543h1v111h-1zM968 544h1v5h-1zM854 544h1v26h-1zM665 544h1v39h-1zM899 544h1v130h-1zM606 545h1v6h-1zM734 546h1v3h-1zM974 546h1v6h-1zM431 546h1v79h-1zM973 547h1v2h-1zM547 547h1v101h-1zM584 548h1v6h-1zM412 548h1v17h-1zM725 548h1v19h-1zM914 548h1v54h-1zM655 548h1v57h-1zM588 548h1v65h-1zM525 548h1v77h-1zM533 548h1v131h-1zM757 549h1v35h-1zM752 549h1v71h-1zM627 549h1v77h-1zM526 549h1v78h-1zM413 549h1v95h-1zM577 549h1v105h-1zM556 549h1v106h-1zM619 550h1v13h-1zM538 550h1v15h-1zM674 550h1v18h-1zM728 550h1v87h-1zM611 550h1v106h-1zM686 550h1v106h-1zM441 550h1v111h-1zM434 550h1v113h-1zM902 550h1v121h-1zM817 551h1v22h-1zM542 551h1v32h-1zM833 551h1v68h-1zM490 551h1v82h-1zM550 551h1v93h-1zM687 551h1v104h-1zM419 551h1v117h-1zM907 551h1v120h-1zM548 552h1v91h-1zM549 552h1v92h-1zM684 552h1v102h-1zM685 552h1v104h-1zM420 552h1v116h-1zM764 553h1v20h-1zM761 553h1v22h-1zM479 553h1v31h-1zM650 553h1v33h-1zM622 553h1v75h-1zM677 553h1v99h-1zM415 553h1v134h-1zM460 554h1v9h-1zM678 554h1v96h-1zM908 554h1v117h-1zM839 555h1v33h-1zM433 555h1v65h-1zM426 555h1v104h-1zM906 555h1v119h-1zM648 556h1v54h-1zM592 556h1v78h-1zM487 556h1v83h-1zM679 556h1v96h-1zM421 556h1v102h-1zM435 556h1v125h-1zM558 556h1v126h-1zM428 557h1v71h-1zM432 557h1v93h-1zM551 557h1v97h-1zM751 558h1v23h-1zM586 558h1v40h-1zM427 558h1v90h-1zM835 559h1v11h-1zM724 559h1v21h-1zM641 559h1v26h-1zM838 559h1v63h-1zM748 560h1v17h-1zM681 560h1v68h-1zM462 561h1v15h-1zM769 561h1v41h-1zM596 561h1v64h-1zM759 562h1v10h-1zM749 562h1v18h-1zM917 562h1v37h-1zM875 562h1v57h-1zM933 562h1v77h-1zM782 562h1v90h-1zM756 563h1v11h-1zM812 563h1v11h-1zM891 563h1v20h-1zM778 564h1v7h-1zM750 564h1v13h-1zM461 564h1v20h-1zM754 565h1v9h-1zM459 565h1v17h-1zM537 566h1v19h-1zM755 567h1v5h-1zM598 567h1v52h-1zM781 568h1v3h-1zM508 568h1v34h-1zM430 568h1v40h-1zM671 568h1v82h-1zM780 569h1v1h-1zM585 569h1v5h-1zM852 569h1v15h-1zM544 569h1v21h-1zM536 569h1v44h-1zM582 569h1v106h-1zM422 570h1v51h-1zM825 570h1v56h-1zM491 570h1v62h-1zM416 570h1v86h-1zM560 571h1v27h-1zM579 571h1v80h-1zM673 571h1v84h-1zM439 572h1v25h-1zM442 572h1v93h-1zM584 573h1v84h-1zM528 573h1v113h-1zM689 574h1v21h-1zM609 575h1v40h-1zM563 576h1v22h-1zM915 576h1v24h-1zM597 576h1v37h-1zM540 577h1v42h-1zM844 577h1v63h-1zM507 578h1v69h-1zM546 579h1v16h-1zM518 579h1v29h-1zM905 579h1v131h-1zM672 580h1v19h-1zM513 581h1v41h-1zM482 582h1v25h-1zM736 584h1v22h-1zM682 584h1v38h-1zM777 584h1v59h-1zM927 584h1v87h-1zM768 585h1v40h-1zM417 585h1v68h-1zM849 587h1v30h-1zM733 588h1v5h-1zM826 588h1v8h-1zM562 588h1v14h-1zM680 589h1v23h-1zM463 592h1v19h-1zM374 592h1v28h-1zM424 592h1v31h-1zM473 592h1v32h-1zM741 592h1v49h-1zM467 592h1v58h-1zM897 592h1v72h-1zM839 593h1v22h-1zM555 593h1v30h-1zM472 593h1v41h-1zM664 594h1v24h-1zM411 594h1v26h-1zM758 594h1v27h-1zM436 594h1v34h-1zM650 594h1v45h-1zM492 594h1v74h-1zM891 594h1v90h-1zM861 595h1v12h-1zM544 595h1v30h-1zM543 595h1v32h-1zM757 596h1v22h-1zM542 596h1v23h-1zM746 596h1v52h-1zM474 597h1v30h-1zM840 597h1v88h-1zM440 598h1v16h-1zM816 600h1v21h-1zM653 600h1v23h-1zM423 601h1v24h-1zM561 602h1v12h-1zM756 602h1v16h-1zM480 604h1v22h-1zM853 604h1v30h-1zM437 604h1v51h-1zM665 604h1v86h-1zM878 605h1v11h-1zM771 605h1v21h-1zM610 605h1v58h-1zM567 607h1v37h-1zM646 607h1v43h-1zM469 607h1v48h-1zM755 608h1v7h-1zM754 608h1v8h-1zM760 608h1v8h-1zM612 608h1v30h-1zM759 609h1v6h-1zM1006 609h1v33h-1zM412 609h1v47h-1zM920 609h1v58h-1zM461 609h1v64h-1zM691 610h1v46h-1zM1014 611h1v51h-1zM699 611h1v86h-1zM696 613h1v14h-1zM648 614h1v29h-1zM774 614h1v31h-1zM488 614h1v39h-1zM821 615h1v12h-1zM482 615h1v23h-1zM637 615h1v24h-1zM639 615h1v37h-1zM501 615h1v72h-1zM448 615h1v81h-1zM498 616h1v10h-1zM635 616h1v43h-1zM585 616h1v51h-1zM701 616h1v91h-1zM481 617h1v9h-1zM500 618h1v13h-1zM527 618h1v19h-1zM724 618h1v19h-1zM772 618h1v21h-1zM538 618h1v43h-1zM770 618h1v43h-1zM738 618h1v44h-1zM449 618h1v73h-1zM773 619h1v18h-1zM583 619h1v20h-1zM911 620h1v18h-1zM737 620h1v45h-1zM458 620h1v46h-1zM559 620h1v62h-1zM617 622h1v26h-1zM439 622h1v30h-1zM545 622h1v35h-1zM647 622h1v43h-1zM656 622h1v65h-1zM619 623h1v11h-1zM930 623h1v13h-1zM652 623h1v14h-1zM775 623h1v21h-1zM834 624h1v9h-1zM1005 624h1v22h-1zM829 625h1v5h-1zM998 625h1v7h-1zM552 625h1v9h-1zM778 625h1v10h-1zM779 627h1v7h-1zM780 627h1v10h-1zM454 627h1v31h-1zM952 628h1v2h-1zM672 628h1v12h-1zM781 629h1v2h-1zM587 629h1v29h-1zM896 629h1v31h-1zM457 630h1v12h-1zM771 630h1v12h-1zM683 630h1v15h-1zM681 630h1v16h-1zM436 630h1v57h-1zM517 631h1v17h-1zM428 631h1v23h-1zM594 631h1v23h-1zM663 632h1v21h-1zM667 632h1v27h-1zM645 632h1v33h-1zM541 632h1v54h-1zM542 633h1v16h-1zM593 633h1v16h-1zM622 633h1v17h-1zM511 633h1v19h-1zM463 633h1v21h-1zM833 633h1v27h-1zM411 633h1v100h-1zM521 634h1v10h-1zM515 634h1v17h-1zM696 634h1v18h-1zM431 634h1v23h-1zM532 634h1v44h-1zM837 634h1v46h-1zM512 635h1v14h-1zM522 635h1v20h-1zM544 635h1v20h-1zM669 635h1v20h-1zM483 636h1v18h-1zM631 636h1v38h-1zM675 637h1v20h-1zM747 637h1v24h-1zM546 637h1v33h-1zM803 637h1v62h-1zM514 638h1v10h-1zM628 638h1v12h-1zM668 638h1v14h-1zM642 638h1v43h-1zM433 639h1v15h-1zM674 639h1v18h-1zM543 640h1v22h-1zM680 640h1v28h-1zM540 640h1v32h-1zM695 640h1v67h-1zM459 641h1v12h-1zM689 641h1v21h-1zM879 641h1v46h-1zM702 641h1v62h-1zM596 642h1v6h-1zM641 642h1v6h-1zM707 642h1v85h-1zM597 644h1v2h-1zM807 644h1v53h-1zM385 645h1v7h-1zM409 645h1v95h-1zM844 646h1v9h-1zM839 646h1v11h-1zM825 646h1v14h-1zM534 646h1v24h-1zM784 646h1v25h-1zM898 646h1v25h-1zM613 646h1v40h-1zM890 646h1v56h-1zM845 646h1v65h-1zM735 647h1v25h-1zM712 648h1v22h-1zM915 648h1v23h-1zM682 648h1v29h-1zM614 648h1v31h-1zM786 648h1v34h-1zM474 648h1v45h-1zM721 648h1v46h-1zM775 649h1v15h-1zM911 650h1v13h-1zM482 650h1v33h-1zM787 650h1v36h-1zM413 651h1v13h-1zM518 651h1v13h-1zM785 651h1v33h-1zM508 652h1v18h-1zM500 652h1v25h-1zM581 652h1v32h-1zM791 652h1v36h-1zM801 652h1v38h-1zM440 652h1v79h-1zM672 653h1v14h-1zM838 653h1v33h-1zM789 653h1v34h-1zM710 653h1v63h-1zM912 654h1v11h-1zM609 654h1v26h-1zM792 654h1v35h-1zM806 654h1v48h-1zM703 654h1v50h-1zM724 655h1v26h-1zM793 655h1v33h-1zM602 656h1v7h-1zM913 656h1v8h-1zM606 656h1v29h-1zM790 656h1v32h-1zM794 656h1v33h-1zM796 656h1v34h-1zM798 656h1v34h-1zM797 656h1v35h-1zM805 656h1v45h-1zM885 656h1v52h-1zM666 656h1v55h-1zM525 657h1v7h-1zM629 657h1v23h-1zM795 657h1v33h-1zM438 659h1v16h-1zM800 659h1v34h-1zM700 660h1v46h-1zM711 660h1v47h-1zM498 660h1v63h-1zM904 661h1v1h-1zM638 661h1v18h-1zM887 661h1v44h-1zM889 661h1v44h-1zM768 662h1v11h-1zM788 662h1v27h-1zM802 662h1v33h-1zM804 662h1v40h-1zM769 662h1v42h-1zM507 663h1v22h-1zM770 663h1v34h-1zM747 663h1v42h-1zM417 664h1v23h-1zM881 664h1v39h-1zM883 665h1v36h-1zM667 665h1v39h-1zM704 665h1v43h-1zM424 666h1v31h-1zM882 666h1v37h-1zM886 666h1v40h-1zM715 666h1v41h-1zM799 667h1v25h-1zM720 667h1v39h-1zM705 667h1v40h-1zM714 667h1v40h-1zM716 667h1v40h-1zM718 667h2v40h-2zM619 668h1v22h-1zM717 668h1v39h-1zM662 669h1v27h-1zM880 669h1v33h-1zM414 669h1v46h-1zM423 670h1v11h-1zM713 670h1v23h-1zM708 670h1v39h-1zM463 671h1v53h-1zM888 672h1v26h-1zM618 672h1v35h-1zM706 672h1v36h-1zM853 673h1v31h-1zM709 673h1v39h-1zM583 673h1v43h-1zM444 675h1v4h-1zM493 675h1v4h-1zM758 675h1v4h-1zM771 675h1v5h-1zM473 675h1v6h-1zM611 675h1v11h-1zM443 676h1v2h-1zM452 676h1v3h-1zM460 676h1v46h-1zM545 679h1v39h-1zM410 679h1v55h-1zM682 679h1v57h-1zM527 680h1v13h-1zM632 680h1v15h-1zM884 682h1v25h-1zM556 684h1v11h-1zM412 685h1v37h-1zM557 687h1v13h-1zM542 687h1v37h-1zM561 691h1v20h-1zM430 692h1v20h-1zM553 696h1v13h-1zM269 700h1v18h-1zM291 704h1v60h-1zM617 705h1v6h-1zM253 705h1v59h-1zM277 706h1v58h-1zM264 707h1v54h-1zM265 707h1v55h-1zM208 707h1v57h-1zM214 707h1v57h-1zM276 707h1v57h-1zM242 708h1v6h-1zM268 708h1v48h-1zM275 708h1v51h-1zM266 708h1v52h-1zM257 708h1v53h-1zM261 708h1v53h-1zM263 708h1v54h-1zM255 708h1v55h-1zM229 708h1v56h-1zM236 708h1v56h-1zM260 708h1v56h-1zM408 708h1v56h-1zM683 709h1v17h-1zM262 709h1v51h-1zM256 709h1v52h-1zM274 709h1v53h-1zM209 709h1v55h-1zM225 709h1v55h-1zM227 709h2v55h-2zM230 709h2v55h-2zM249 709h1v55h-1zM254 709h1v55h-1zM373 709h1v55h-1zM243 710h1v51h-1zM212 710h1v54h-1zM234 710h1v54h-1zM238 710h1v54h-1zM240 710h1v54h-1zM247 710h2v54h-2zM250 710h2v54h-2zM273 710h1v54h-1zM272 711h1v48h-1zM280 711h1v51h-1zM237 711h1v53h-1zM239 711h1v53h-1zM241 711h1v53h-1zM232 712h1v52h-1zM245 712h1v52h-1zM180 713h1v51h-1zM244 713h1v51h-1zM281 714h1v48h-1zM186 714h1v50h-1zM233 714h1v50h-1zM389 714h1v50h-1zM552 715h1v15h-1zM282 715h2v47h-2zM181 715h1v49h-1zM221 715h1v49h-1zM518 716h1v12h-1zM179 716h1v48h-1zM184 716h1v48h-1zM210 716h1v48h-1zM185 717h1v47h-1zM215 717h1v47h-1zM224 717h1v47h-1zM279 717h1v47h-1zM287 717h1v47h-1zM285 718h1v41h-1zM246 718h1v42h-1zM202 718h1v46h-1zM219 718h2v46h-2zM222 718h1v46h-1zM235 718h1v46h-1zM267 718h1v46h-1zM284 718h1v46h-1zM290 718h1v46h-1zM586 719h1v15h-1zM286 719h1v43h-1zM182 719h1v45h-1zM200 719h2v45h-2zM204 719h2v45h-2zM223 719h1v45h-1zM292 719h2v45h-2zM295 719h1v45h-1zM392 719h1v45h-1zM567 720h1v1h-1zM188 720h1v44h-1zM203 720h1v44h-1zM218 720h1v44h-1zM294 720h1v44h-1zM297 720h1v44h-1zM195 721h1v43h-1zM252 721h1v43h-1zM299 721h1v43h-1zM304 721h1v43h-1zM388 721h1v43h-1zM769 722h1v16h-1zM183 722h1v42h-1zM197 722h3v42h-3zM213 722h1v42h-1zM226 722h1v42h-1zM259 723h1v29h-1zM217 723h1v41h-1zM288 723h1v41h-1zM301 723h1v41h-1zM407 723h1v41h-1zM724 724h1v14h-1zM673 724h1v17h-1zM196 724h1v40h-1zM270 724h1v40h-1zM681 725h1v22h-1zM216 725h1v39h-1zM278 725h1v39h-1zM398 725h1v39h-1zM406 725h1v39h-1zM187 726h1v38h-1zM189 726h1v38h-1zM191 726h1v38h-1zM300 726h1v38h-1zM378 726h1v38h-1zM380 726h1v38h-1zM382 726h2v38h-2zM404 726h2v38h-2zM194 727h1v37h-1zM242 727h1v37h-1zM302 727h2v37h-2zM379 727h1v37h-1zM381 727h1v37h-1zM397 727h1v37h-1zM400 727h4v37h-4zM207 728h1v36h-1zM211 728h1v36h-1zM399 728h1v36h-1zM289 729h1v35h-1zM385 729h2v35h-2zM391 729h1v35h-1zM393 729h1v35h-1zM396 729h1v35h-1zM560 730h1v4h-1zM271 730h1v33h-1zM193 730h1v34h-1zM394 730h1v34h-1zM258 731h1v33h-1zM368 731h1v33h-1zM372 731h1v33h-1zM440 732h1v7h-1zM369 732h1v32h-1zM371 732h1v32h-1zM376 732h1v32h-1zM296 733h1v31h-1zM298 733h1v31h-1zM366 733h1v31h-1zM395 733h1v31h-1zM367 734h1v30h-1zM192 735h1v29h-1zM206 735h1v29h-1zM308 735h1v29h-1zM375 735h1v29h-1zM377 735h1v29h-1zM544 736h1v2h-1zM305 736h1v28h-1zM365 736h1v28h-1zM370 737h1v27h-1zM384 737h1v27h-1zM306 738h1v26h-1zM390 738h1v26h-1zM190 739h1v25h-1zM307 739h1v25h-1zM269 741h1v8h-1zM309 745h1v19h-1zM364 747h1v17h-1zM374 748h1v16h-1zM387 748h1v16h-1zM363 759h1v5h-1zM310 760h1v4h-1zM243 763h1v1h-1zM246 763h1v1h-1zM259 763h1v1h-1z"/><path fill="#00F0FF" d="M839 363h1v91h-1zM837 367h1v75h-1zM977 369h1v27h-1zM930 369h1v31h-1zM822 369h1v52h-1zM970 374h1v30h-1zM961 383h1v176h-1zM1014 386h1v20h-1zM976 386h1v29h-1zM969 390h1v80h-1zM951 392h1v16h-1zM946 393h1v67h-1zM1008 395h1v188h-1zM953 397h1v19h-1zM741 398h1v52h-1zM956 398h1v121h-1zM955 398h1v130h-1zM923 399h1v49h-1zM988 399h1v210h-1zM1012 400h1v14h-1zM986 400h1v71h-1zM957 401h1v119h-1zM985 401h1v187h-1zM987 402h1v40h-1zM954 403h1v120h-1zM990 403h1v182h-1zM958 404h1v105h-1zM962 405h1v48h-1zM852 405h1v94h-1zM959 405h1v108h-1zM991 405h1v191h-1zM740 406h1v35h-1zM973 406h1v41h-1zM984 406h1v76h-1zM735 406h1v77h-1zM971 406h1v91h-1zM960 406h1v102h-1zM981 407h1v57h-1zM989 407h1v189h-1zM948 408h1v69h-1zM994 409h1v127h-1zM983 410h1v66h-1zM992 410h1v130h-1zM993 410h1v137h-1zM949 411h1v61h-1zM929 412h1v35h-1zM965 412h1v95h-1zM937 412h1v120h-1zM1001 412h1v136h-1zM963 413h1v32h-1zM947 413h1v59h-1zM1009 413h1v147h-1zM1005 414h1v16h-1zM996 414h1v117h-1zM945 415h1v26h-1zM1010 415h1v131h-1zM1011 415h1v138h-1zM926 416h1v26h-1zM980 417h1v37h-1zM938 417h1v117h-1zM1002 417h1v139h-1zM925 417h1v189h-1zM941 418h1v5h-1zM936 418h1v111h-1zM995 418h1v128h-1zM1003 418h1v141h-1zM998 420h1v39h-1zM836 420h1v48h-1zM974 424h1v80h-1zM953 424h1v117h-1zM940 425h1v101h-1zM935 426h1v107h-1zM970 427h1v18h-1zM972 427h1v29h-1zM982 427h1v172h-1zM999 429h1v163h-1zM942 430h1v100h-1zM934 430h1v101h-1zM939 430h1v101h-1zM1004 431h1v119h-1zM979 431h1v170h-1zM922 432h1v26h-1zM943 433h1v47h-1zM728 433h1v67h-1zM924 434h1v62h-1zM921 434h1v98h-1zM997 440h1v88h-1zM1007 440h1v102h-1zM860 441h1v84h-1zM460 445h1v10h-1zM653 445h1v66h-1zM833 449h1v102h-1zM480 449h1v155h-1zM944 451h1v31h-1zM835 452h1v107h-1zM945 453h1v36h-1zM933 454h1v19h-1zM837 454h1v36h-1zM827 454h1v82h-1zM963 455h1v53h-1zM973 457h1v44h-1zM655 458h1v90h-1zM941 459h1v72h-1zM853 460h1v70h-1zM966 463h1v44h-1zM831 463h1v48h-1zM1017 464h2v9h-2zM1016 464h1v24h-1zM829 465h1v45h-1zM830 466h1v40h-1zM930 468h1v22h-1zM589 469h1v28h-1zM1006 469h1v102h-1zM828 470h1v37h-1zM964 470h1v38h-1zM649 471h1v62h-1zM824 473h1v21h-1zM834 473h1v26h-1zM927 473h1v63h-1zM842 474h1v24h-1zM952 474h1v34h-1zM672 475h1v43h-1zM825 475h1v95h-1zM848 476h1v179h-1zM654 477h1v203h-1zM1000 478h1v10h-1zM826 478h1v19h-1zM652 478h1v64h-1zM843 479h1v12h-1zM540 479h1v14h-1zM775 480h1v12h-1zM560 481h1v5h-1zM518 481h1v7h-1zM742 481h1v220h-1zM841 482h1v5h-1zM926 486h1v17h-1zM984 486h1v110h-1zM847 486h1v134h-1zM919 487h1v36h-1zM736 488h1v96h-1zM850 488h1v212h-1zM969 489h1v51h-1zM499 489h1v148h-1zM967 491h1v10h-1zM920 491h1v24h-1zM1015 493h1v20h-1zM695 493h1v48h-1zM674 493h1v57h-1zM849 493h1v94h-1zM854 494h1v50h-1zM981 494h1v64h-1zM753 494h1v150h-1zM729 494h1v169h-1zM724 495h1v64h-1zM809 495h1v163h-1zM948 496h1v43h-1zM983 496h1v49h-1zM501 496h1v119h-1zM459 498h1v67h-1zM859 499h1v100h-1zM811 499h1v159h-1zM562 500h1v24h-1zM696 500h1v74h-1zM918 501h1v27h-1zM734 501h1v45h-1zM810 501h1v156h-1zM943 503h1v16h-1zM851 503h1v30h-1zM746 503h1v93h-1zM813 503h1v198h-1zM602 504h1v25h-1zM818 504h1v31h-1zM491 504h1v66h-1zM986 504h1v79h-1zM998 505h1v17h-1zM970 505h1v38h-1zM950 505h1v42h-1zM968 506h1v38h-1zM814 507h1v34h-1zM872 507h1v146h-1zM647 508h1v11h-1zM521 508h1v14h-1zM947 509h1v28h-1zM617 509h1v36h-1zM500 509h1v109h-1zM1013 510h1v10h-1zM917 510h1v52h-1zM815 510h1v187h-1zM855 511h1v6h-1zM732 511h1v9h-1zM812 511h1v52h-1zM816 512h1v33h-1zM949 512h1v43h-1zM962 512h1v48h-1zM857 513h1v5h-1zM870 513h1v7h-1zM817 515h1v36h-1zM723 520h1v166h-1zM974 521h1v25h-1zM777 521h1v63h-1zM973 522h1v25h-1zM751 525h1v33h-1zM928 525h1v94h-1zM735 525h1v122h-1zM482 526h1v56h-1zM411 527h1v67h-1zM744 527h1v72h-1zM822 528h1v22h-1zM750 528h1v36h-1zM929 528h1v107h-1zM749 530h1v32h-1zM846 530h1v98h-1zM439 531h1v41h-1zM558 533h1v23h-1zM826 534h1v54h-1zM1000 534h1v63h-1zM657 534h1v73h-1zM755 535h1v32h-1zM422 535h1v35h-1zM842 535h1v154h-1zM966 536h1v18h-1zM1005 536h1v21h-1zM756 536h1v27h-1zM754 536h1v29h-1zM915 536h1v40h-1zM748 537h1v23h-1zM782 538h1v24h-1zM781 539h1v29h-1zM841 539h1v122h-1zM864 539h1v146h-1zM771 540h1v17h-1zM487 541h1v15h-1zM824 541h1v66h-1zM930 542h1v13h-1zM759 542h1v20h-1zM780 542h1v27h-1zM1016 542h1v105h-1zM965 543h1v8h-1zM761 543h1v10h-1zM752 544h1v5h-1zM490 544h1v7h-1zM840 544h1v53h-1zM764 545h1v8h-1zM778 545h1v19h-1zM843 545h1v83h-1zM964 546h1v3h-1zM971 546h1v79h-1zM914 547h1v1h-1zM963 547h1v1h-1zM627 547h1v2h-1zM757 547h1v2h-1zM469 547h1v42h-1zM933 548h1v14h-1zM968 549h1v17h-1zM973 549h1v71h-1zM734 549h1v120h-1zM983 550h1v47h-1zM871 550h1v142h-1zM816 551h1v49h-1zM865 551h1v58h-1zM823 552h1v16h-1zM993 552h1v24h-1zM974 552h1v35h-1zM916 553h1v25h-1zM874 553h1v56h-1zM869 553h1v104h-1zM863 553h1v133h-1zM866 553h1v135h-1zM656 554h1v28h-1zM691 554h1v56h-1zM1015 554h1v61h-1zM635 555h1v61h-1zM779 555h1v72h-1zM862 555h1v131h-1zM680 556h1v33h-1zM877 556h1v146h-1zM844 557h1v20h-1zM868 557h1v131h-1zM927 558h1v26h-1zM463 558h1v34h-1zM609 559h1v16h-1zM867 559h1v99h-1zM731 559h1v115h-1zM873 559h1v142h-1zM509 559h1v205h-1zM730 560h1v115h-1zM819 560h1v138h-1zM870 561h1v50h-1zM855 561h1v115h-1zM518 563h1v16h-1zM619 563h1v20h-1zM460 563h1v24h-1zM996 564h1v35h-1zM652 564h1v59h-1zM820 564h1v138h-1zM1010 565h1v5h-1zM538 565h1v23h-1zM733 565h1v23h-1zM412 565h1v44h-1zM454 565h1v62h-1zM857 565h1v112h-1zM417 566h1v19h-1zM738 566h1v52h-1zM727 566h1v60h-1zM858 566h1v116h-1zM725 567h1v18h-1zM732 567h1v106h-1zM828 567h1v106h-1zM830 567h1v108h-1zM829 568h1v57h-1zM998 568h1v57h-1zM851 569h1v99h-1zM834 570h1v54h-1zM780 570h1v57h-1zM835 570h1v70h-1zM854 570h1v100h-1zM814 570h1v128h-1zM876 570h1v132h-1zM778 571h1v54h-1zM781 571h1v58h-1zM522 572h1v17h-1zM853 572h1v32h-1zM755 572h1v36h-1zM759 572h1v37h-1zM856 572h1v105h-1zM921 573h1v18h-1zM474 573h1v24h-1zM764 573h1v118h-1zM817 573h2v125h-2zM756 574h1v28h-1zM754 574h1v34h-1zM812 574h1v87h-1zM774 575h1v39h-1zM617 575h1v47h-1zM761 575h1v113h-1zM765 575h1v115h-1zM766 575h1v121h-1zM643 575h1v189h-1zM462 576h1v14h-1zM970 576h1v18h-1zM760 576h1v32h-1zM763 576h1v118h-1zM932 577h1v12h-1zM748 577h1v108h-1zM750 577h1v109h-1zM762 577h1v109h-1zM767 577h1v119h-1zM962 579h1v27h-1zM976 580h1v17h-1zM749 580h1v105h-1zM634 580h1v184h-1zM981 581h1v26h-1zM783 581h1v96h-1zM751 581h1v104h-1zM631 582h1v54h-1zM666 582h1v74h-1zM503 582h1v98h-1zM808 582h1v182h-1zM949 583h1v11h-1zM542 583h1v13h-1zM646 583h1v24h-1zM645 583h1v49h-1zM831 583h1v100h-1zM757 584h1v12h-1zM852 584h1v19h-1zM1011 584h1v19h-1zM461 584h1v25h-1zM479 584h1v39h-1zM613 584h1v62h-1zM878 585h1v20h-1zM618 585h1v22h-1zM775 585h1v38h-1zM641 585h1v57h-1zM537 585h1v179h-1zM770 586h1v32h-1zM771 587h1v18h-1zM839 588h1v5h-1zM958 588h1v9h-1zM647 588h1v34h-1zM472 589h1v4h-1zM758 589h1v5h-1zM957 589h1v6h-1zM642 589h1v49h-1zM467 590h1v2h-1zM544 590h1v5h-1zM663 590h1v42h-1zM473 591h1v1h-1zM960 591h1v1h-1zM997 591h1v1h-1zM527 591h1v27h-1zM827 591h1v43h-1zM469 592h1v15h-1zM747 593h1v44h-1zM733 593h1v83h-1zM739 593h1v112h-1zM920 594h1v15h-1zM1006 594h1v15h-1zM696 594h1v19h-1zM538 594h1v24h-1zM489 594h1v30h-1zM541 594h1v38h-1zM952 595h1v33h-1zM546 595h1v42h-1zM743 595h1v103h-1zM931 596h1v9h-1zM1013 596h1v10h-1zM826 596h1v36h-1zM776 597h1v14h-1zM493 597h1v78h-1zM535 597h1v113h-1zM560 598h1v15h-1zM563 598h1v53h-1zM860 598h1v89h-1zM462 598h1v91h-1zM586 598h1v121h-1zM566 598h1v159h-1zM917 599h1v27h-1zM672 599h1v29h-1zM967 599h1v47h-1zM688 599h1v85h-1zM737 600h1v20h-1zM919 600h1v30h-1zM915 600h1v48h-1zM913 600h1v56h-1zM1014 602h1v9h-1zM562 602h1v22h-1zM638 602h1v59h-1zM769 602h1v60h-1zM914 602h1v70h-1zM772 603h1v15h-1zM620 603h1v161h-1zM639 604h1v11h-1zM773 604h1v15h-1zM969 604h1v23h-1zM629 604h1v53h-1zM726 604h1v70h-1zM505 604h1v160h-1zM972 605h1v12h-1zM938 605h1v15h-1zM655 605h1v22h-1zM978 605h1v23h-1zM918 605h1v49h-1zM1005 606h1v18h-1zM924 606h1v33h-1zM614 606h1v42h-1zM736 606h1v46h-1zM861 607h1v28h-1zM722 607h1v157h-1zM975 608h1v10h-1zM430 608h1v84h-1zM940 609h1v7h-1zM930 609h1v14h-1zM554 609h1v154h-1zM648 610h1v4h-1zM637 610h1v5h-1zM934 610h1v5h-1zM911 611h1v9h-1zM630 611h1v153h-1zM943 612h1v2h-1zM912 612h1v42h-1zM676 612h1v135h-1zM656 613h1v9h-1zM597 613h1v31h-1zM536 613h1v40h-1zM502 613h1v132h-1zM588 613h1v133h-1zM561 614h1v11h-1zM440 614h1v38h-1zM870 614h1v45h-1zM478 614h1v63h-1zM560 614h1v78h-1zM626 614h1v92h-1zM874 615h1v32h-1zM759 615h1v60h-1zM865 615h1v71h-1zM755 615h1v74h-1zM916 615h1v100h-1zM619 616h1v7h-1zM522 616h1v19h-1zM754 616h1v62h-1zM760 616h1v70h-1zM878 616h1v93h-1zM836 617h1v25h-1zM849 617h1v38h-1zM662 617h1v52h-1zM980 618h1v15h-1zM925 618h1v20h-1zM756 618h1v64h-1zM757 618h1v108h-1zM664 618h1v146h-1zM542 619h1v14h-1zM540 619h1v21h-1zM875 619h1v40h-1zM598 619h1v47h-1zM1000 619h1v54h-1zM744 619h1v69h-1zM667 620h1v12h-1zM433 620h1v19h-1zM752 620h1v72h-1zM601 620h1v144h-1zM997 621h1v19h-1zM422 621h1v20h-1zM845 621h1v25h-1zM602 621h1v35h-1zM904 621h1v40h-1zM758 621h1v54h-1zM816 621h1v73h-1zM895 621h1v143h-1zM838 622h1v31h-1zM513 622h1v83h-1zM926 623h1v11h-1zM961 623h1v11h-1zM424 623h1v43h-1zM653 623h1v69h-1zM519 623h1v102h-1zM446 623h1v141h-1zM450 623h1v141h-1zM529 623h2v141h-2zM555 623h1v141h-1zM859 623h1v141h-1zM628 624h1v14h-1zM473 624h1v51h-1zM410 624h1v55h-1zM539 624h1v140h-1zM431 625h1v9h-1zM669 625h1v10h-1zM514 625h1v13h-1zM668 625h1v13h-1zM596 625h1v17h-1zM525 625h1v32h-1zM423 625h1v45h-1zM429 625h1v77h-1zM523 625h1v139h-1zM999 626h1v5h-1zM511 626h1v7h-1zM532 626h1v8h-1zM481 626h1v11h-1zM480 626h1v13h-1zM498 626h1v34h-1zM745 626h1v49h-1zM627 626h1v63h-1zM466 626h1v138h-1zM590 626h1v138h-1zM593 627h1v6h-1zM515 627h1v7h-1zM512 627h1v8h-1zM543 627h1v13h-1zM474 627h1v21h-1zM821 627h1v24h-1zM516 627h1v137h-1zM526 627h1v137h-1zM436 628h1v2h-1zM1001 628h1v2h-1zM428 628h1v3h-1zM594 628h1v3h-1zM622 628h1v5h-1zM534 628h1v18h-1zM599 628h1v44h-1zM452 628h1v48h-1zM517 629h1v2h-1zM489 629h1v103h-1zM447 629h1v135h-1zM451 629h1v135h-1zM829 630h1v14h-1zM952 630h1v42h-1zM846 630h1v48h-1zM843 630h1v56h-1zM562 630h1v134h-1zM781 631h1v37h-1zM524 631h1v129h-1zM998 632h1v13h-1zM491 632h1v23h-1zM453 632h1v132h-1zM589 633h1v34h-1zM834 633h1v99h-1zM490 633h1v124h-1zM853 634h1v39h-1zM779 634h1v40h-1zM592 634h1v50h-1zM472 634h1v130h-1zM893 634h1v130h-1zM832 635h1v10h-1zM778 635h1v38h-1zM633 635h1v78h-1zM930 636h1v59h-1zM981 637h1v12h-1zM724 637h1v18h-1zM652 637h1v23h-1zM780 637h1v35h-1zM728 637h1v38h-1zM773 637h1v44h-1zM847 637h1v55h-1zM482 638h1v12h-1zM911 638h1v12h-1zM612 638h1v51h-1zM425 638h1v114h-1zM486 638h1v126h-1zM487 639h1v17h-1zM414 639h1v30h-1zM933 639h1v32h-1zM583 639h1v34h-1zM772 639h1v52h-1zM637 639h1v81h-1zM571 639h1v125h-1zM650 639h1v125h-1zM1012 640h1v9h-1zM557 640h1v47h-1zM741 641h1v16h-1zM852 641h1v38h-1zM608 641h1v51h-1zM605 641h1v52h-1zM568 641h1v123h-1zM651 641h1v123h-1zM698 641h1v123h-1zM457 642h1v13h-1zM771 642h1v33h-1zM1006 642h1v53h-1zM484 642h1v122h-1zM569 642h1v122h-1zM576 642h1v122h-1zM607 642h1v122h-1zM694 642h1v122h-1zM1015 643h1v4h-1zM777 643h1v18h-1zM648 643h1v27h-1zM485 643h1v121h-1zM548 643h1v121h-1zM572 643h2v121h-2zM575 643h1v121h-1zM578 643h1v121h-1zM898 644h1v2h-1zM775 644h1v5h-1zM413 644h1v7h-1zM521 644h1v10h-1zM567 644h1v25h-1zM549 644h2v120h-2zM570 644h1v120h-1zM574 644h1v120h-1zM604 644h1v120h-1zM683 645h1v15h-1zM774 645h1v40h-1zM636 645h1v75h-1zM681 646h1v14h-1zM597 646h1v28h-1zM1005 646h1v51h-1zM776 646h1v103h-1zM603 646h1v118h-1zM690 646h1v118h-1zM829 648h1v24h-1zM746 648h1v46h-1zM641 648h1v48h-1zM617 648h1v57h-1zM824 648h1v94h-1zM427 648h1v116h-1zM514 648h1v116h-1zM517 648h1v116h-1zM547 648h1v116h-1zM596 648h1v116h-1zM693 648h1v116h-1zM444 649h1v26h-1zM969 649h1v47h-1zM644 649h1v108h-1zM506 649h1v115h-1zM512 649h1v115h-1zM593 649h1v115h-1zM658 649h1v115h-1zM661 649h1v115h-1zM646 650h1v112h-1zM832 650h1v112h-1zM432 650h1v114h-1zM467 650h1v114h-1zM520 650h1v114h-1zM622 650h1v114h-1zM628 650h1v114h-1zM671 650h1v114h-1zM678 650h1v114h-1zM515 651h1v40h-1zM455 651h1v113h-1zM476 651h1v113h-1zM496 651h1v113h-1zM579 651h1v113h-1zM659 651h1v113h-1zM696 652h1v10h-1zM753 652h1v24h-1zM782 652h1v25h-1zM497 652h1v41h-1zM439 652h1v112h-1zM510 652h2v112h-2zM639 652h1v112h-1zM668 652h1v112h-1zM677 652h1v112h-1zM679 652h1v112h-1zM459 653h1v11h-1zM488 653h1v34h-1zM975 653h1v49h-1zM600 653h1v111h-1zM660 653h1v111h-1zM663 653h1v111h-1zM483 654h1v14h-1zM463 654h1v17h-1zM443 654h1v22h-1zM564 654h1v49h-1zM428 654h1v110h-1zM433 654h1v110h-1zM456 654h1v110h-1zM495 654h1v110h-1zM551 654h1v110h-1zM577 654h1v110h-1zM591 654h1v110h-1zM594 654h1v110h-1zM684 654h1v110h-1zM844 655h1v11h-1zM544 655h1v14h-1zM522 655h1v15h-1zM460 655h1v21h-1zM692 655h1v28h-1zM556 655h1v29h-1zM861 655h1v36h-1zM822 655h1v39h-1zM673 655h1v69h-1zM437 655h1v109h-1zM469 655h2v109h-2zM595 655h1v109h-1zM624 655h1v109h-1zM669 655h1v109h-1zM687 655h1v109h-1zM995 656h1v17h-1zM691 656h1v20h-1zM412 656h1v29h-1zM823 656h1v29h-1zM416 656h1v108h-1zM685 656h2v108h-2zM584 657h1v21h-1zM545 657h1v22h-1zM674 657h1v22h-1zM839 657h1v90h-1zM431 657h1v107h-1zM464 657h1v107h-1zM670 657h1v107h-1zM675 657h1v107h-1zM946 658h1v24h-1zM587 658h1v105h-1zM421 658h1v106h-1zM454 658h1v106h-1zM494 658h1v106h-1zM667 659h1v6h-1zM635 659h1v32h-1zM426 659h1v105h-1zM465 659h1v105h-1zM825 660h1v12h-1zM833 660h1v21h-1zM976 660h1v25h-1zM625 660h1v30h-1zM827 660h1v39h-1zM623 660h1v104h-1zM640 660h1v104h-1zM896 660h1v104h-1zM1001 661h1v1h-1zM968 661h1v2h-1zM479 661h1v22h-1zM538 661h1v45h-1zM441 661h1v103h-1zM1014 662h1v7h-1zM618 662h1v10h-1zM738 662h1v12h-1zM841 662h1v20h-1zM543 662h1v24h-1zM812 662h1v35h-1zM580 662h1v102h-1zM689 662h1v102h-1zM904 662h1v102h-1zM911 663h1v14h-1zM610 663h1v27h-1zM870 663h1v28h-1zM810 663h1v30h-1zM434 663h1v101h-1zM602 663h1v101h-1zM903 663h1v101h-1zM913 664h1v10h-1zM775 664h1v28h-1zM811 664h1v37h-1zM875 664h1v43h-1zM518 664h1v52h-1zM413 664h1v100h-1zM418 664h1v100h-1zM525 664h1v100h-1zM897 664h1v100h-1zM912 665h1v11h-1zM869 665h1v22h-1zM645 665h1v24h-1zM809 665h1v25h-1zM737 665h1v40h-1zM422 665h1v42h-1zM909 665h1v95h-1zM442 665h1v99h-1zM647 665h1v99h-1zM867 666h1v16h-1zM910 666h1v93h-1zM458 666h1v98h-1zM672 667h1v10h-1zM585 667h1v22h-1zM920 667h1v35h-1zM616 667h1v52h-1zM536 667h1v89h-1zM649 667h1v97h-1zM835 668h1v15h-1zM480 668h1v20h-1zM492 668h1v24h-1zM872 668h1v26h-1zM980 668h1v71h-1zM680 668h1v78h-1zM565 668h1v94h-1zM419 668h2v96h-2zM471 668h1v96h-1zM928 669h1v23h-1zM621 669h1v36h-1zM929 670h1v44h-1zM508 670h1v58h-1zM468 670h1v94h-1zM534 670h1v94h-1zM546 670h1v94h-1zM712 670h1v94h-1zM901 670h1v94h-1zM915 671h1v46h-1zM927 671h1v71h-1zM615 671h1v93h-1zM784 671h1v93h-1zM898 671h1v93h-1zM902 671h1v93h-1zM907 671h2v93h-2zM926 672h1v12h-1zM561 672h1v19h-1zM735 672h1v34h-1zM563 672h1v37h-1zM540 672h1v49h-1zM768 673h1v11h-1zM481 673h1v30h-1zM461 673h1v43h-1zM477 673h1v91h-1zM971 674h1v35h-1zM631 674h1v90h-1zM899 674h2v90h-2zM906 674h1v90h-1zM582 675h1v21h-1zM438 675h1v89h-1zM682 677h1v2h-1zM500 677h1v10h-1zM683 678h1v31h-1zM443 678h1v86h-1zM532 678h1v86h-1zM614 679h1v11h-1zM758 679h1v29h-1zM444 679h1v85h-1zM452 679h1v85h-1zM493 679h1v85h-1zM531 679h1v85h-1zM533 679h1v85h-1zM638 679h1v85h-1zM771 680h1v37h-1zM837 680h1v39h-1zM609 680h1v84h-1zM629 680h1v84h-1zM724 681h1v13h-1zM642 681h1v28h-1zM435 681h1v76h-1zM423 681h1v83h-1zM473 681h1v83h-1zM892 681h1v83h-1zM733 682h1v16h-1zM830 682h1v46h-1zM559 682h1v52h-1zM558 682h1v70h-1zM697 682h1v82h-1zM786 682h1v82h-1zM482 683h1v17h-1zM1017 683h1v36h-1zM581 684h1v18h-1zM785 684h1v80h-1zM891 684h1v80h-1zM504 685h1v34h-1zM606 685h1v35h-1zM736 685h1v45h-1zM840 685h1v69h-1zM445 685h1v79h-1zM507 685h1v79h-1zM611 686h1v12h-1zM738 686h1v14h-1zM726 686h1v19h-1zM838 686h1v35h-1zM528 686h1v78h-1zM541 686h1v78h-1zM613 686h1v78h-1zM787 686h1v78h-1zM894 686h1v78h-1zM732 687h1v11h-1zM656 687h1v53h-1zM501 687h1v60h-1zM415 687h1v77h-1zM417 687h1v77h-1zM436 687h1v77h-1zM789 687h1v77h-1zM879 687h1v77h-1zM790 688h2v76h-2zM793 688h1v76h-1zM931 689h1v46h-1zM788 689h1v75h-1zM792 689h1v75h-1zM794 689h1v75h-1zM731 690h1v6h-1zM619 690h1v74h-1zM665 690h1v74h-1zM795 690h2v74h-2zM798 690h1v74h-1zM801 690h1v74h-1zM449 691h1v73h-1zM797 691h1v73h-1zM799 692h1v72h-1zM474 693h1v71h-1zM527 693h1v71h-1zM713 693h1v71h-1zM800 693h1v71h-1zM478 694h1v67h-1zM844 694h1v68h-1zM721 694h1v70h-1zM632 695h1v14h-1zM912 695h1v23h-1zM567 695h1v25h-1zM475 695h1v69h-1zM497 695h1v69h-1zM556 695h1v69h-1zM635 695h1v69h-1zM802 695h1v69h-1zM448 696h1v68h-1zM592 696h1v68h-1zM662 696h1v68h-1zM770 697h1v16h-1zM424 697h1v32h-1zM605 697h1v67h-1zM691 697h1v67h-1zM699 697h1v67h-1zM807 697h1v67h-1zM911 698h1v24h-1zM610 698h1v49h-1zM598 698h1v66h-1zM888 698h1v66h-1zM914 699h1v15h-1zM740 699h1v65h-1zM803 699h1v65h-1zM585 700h1v56h-1zM557 700h1v64h-1zM597 700h1v64h-1zM608 700h1v64h-1zM913 701h1v14h-1zM923 701h1v25h-1zM672 701h1v32h-1zM674 701h1v56h-1zM483 701h1v63h-1zM805 701h1v63h-1zM883 701h1v63h-1zM804 702h1v62h-1zM806 702h1v62h-1zM880 702h1v62h-1zM890 702h1v62h-1zM918 703h1v8h-1zM503 703h1v61h-1zM702 703h1v61h-1zM881 703h2v61h-2zM769 704h1v18h-1zM853 704h1v36h-1zM522 704h1v39h-1zM667 704h1v60h-1zM703 704h1v60h-1zM829 705h1v22h-1zM492 705h1v59h-1zM747 705h1v59h-1zM887 705h1v59h-1zM889 705h1v59h-1zM681 706h1v19h-1zM700 706h1v58h-1zM720 706h1v58h-1zM886 706h1v58h-1zM917 707h1v4h-1zM618 707h1v10h-1zM695 707h1v13h-1zM459 707h1v43h-1zM701 707h1v57h-1zM705 707h1v57h-1zM711 707h1v57h-1zM714 707h6v57h-6zM884 707h1v57h-1zM584 708h1v56h-1zM704 708h1v56h-1zM706 708h1v56h-1zM885 708h1v56h-1zM831 709h1v19h-1zM553 709h1v33h-1zM708 709h1v55h-1zM905 710h1v21h-1zM599 710h1v54h-1zM561 711h1v18h-1zM560 711h1v19h-1zM845 711h1v21h-1zM617 711h1v28h-1zM612 711h1v53h-1zM666 711h1v53h-1zM696 712h1v14h-1zM430 712h1v52h-1zM627 712h1v52h-1zM709 712h1v52h-1zM775 713h1v49h-1zM429 713h1v51h-1zM457 713h1v51h-1zM878 713h1v51h-1zM724 714h1v10h-1zM833 714h1v20h-1zM726 714h1v23h-1zM521 714h1v27h-1zM626 714h1v50h-1zM653 715h1v14h-1zM933 715h1v21h-1zM825 715h1v28h-1zM582 715h1v44h-1zM414 715h1v49h-1zM543 715h1v49h-1zM723 715h1v49h-1zM860 715h1v49h-1zM648 716h1v37h-1zM583 716h1v48h-1zM611 716h1v48h-1zM710 716h1v48h-1zM544 717h1v19h-1zM581 717h1v44h-1zM727 718h1v16h-1zM269 718h1v23h-1zM655 718h1v28h-1zM545 718h1v44h-1zM513 718h1v46h-1zM852 719h1v21h-1zM855 719h1v25h-1zM728 719h1v44h-1zM564 719h1v45h-1zM621 719h1v45h-1zM688 719h1v45h-1zM828 720h1v2h-1zM751 720h2v13h-2zM760 720h1v16h-1zM755 720h1v17h-1zM731 720h1v44h-1zM749 720h1v44h-1zM763 720h1v44h-1zM765 720h1v44h-1zM753 721h1v13h-1zM756 721h1v15h-1zM759 721h1v15h-1zM589 721h1v18h-1zM567 721h1v37h-1zM500 721h1v41h-1zM734 721h1v42h-1zM462 721h1v43h-1zM625 721h1v43h-1zM637 721h1v43h-1zM773 721h1v43h-1zM460 722h1v38h-1zM412 722h1v42h-1zM616 722h1v42h-1zM636 722h1v42h-1zM768 722h1v42h-1zM498 723h1v13h-1zM811 723h1v24h-1zM614 723h1v41h-1zM632 723h2v41h-2zM542 724h1v13h-1zM487 724h1v32h-1zM463 724h1v40h-1zM606 724h1v40h-1zM743 724h1v40h-1zM761 724h1v40h-1zM762 725h1v36h-1zM692 725h1v39h-1zM730 725h1v39h-1zM750 726h1v8h-1zM683 726h1v38h-1zM732 726h2v38h-2zM739 726h1v38h-1zM745 726h1v38h-1zM782 726h2v38h-2zM1015 727h1v6h-1zM754 727h1v10h-1zM854 727h1v20h-1zM1018 727h1v21h-1zM707 727h1v37h-1zM748 727h1v37h-1zM764 727h1v37h-1zM915 728h1v6h-1zM488 728h1v29h-1zM518 728h1v36h-1zM746 728h1v36h-1zM766 728h2v36h-2zM499 729h1v6h-1zM771 729h1v17h-1zM848 729h1v17h-1zM645 729h1v35h-1zM850 730h1v5h-1zM849 730h1v10h-1zM552 730h1v16h-1zM856 730h1v17h-1zM482 730h1v34h-1zM504 730h1v34h-1zM779 730h1v34h-1zM440 731h1v1h-1zM742 731h1v1h-1zM809 731h1v29h-1zM654 731h1v33h-1zM870 732h1v28h-1zM508 732h1v32h-1zM535 732h1v32h-1zM781 732h1v32h-1zM861 732h1v32h-1zM411 733h1v13h-1zM858 733h1v14h-1zM862 733h1v14h-1zM864 733h1v16h-1zM863 733h1v18h-1zM515 733h1v21h-1zM813 733h1v27h-1zM830 733h2v27h-2zM828 733h1v28h-1zM461 733h1v31h-1zM738 733h1v31h-1zM778 733h1v31h-1zM780 733h1v31h-1zM857 733h1v31h-1zM911 734h1v6h-1zM865 734h3v13h-3zM810 734h1v25h-1zM815 734h1v26h-1zM817 734h1v26h-1zM829 734h1v26h-1zM479 734h1v27h-1zM812 734h1v27h-1zM819 734h1v27h-1zM875 734h1v28h-1zM560 734h1v29h-1zM772 734h1v29h-1zM851 734h1v29h-1zM410 734h1v30h-1zM586 734h1v30h-1zM652 734h1v30h-1zM774 734h1v30h-1zM820 735h1v4h-1zM818 735h1v6h-1zM868 735h1v14h-1zM821 735h1v17h-1zM869 735h1v17h-1zM814 735h1v26h-1zM540 735h1v29h-1zM822 735h1v29h-1zM843 736h1v10h-1zM770 736h1v27h-1zM519 736h1v28h-1zM682 736h1v28h-1zM967 737h1v12h-1zM874 737h1v26h-1zM618 737h1v27h-1zM653 737h1v27h-1zM695 737h1v27h-1zM724 738h1v11h-1zM544 738h1v26h-1zM641 738h1v26h-1zM726 738h1v26h-1zM754 738h2v26h-2zM760 738h1v26h-1zM769 738h1v26h-1zM905 738h1v26h-1zM847 739h1v6h-1zM440 739h1v18h-1zM850 739h1v22h-1zM642 739h1v25h-1zM750 739h1v25h-1zM756 739h1v25h-1zM759 739h1v25h-1zM842 740h1v5h-1zM836 740h1v11h-1zM838 740h1v16h-1zM846 740h1v21h-1zM538 740h1v23h-1zM409 740h1v24h-1zM424 740h1v24h-1zM751 740h1v24h-1zM480 741h1v2h-1zM841 741h1v2h-1zM835 741h1v16h-1zM873 741h1v19h-1zM672 741h1v22h-1zM744 741h1v22h-1zM561 741h1v23h-1zM673 741h1v23h-1zM727 741h1v23h-1zM877 741h1v23h-1zM481 742h1v5h-1zM725 742h1v22h-1zM757 742h1v22h-1zM876 742h1v22h-1zM872 743h1v6h-1zM777 743h1v8h-1zM735 743h1v14h-1zM737 743h1v21h-1zM758 743h1v21h-1zM849 744h1v15h-1zM818 744h1v16h-1zM498 744h1v20h-1zM559 744h1v20h-1zM489 745h1v19h-1zM617 745h1v19h-1zM752 745h1v19h-1zM820 745h1v19h-1zM871 746h1v5h-1zM975 747h1v2h-1zM729 747h1v6h-1zM834 747h1v11h-1zM422 747h1v17h-1zM681 747h1v17h-1zM839 748h1v6h-1zM481 748h1v16h-1zM742 748h1v16h-1zM916 749h1v5h-1zM542 749h1v9h-1zM854 749h1v9h-1zM811 749h1v11h-1zM833 749h1v11h-1zM856 749h1v14h-1zM269 749h1v15h-1zM502 749h1v15h-1zM610 749h1v15h-1zM676 749h1v15h-1zM696 749h1v15h-1zM848 749h1v15h-1zM826 750h1v9h-1zM843 750h1v9h-1zM741 750h1v11h-1zM680 750h1v12h-1zM842 751h1v5h-1zM911 751h1v7h-1zM655 751h1v13h-1zM855 751h1v13h-1zM521 752h1v10h-1zM259 752h1v11h-1zM411 752h1v12h-1zM867 752h1v12h-1zM827 753h1v8h-1zM563 753h1v11h-1zM656 753h1v11h-1zM648 754h1v10h-1zM724 754h1v10h-1zM729 754h1v10h-1zM753 755h1v9h-1zM816 755h1v9h-1zM863 755h1v9h-1zM865 755h1v9h-1zM868 755h2v9h-2zM268 756h1v8h-1zM845 757h1v1h-1zM501 757h1v5h-1zM858 757h1v6h-1zM823 757h1v7h-1zM864 757h1v7h-1zM837 758h1v4h-1zM435 758h1v6h-1zM585 758h1v6h-1zM735 758h1v6h-1zM862 758h1v6h-1zM272 759h1v5h-1zM275 759h1v5h-1zM285 759h1v5h-1zM440 759h1v5h-1zM866 759h1v5h-1zM246 760h1v3h-1zM566 760h1v3h-1zM262 760h1v4h-1zM266 760h1v4h-1zM487 760h1v4h-1zM515 760h1v4h-1zM552 760h2v4h-2zM852 760h1v4h-1zM243 761h1v2h-1zM256 761h2v3h-2zM261 761h1v3h-1zM264 761h1v3h-1zM588 761h1v3h-1zM263 762h1v2h-1zM265 762h1v2h-1zM274 762h1v2h-1zM280 762h4v2h-4zM286 762h1v2h-1zM524 762h1v2h-1zM589 762h1v2h-1zM762 762h1v2h-1zM824 762h1v2h-1zM870 762h2v2h-2zM873 762h1v2h-1zM255 763h1v1h-1zM271 763h1v1h-1zM459 763h2v1h-2zM674 763h1v1h-1zM810 763h3v1h-3zM814 763h1v1h-1zM818 763h1v1h-1zM839 763h1v1h-1zM850 763h1v1h-1zM909 763h1v1h-1z"/><path fill="#19FFE5" d="M977 396h1v63h-1zM930 400h1v68h-1zM970 404h1v23h-1zM1014 406h1v66h-1zM951 408h1v51h-1zM1012 414h1v86h-1zM976 415h1v44h-1zM953 416h1v8h-1zM837 442h1v12h-1zM926 442h1v44h-1zM987 442h1v229h-1zM973 447h1v10h-1zM929 447h1v81h-1zM923 448h1v63h-1zM972 456h1v48h-1zM922 458h1v57h-1zM998 459h1v46h-1zM946 460h1v20h-1zM981 464h1v30h-1zM836 468h1v149h-1zM986 471h1v33h-1zM947 472h1v37h-1zM949 472h1v40h-1zM1017 473h2v10h-2zM933 473h1v75h-1zM983 476h1v20h-1zM948 477h1v19h-1zM943 480h1v23h-1zM984 482h1v4h-1zM944 482h1v159h-1zM735 483h1v42h-1zM1016 488h1v54h-1zM945 489h1v151h-1zM971 497h1v49h-1zM967 501h1v11h-1zM973 501h1v21h-1zM974 504h1v17h-1zM966 507h1v29h-1zM965 507h1v36h-1zM964 508h1v38h-1zM963 508h1v39h-1zM960 508h1v58h-1zM952 508h1v87h-1zM958 509h1v79h-1zM1015 513h1v41h-1zM959 513h1v55h-1zM920 515h1v79h-1zM922 516h1v68h-1zM943 519h1v93h-1zM956 519h1v162h-1zM957 520h1v69h-1zM998 522h1v25h-1zM972 522h1v83h-1zM919 523h1v77h-1zM954 523h1v120h-1zM940 526h1v83h-1zM997 528h1v63h-1zM918 528h1v77h-1zM955 528h1v112h-1zM936 529h1v132h-1zM967 530h1v69h-1zM942 530h1v155h-1zM996 531h1v33h-1zM934 531h1v79h-1zM941 531h1v152h-1zM939 531h1v154h-1zM937 532h1v152h-1zM935 533h1v146h-1zM938 534h1v71h-1zM927 536h1v22h-1zM976 536h1v44h-1zM994 536h1v159h-1zM947 537h1v102h-1zM948 539h1v100h-1zM992 540h1v146h-1zM953 541h1v103h-1zM1007 542h1v73h-1zM951 542h1v78h-1zM983 545h1v5h-1zM816 545h1v6h-1zM617 545h1v30h-1zM1010 546h1v19h-1zM995 546h1v61h-1zM993 547h1v5h-1zM950 547h1v24h-1zM1001 548h1v80h-1zM963 548h1v105h-1zM998 549h1v19h-1zM964 549h1v95h-1zM822 550h1v105h-1zM1004 550h1v122h-1zM965 551h1v93h-1zM1011 553h1v31h-1zM966 554h1v99h-1zM930 555h1v10h-1zM949 555h1v28h-1zM1002 556h1v88h-1zM771 557h1v30h-1zM1005 557h1v49h-1zM981 558h1v23h-1zM961 559h1v64h-1zM1003 559h1v114h-1zM962 560h1v19h-1zM1009 560h1v110h-1zM1018 562h1v19h-1zM968 566h1v21h-1zM823 568h1v53h-1zM946 568h1v90h-1zM1010 570h1v100h-1zM1006 571h1v23h-1zM959 571h1v143h-1zM960 573h1v18h-1zM696 574h1v20h-1zM993 576h1v124h-1zM916 578h1v37h-1zM656 582h1v31h-1zM619 583h1v33h-1zM1008 583h1v41h-1zM986 583h1v43h-1zM725 585h1v87h-1zM990 585h1v90h-1zM974 587h1v38h-1zM460 587h1v68h-1zM538 588h1v6h-1zM985 588h1v37h-1zM469 589h1v3h-1zM932 589h1v13h-1zM522 589h1v27h-1zM462 590h1v8h-1zM921 591h1v51h-1zM997 592h1v29h-1zM999 592h1v34h-1zM960 592h1v82h-1zM1014 594h1v8h-1zM970 594h1v15h-1zM949 594h1v47h-1zM957 595h1v95h-1zM989 596h1v79h-1zM984 596h1v80h-1zM991 596h1v84h-1zM1000 597h1v22h-1zM976 597h1v23h-1zM983 597h1v78h-1zM958 597h1v88h-1zM930 598h1v11h-1zM744 599h1v20h-1zM859 599h1v24h-1zM996 599h1v40h-1zM982 599h1v165h-1zM979 601h1v92h-1zM852 603h1v38h-1zM1011 603h1v70h-1zM931 605h1v10h-1zM925 606h1v12h-1zM1013 606h1v12h-1zM962 606h1v67h-1zM981 607h1v30h-1zM824 607h1v41h-1zM618 607h1v55h-1zM657 607h1v157h-1zM865 609h1v6h-1zM874 609h1v6h-1zM988 609h1v54h-1zM870 611h1v3h-1zM776 611h1v35h-1zM560 613h1v1h-1zM943 614h1v75h-1zM1015 615h1v28h-1zM934 615h1v39h-1zM995 615h1v41h-1zM940 616h1v66h-1zM972 617h1v17h-1zM975 618h1v6h-1zM928 619h1v13h-1zM973 620h1v11h-1zM847 620h1v17h-1zM938 620h1v65h-1zM479 623h1v38h-1zM489 624h1v5h-1zM562 624h1v6h-1zM923 624h1v77h-1zM1012 625h1v15h-1zM561 625h1v47h-1zM971 625h1v49h-1zM917 626h1v47h-1zM727 626h1v92h-1zM969 627h1v22h-1zM655 627h1v63h-1zM843 628h1v2h-1zM846 628h1v2h-1zM978 628h1v17h-1zM919 630h1v13h-1zM1001 630h1v14h-1zM986 630h1v36h-1zM985 630h1v43h-1zM999 631h1v12h-1zM826 632h1v30h-1zM980 633h1v11h-1zM926 634h1v7h-1zM961 634h1v11h-1zM827 634h1v26h-1zM929 635h1v9h-1zM861 635h1v20h-1zM968 637h1v24h-1zM481 637h1v36h-1zM499 637h1v37h-1zM976 638h1v22h-1zM925 638h1v44h-1zM924 639h1v21h-1zM1018 639h1v25h-1zM480 639h1v29h-1zM823 640h1v16h-1zM835 640h1v28h-1zM997 640h1v38h-1zM422 641h1v24h-1zM1013 642h1v9h-1zM836 642h1v98h-1zM829 644h1v4h-1zM753 644h1v8h-1zM832 645h1v5h-1zM975 645h1v8h-1zM998 645h1v23h-1zM1007 645h1v23h-1zM967 646h1v13h-1zM1001 646h1v15h-1zM1015 647h2v13h-2zM953 647h1v35h-1zM874 647h1v90h-1zM954 648h1v38h-1zM1002 648h1v41h-1zM1012 649h1v9h-1zM980 649h1v19h-1zM944 649h1v36h-1zM955 649h1v36h-1zM981 649h1v65h-1zM999 649h1v66h-1zM1008 650h1v17h-1zM949 650h1v35h-1zM563 651h1v21h-1zM945 651h1v34h-1zM821 651h1v61h-1zM736 652h1v33h-1zM948 652h1v34h-1zM922 652h1v112h-1zM536 653h1v14h-1zM872 653h1v15h-1zM947 654h1v31h-1zM521 654h1v36h-1zM918 654h1v49h-1zM950 654h1v76h-1zM457 655h1v58h-1zM848 655h1v74h-1zM849 655h1v75h-1zM491 655h1v109h-1zM487 656h1v21h-1zM810 657h1v6h-1zM869 657h1v8h-1zM929 657h1v13h-1zM741 657h1v14h-1zM811 658h1v6h-1zM809 658h1v7h-1zM867 658h1v8h-1zM928 658h1v11h-1zM870 659h1v4h-1zM875 659h1v5h-1zM683 660h1v18h-1zM681 660h1v46h-1zM652 660h1v74h-1zM812 661h1v1h-1zM841 661h1v1h-1zM926 661h1v11h-1zM777 661h1v17h-1zM1001 662h1v14h-1zM936 662h1v19h-1zM696 662h1v50h-1zM968 663h1v36h-1zM729 663h1v84h-1zM459 664h1v43h-1zM934 666h1v16h-1zM844 666h1v28h-1zM598 666h1v32h-1zM996 666h1v98h-1zM589 667h1v54h-1zM483 668h1v33h-1zM781 668h1v64h-1zM851 668h1v66h-1zM965 668h1v84h-1zM1014 669h1v7h-1zM567 669h1v26h-1zM544 669h1v48h-1zM734 669h1v52h-1zM522 670h1v34h-1zM648 670h1v46h-1zM854 670h1v57h-1zM1017 671h1v12h-1zM933 671h1v17h-1zM1016 671h1v83h-1zM952 672h1v13h-1zM914 672h1v27h-1zM829 672h1v33h-1zM599 672h1v38h-1zM825 672h1v43h-1zM780 672h1v61h-1zM732 673h1v14h-1zM1000 673h1v36h-1zM828 673h1v47h-1zM778 673h1v60h-1zM995 673h1v72h-1zM726 674h1v12h-1zM738 674h1v12h-1zM731 674h1v16h-1zM597 674h1v26h-1zM913 674h1v27h-1zM779 674h1v56h-1zM830 675h1v7h-1zM728 675h1v44h-1zM759 675h1v46h-1zM730 675h1v50h-1zM745 675h1v51h-1zM733 676h1v6h-1zM912 676h1v19h-1zM691 676h1v21h-1zM855 676h1v43h-1zM753 676h1v45h-1zM478 677h1v17h-1zM911 677h1v21h-1zM672 677h1v24h-1zM782 677h2v49h-2zM856 677h1v53h-1zM857 677h1v56h-1zM584 678h1v30h-1zM754 678h1v49h-1zM846 678h1v62h-1zM931 679h1v10h-1zM674 679h1v22h-1zM852 679h1v40h-1zM966 679h1v57h-1zM503 680h1v23h-1zM654 680h1v24h-1zM964 680h1v60h-1zM833 681h1v33h-1zM773 681h1v40h-1zM487 681h1v43h-1zM946 682h1v6h-1zM917 682h1v25h-1zM756 682h1v39h-1zM858 682h1v51h-1zM867 682h1v52h-1zM841 682h1v59h-1zM831 683h1v26h-1zM826 683h1v39h-1zM692 683h1v42h-1zM479 683h1v51h-1zM835 683h1v58h-1zM962 683h1v81h-1zM592 684h1v12h-1zM926 684h1v14h-1zM960 684h1v34h-1zM688 684h1v35h-1zM768 684h1v38h-1zM963 684h1v50h-1zM976 685h1v15h-1zM749 685h1v35h-1zM751 685h1v35h-1zM748 685h1v42h-1zM864 685h1v48h-1zM774 685h1v49h-1zM823 685h1v72h-1zM543 686h1v29h-1zM723 686h1v29h-1zM760 686h1v34h-1zM762 686h1v39h-1zM750 686h1v40h-1zM862 686h2v47h-2zM865 686h1v48h-1zM843 686h1v50h-1zM860 687h1v28h-1zM500 687h1v34h-1zM488 687h1v41h-1zM869 687h1v48h-1zM761 688h1v36h-1zM866 688h1v46h-1zM868 688h1v47h-1zM480 688h1v53h-1zM744 688h1v53h-1zM585 689h1v11h-1zM612 689h1v22h-1zM627 689h1v23h-1zM755 689h1v31h-1zM462 689h1v32h-1zM645 689h1v40h-1zM842 689h1v51h-1zM610 690h1v8h-1zM765 690h1v30h-1zM625 690h1v31h-1zM614 690h1v33h-1zM809 690h1v41h-1zM635 691h1v4h-1zM972 691h1v8h-1zM764 691h1v36h-1zM861 691h1v41h-1zM870 691h1v41h-1zM515 691h1v42h-1zM772 691h1v43h-1zM1008 692h1v4h-1zM608 692h1v8h-1zM492 692h1v13h-1zM928 692h1v16h-1zM560 692h1v19h-1zM775 692h1v21h-1zM653 692h1v23h-1zM752 692h1v28h-1zM847 692h1v47h-1zM871 692h1v54h-1zM497 693h1v2h-1zM605 693h1v4h-1zM810 693h1v41h-1zM724 694h1v20h-1zM763 694h1v26h-1zM746 694h1v34h-1zM822 694h1v41h-1zM872 694h1v49h-1zM816 694h1v61h-1zM984 694h1v70h-1zM521 695h1v19h-1zM1006 695h1v37h-1zM930 695h1v69h-1zM969 696h1v14h-1zM582 696h1v19h-1zM731 696h1v24h-1zM921 696h1v24h-1zM766 696h2v32h-2zM641 696h1v42h-1zM1005 697h1v9h-1zM812 697h1v37h-1zM815 697h1v37h-1zM611 698h1v18h-1zM977 698h1v20h-1zM743 698h1v26h-1zM732 698h2v28h-2zM817 698h1v36h-1zM819 698h1v36h-1zM814 698h1v37h-1zM818 698h1v37h-1zM970 698h1v66h-1zM987 699h1v17h-1zM655 699h1v19h-1zM827 699h1v29h-1zM957 700h1v17h-1zM482 700h1v30h-1zM850 700h1v30h-1zM738 700h1v33h-1zM991 701h1v13h-1zM933 701h1v14h-1zM811 701h1v22h-1zM742 701h1v30h-1zM813 701h1v32h-1zM873 701h1v40h-1zM429 702h1v11h-1zM920 702h1v14h-1zM581 702h1v15h-1zM975 702h1v31h-1zM820 702h1v33h-1zM877 702h1v39h-1zM876 702h1v40h-1zM989 703h1v9h-1zM481 703h1v14h-1zM564 703h1v16h-1zM1012 704h1v60h-1zM726 705h1v9h-1zM513 705h1v13h-1zM621 705h1v14h-1zM739 705h1v21h-1zM737 705h1v38h-1zM626 706h1v8h-1zM538 706h1v34h-1zM735 706h1v37h-1zM958 707h1v6h-1zM983 707h1v6h-1zM940 707h1v8h-1zM875 707h1v27h-1zM422 707h1v40h-1zM758 708h1v35h-1zM878 709h1v4h-1zM973 709h1v4h-1zM632 709h1v14h-1zM944 709h1v16h-1zM642 709h1v30h-1zM563 709h1v44h-1zM971 709h1v50h-1zM954 710h1v1h-1zM942 710h1v13h-1zM535 710h1v22h-1zM1010 710h1v24h-1zM499 711h1v18h-1zM1004 711h1v20h-1zM777 711h1v32h-1zM917 711h2v53h-2zM1011 712h1v18h-1zM1009 712h1v35h-1zM633 713h1v10h-1zM1015 713h1v14h-1zM654 713h1v18h-1zM770 713h1v23h-1zM943 714h1v10h-1zM945 714h1v12h-1zM929 714h1v15h-1zM979 714h1v21h-1zM914 714h1v50h-1zM947 715h1v11h-1zM916 715h1v34h-1zM913 715h1v49h-1zM1002 715h1v49h-1zM948 716h1v10h-1zM461 716h1v17h-1zM725 716h1v26h-1zM1003 716h1v48h-1zM915 717h1v11h-1zM771 717h1v12h-1zM951 717h1v16h-1zM618 717h1v20h-1zM919 717h1v47h-1zM986 717h1v47h-1zM1008 718h1v28h-1zM912 718h1v46h-1zM616 719h1v3h-1zM949 719h1v5h-1zM1018 719h1v8h-1zM1017 719h1v9h-1zM504 719h1v11h-1zM1007 719h1v22h-1zM837 719h1v39h-1zM1001 719h1v45h-1zM637 720h1v1h-1zM978 720h1v1h-1zM1014 720h1v1h-1zM636 720h1v2h-1zM606 720h1v4h-1zM695 720h1v17h-1zM540 721h1v14h-1zM838 721h1v19h-1zM828 722h1v11h-1zM911 722h1v12h-1zM953 722h1v12h-1zM921 722h1v13h-1zM960 722h1v13h-1zM957 723h2v12h-2zM998 723h1v41h-1zM955 724h1v11h-1zM959 724h1v11h-1zM1005 724h1v23h-1zM925 724h1v40h-1zM961 724h1v40h-1zM821 725h1v10h-1zM519 725h1v11h-1zM954 726h1v9h-1zM757 726h1v16h-1zM972 726h1v21h-1zM696 726h1v23h-1zM923 726h1v33h-1zM926 726h1v38h-1zM983 726h1v38h-1zM985 726h1v38h-1zM991 726h1v38h-1zM829 727h1v7h-1zM956 727h1v8h-1zM508 728h1v4h-1zM830 728h2v5h-2zM989 728h2v36h-2zM997 728h1v36h-1zM653 729h1v8h-1zM424 729h1v11h-1zM561 729h1v12h-1zM992 729h2v35h-2zM999 729h2v35h-2zM967 730h1v7h-1zM994 730h1v17h-1zM1013 730h1v17h-1zM741 730h1v20h-1zM924 730h1v30h-1zM736 730h1v34h-1zM905 731h1v7h-1zM935 731h1v11h-1zM936 731h1v33h-1zM481 732h1v10h-1zM489 732h1v13h-1zM834 732h1v15h-1zM742 732h1v16h-1zM827 732h1v21h-1zM845 732h1v25h-1zM1004 732h1v32h-1zM751 733h1v7h-1zM672 733h1v8h-1zM937 733h1v9h-1zM752 733h1v12h-1zM826 733h1v17h-1zM940 733h1v25h-1zM942 733h2v25h-2zM941 733h1v26h-1zM929 733h1v31h-1zM938 733h2v31h-2zM1015 733h1v31h-1zM750 734h1v5h-1zM727 734h1v7h-1zM559 734h1v10h-1zM833 734h1v15h-1zM946 734h1v18h-1zM987 734h1v18h-1zM753 734h1v21h-1zM944 734h1v23h-1zM948 734h2v23h-2zM915 734h1v30h-1zM932 734h1v30h-1zM945 734h1v30h-1zM947 734h1v30h-1zM934 735h1v2h-1zM850 735h1v4h-1zM931 735h1v5h-1zM974 735h1v25h-1zM499 735h1v29h-1zM760 736h1v2h-1zM756 736h1v3h-1zM759 736h1v3h-1zM498 736h1v8h-1zM933 736h1v14h-1zM726 737h1v1h-1zM754 737h2v1h-2zM976 737h1v10h-1zM542 737h1v12h-1zM952 737h1v14h-1zM969 737h1v27h-1zM1011 737h1v27h-1zM975 738h1v9h-1zM966 738h1v23h-1zM979 738h1v26h-1zM1010 738h1v26h-1zM617 739h1v6h-1zM820 739h1v6h-1zM950 739h1v12h-1zM980 739h1v18h-1zM589 739h1v23h-1zM921 739h1v25h-1zM953 739h3v25h-3zM849 740h1v4h-1zM911 740h1v11h-1zM656 740h1v13h-1zM981 740h1v13h-1zM852 740h1v20h-1zM853 740h1v24h-1zM956 740h3v24h-3zM818 741h1v3h-1zM521 741h1v11h-1zM963 741h1v21h-1zM959 741h1v23h-1zM553 742h1v18h-1zM927 742h1v18h-1zM824 742h1v20h-1zM960 742h1v22h-1zM978 742h1v22h-1zM988 743h1v9h-1zM977 743h1v20h-1zM480 743h1v21h-1zM522 743h1v21h-1zM825 743h1v21h-1zM841 743h1v21h-1zM934 743h2v21h-2zM937 743h1v21h-1zM964 743h1v21h-1zM855 744h1v7h-1zM502 745h1v4h-1zM842 745h1v6h-1zM847 745h1v19h-1zM931 745h1v19h-1zM848 746h1v3h-1zM680 746h1v4h-1zM843 746h1v4h-1zM655 746h1v5h-1zM411 746h1v6h-1zM552 746h1v14h-1zM588 746h1v15h-1zM771 746h1v18h-1zM481 747h1v1h-1zM839 747h1v1h-1zM610 747h1v2h-1zM676 747h1v2h-1zM811 747h1v2h-1zM854 747h1v2h-1zM856 747h1v2h-1zM867 747h1v5h-1zM865 747h1v8h-1zM501 747h1v10h-1zM858 747h1v10h-1zM862 747h1v11h-1zM866 747h1v12h-1zM1018 748h1v7h-1zM920 748h1v16h-1zM1007 748h1v16h-1zM1009 748h1v16h-1zM724 749h1v5h-1zM868 749h1v6h-1zM864 749h1v8h-1zM967 749h1v8h-1zM975 749h1v8h-1zM776 749h1v15h-1zM872 749h1v15h-1zM1013 749h1v15h-1zM1008 750h1v8h-1zM459 750h1v13h-1zM863 751h1v4h-1zM871 751h1v11h-1zM777 751h1v13h-1zM836 751h1v13h-1zM994 751h1v13h-1zM869 752h1v3h-1zM425 752h1v12h-1zM558 752h1v12h-1zM821 752h1v12h-1zM648 753h1v1h-1zM729 753h1v1h-1zM973 753h1v11h-1zM515 754h1v6h-1zM968 754h1v7h-1zM839 754h1v9h-1zM840 754h1v10h-1zM916 754h1v10h-1zM965 754h1v10h-1zM988 754h1v10h-1zM972 755h1v4h-1zM946 755h1v9h-1zM995 755h1v9h-1zM1014 755h1v9h-1zM585 756h1v2h-1zM487 756h1v4h-1zM987 756h1v7h-1zM536 756h1v8h-1zM838 756h1v8h-1zM842 756h1v8h-1zM1005 756h1v8h-1zM435 757h1v1h-1zM735 757h1v1h-1zM440 757h1v2h-1zM566 757h1v3h-1zM674 757h1v6h-1zM488 757h1v7h-1zM490 757h1v7h-1zM644 757h1v7h-1zM835 757h1v7h-1zM542 758h1v6h-1zM567 758h1v6h-1zM834 758h1v6h-1zM845 758h1v6h-1zM854 758h1v6h-1zM911 758h1v6h-1zM980 758h1v6h-1zM810 759h1v4h-1zM582 759h1v5h-1zM826 759h1v5h-1zM843 759h1v5h-1zM849 759h1v5h-1zM910 759h1v5h-1zM928 759h1v5h-1zM948 759h2v5h-2zM952 759h1v5h-1zM1006 759h1v5h-1zM524 760h1v2h-1zM870 760h1v2h-1zM873 760h1v2h-1zM460 760h1v3h-1zM811 760h1v3h-1zM818 760h1v3h-1zM909 760h1v3h-1zM809 760h1v4h-1zM813 760h1v4h-1zM815 760h1v4h-1zM817 760h1v4h-1zM829 760h3v4h-3zM833 760h1v4h-1zM762 761h1v1h-1zM812 761h1v2h-1zM814 761h1v2h-1zM850 761h1v2h-1zM478 761h2v3h-2zM581 761h1v3h-1zM741 761h1v3h-1zM819 761h1v3h-1zM827 761h2v3h-2zM846 761h1v3h-1zM500 762h2v2h-2zM521 762h1v2h-1zM545 762h1v2h-1zM565 762h1v2h-1zM646 762h1v2h-1zM680 762h1v2h-1zM775 762h1v2h-1zM832 762h1v2h-1zM837 762h1v2h-1zM844 762h1v2h-1zM875 762h1v2h-1zM538 763h1v1h-1zM554 763h1v1h-1zM560 763h1v1h-1zM566 763h1v1h-1zM587 763h1v1h-1zM672 763h1v1h-1zM728 763h1v1h-1zM734 763h1v1h-1zM744 763h1v1h-1zM770 763h1v1h-1zM772 763h1v1h-1zM851 763h1v1h-1zM856 763h1v1h-1zM858 763h1v1h-1zM874 763h1v1h-1zM933 763h1v1h-1zM940 763h5v1h-5zM966 763h1v1h-1zM968 763h1v1h-1zM976 763h1v1h-1z"/><path fill="#42FFBC" d="M976 459h1v77h-1zM951 459h1v83h-1zM977 459h1v192h-1zM1014 472h1v122h-1zM946 480h1v88h-1zM1018 483h1v79h-1zM1017 483h1v165h-1zM1012 500h1v125h-1zM972 504h1v18h-1zM923 511h1v113h-1zM967 512h1v18h-1zM922 515h1v1h-1zM998 547h1v2h-1zM930 565h1v33h-1zM960 566h1v7h-1zM959 568h1v3h-1zM950 571h1v83h-1zM1018 581h1v58h-1zM922 584h1v68h-1zM968 587h1v50h-1zM932 602h1v45h-1zM995 607h1v8h-1zM970 609h1v50h-1zM1007 615h1v30h-1zM931 615h1v34h-1zM1013 618h1v24h-1zM976 620h1v18h-1zM951 620h1v22h-1zM823 621h1v19h-1zM975 624h1v21h-1zM1008 624h1v26h-1zM985 625h1v5h-1zM974 625h1v83h-1zM986 626h1v4h-1zM973 631h1v25h-1zM928 632h1v26h-1zM972 634h1v57h-1zM948 639h1v13h-1zM947 639h1v15h-1zM996 639h1v27h-1zM955 640h1v9h-1zM945 640h1v11h-1zM944 641h1v8h-1zM949 641h1v9h-1zM926 641h1v20h-1zM921 642h1v54h-1zM954 643h1v5h-1zM999 643h1v6h-1zM919 643h1v74h-1zM1001 644h1v2h-1zM953 644h1v3h-1zM1002 644h1v4h-1zM980 644h1v5h-1zM929 644h1v13h-1zM965 644h1v24h-1zM964 644h1v36h-1zM961 645h1v14h-1zM978 645h1v75h-1zM1013 651h1v31h-1zM966 653h1v26h-1zM963 653h1v31h-1zM934 654h1v12h-1zM1012 658h1v12h-1zM967 659h1v13h-1zM1016 660h1v11h-1zM1015 660h1v16h-1zM924 660h1v27h-1zM936 661h1v1h-1zM951 662h1v20h-1zM826 662h1v21h-1zM1017 663h1v8h-1zM988 663h1v80h-1zM931 664h1v15h-1zM1018 664h1v21h-1zM986 666h1v51h-1zM1008 667h1v25h-1zM1007 668h1v9h-1zM998 668h1v10h-1zM1010 670h1v40h-1zM1009 670h1v42h-1zM987 671h1v28h-1zM741 671h1v59h-1zM1004 672h1v39h-1zM725 672h1v44h-1zM961 672h1v52h-1zM917 673h1v9h-1zM962 673h1v10h-1zM1011 673h1v39h-1zM1003 673h1v43h-1zM985 673h1v53h-1zM960 674h1v10h-1zM499 674h1v37h-1zM989 675h1v28h-1zM983 675h1v32h-1zM990 675h1v53h-1zM1014 676h1v14h-1zM984 676h1v18h-1zM1001 676h1v43h-1zM487 677h1v4h-1zM777 678h1v33h-1zM997 678h1v50h-1zM935 679h1v52h-1zM977 680h1v18h-1zM991 680h1v21h-1zM956 681h1v46h-1zM936 681h1v50h-1zM940 682h1v25h-1zM953 682h1v40h-1zM925 682h1v42h-1zM934 682h1v53h-1zM970 683h1v15h-1zM941 683h1v50h-1zM967 684h1v46h-1zM937 684h1v49h-1zM958 685h1v22h-1zM944 685h1v24h-1zM973 685h1v24h-1zM942 685h1v25h-1zM945 685h1v29h-1zM947 685h1v30h-1zM949 685h1v34h-1zM955 685h1v39h-1zM938 685h2v48h-2zM952 685h1v52h-1zM954 686h1v24h-1zM948 686h1v30h-1zM992 686h1v43h-1zM946 688h1v10h-1zM933 688h1v13h-1zM943 689h1v25h-1zM1002 689h1v26h-1zM521 690h1v5h-1zM655 690h1v9h-1zM957 690h1v10h-1zM1012 693h1v11h-1zM979 693h1v21h-1zM994 695h1v35h-1zM1008 696h1v22h-1zM1015 698h1v15h-1zM1014 698h1v22h-1zM926 698h1v28h-1zM968 699h1v21h-1zM972 699h1v27h-1zM993 700h1v29h-1zM976 700h1v37h-1zM654 704h1v9h-1zM1005 706h1v18h-1zM951 708h1v9h-1zM928 708h1v51h-1zM1000 709h1v20h-1zM969 710h1v27h-1zM954 711h1v15h-1zM1007 712h1v7h-1zM821 712h1v13h-1zM989 712h1v16h-1zM1018 713h1v6h-1zM958 713h1v10h-1zM998 713h1v10h-1zM983 713h1v13h-1zM974 713h1v22h-1zM973 713h1v40h-1zM959 714h1v10h-1zM991 714h1v12h-1zM924 714h1v16h-1zM981 714h1v26h-1zM999 715h1v14h-1zM940 715h1v18h-1zM987 716h1v18h-1zM920 716h1v32h-1zM957 717h1v6h-1zM481 717h1v15h-1zM960 718h1v4h-1zM1013 718h1v12h-1zM977 718h1v25h-1zM921 720h1v2h-1zM946 721h1v13h-1zM978 721h1v21h-1zM1014 721h1v34h-1zM826 722h1v11h-1zM942 723h1v10h-1zM943 724h1v9h-1zM949 724h1v10h-1zM944 725h1v9h-1zM945 726h1v8h-1zM947 726h2v8h-2zM932 727h1v7h-1zM827 728h1v4h-1zM1017 728h1v8h-1zM929 729h1v4h-1zM1011 730h1v7h-1zM950 730h1v9h-1zM1004 731h1v1h-1zM1006 732h1v27h-1zM975 733h1v5h-1zM968 733h1v21h-1zM951 733h1v31h-1zM1010 734h1v4h-1zM953 734h1v5h-1zM963 734h1v7h-1zM979 735h1v3h-1zM921 735h1v4h-1zM954 735h2v4h-2zM956 735h3v5h-3zM959 735h1v6h-1zM960 735h1v7h-1zM966 736h1v2h-1zM934 737h1v6h-1zM964 740h1v3h-1zM931 740h1v5h-1zM1007 741h1v7h-1zM935 742h1v1h-1zM937 742h1v1h-1zM995 745h1v10h-1zM1008 746h1v4h-1zM1009 747h1v1h-1zM1013 747h1v2h-1zM994 747h1v4h-1zM972 747h1v8h-1zM1005 747h1v9h-1zM976 747h1v16h-1zM933 750h1v13h-1zM952 751h1v8h-1zM950 751h1v13h-1zM965 752h1v2h-1zM988 752h1v2h-1zM946 752h1v3h-1zM987 752h1v4h-1zM981 753h1v11h-1zM1017 753h1v11h-1zM1016 754h1v10h-1zM1018 755h1v9h-1zM980 757h1v1h-1zM948 757h2v2h-2zM944 757h1v6h-1zM967 757h1v7h-1zM975 757h1v7h-1zM940 758h1v5h-1zM942 758h2v5h-2zM1008 758h1v6h-1zM941 759h1v4h-1zM923 759h1v5h-1zM971 759h2v5h-2zM924 760h1v4h-1zM927 760h1v4h-1zM974 760h1v4h-1zM966 761h1v2h-1zM968 761h1v2h-1zM963 762h1v2h-1zM977 763h1v1h-1zM987 763h1v1h-1z"/><path fill="#6BFF93" d="M951 642h1v20h-1zM932 647h1v80h-1zM1017 648h1v15h-1zM931 649h1v15h-1zM977 651h1v29h-1zM973 656h1v29h-1zM961 659h1v13h-1zM970 659h1v24h-1zM1012 670h1v23h-1zM967 672h1v12h-1zM1015 676h1v22h-1zM1007 677h1v35h-1zM998 678h1v35h-1zM951 682h1v26h-1zM1013 682h1v36h-1zM1018 685h1v28h-1zM924 687h1v27h-1zM1014 690h1v8h-1zM946 698h1v23h-1zM974 708h1v5h-1zM968 720h1v13h-1zM1017 736h1v17h-1z"/></g><rect x="1031" y="740" width="25" height="25" fill="#00007F"/><rect x="1031" y="715" width="25" height="25" fill="#0000A8"/><rect x="1031" y="690" width="25" height="25" fill="#0000D1"/><rect x="1031" y="665" width="25" height="25" fill="#0000FA"/><rect x="1031" y="640" width="25" height="25" fill="#0024FF"/><rect x="1031" y="615" width="25" height="25" fill="#004CFF"/><rect x="1031" y="590" width="25" height="25" fill="#0075FF"/><rect x="1031" y="565" width="25" height="25" fill="#009EFF"/><rect x="1031" y="540" width="25" height="25" fill="#00C7FF"/><rect x="1031" y="515" width="25" height="25" fill="#00F0FF"/><rect x="1031" y="490" width="25" height="25" fill="#19FFE5"/><rect x="1031" y="465" width="25" height="25" fill="#42FFBC"/><rect x="1031" y="440" width="25" height="25" fill="#6BFF93"/><rect x="1031" y="415" width="25" height="25" fill="#93FF6B"/><rect x="1031" y="390" width="25" height="25" fill="#BCFF42"/><rect x="1031" y="365" width="25" height="25" fill="#E5FF19"/><rect x="1031" y="341" width="25" height="24" fill="#FFF000"/><rect x="1031" y="316" width="25" height="25" fill="#FFC700"/><rect x="1031" y="291" width="25" height="25" fill="#FF9E00"/><rect x="1031" y="266" width="25" height="25" fill="#FF7500"/><rect x="1031" y="241" width="25" height="25" fill="#FF4C00"/><rect x="1031" y="216" width="25" height="25" fill="#FF2400"/><rect x="1031" y="191" width="25" height="25" fill="#FA0000"/><rect x="1031" y="166" width="25" height="25" fill="#D10000"/><rect x="1031" y="141" width="25" height="25" fill="#A80000"/><rect x="1031" y="116" width="25" height="25" fill="#7F0000"/><path d="M1031 116.5h25M1031 141.5h25M1031 166.5h25M1031 191.5h25M1031 216.5h25M1031 241.5h25M1031 266.5h25M1031 291.5h25M1031 316.5h25M1031 341.5h25M1031 365.5h25M1031 390.5h25M1031 415.5h25M1031 440.5h25M1031 465.5h25M1031 490.5h25M1031 515.5h25M1031 540.5h25M1031 565.5h25M1031 590.5h25M1031 615.5h25M1031 640.5h25M1031 665.5h25M1031 690.5h25M1031 715.5h25M1031 740.5h25M1031 765.5h25M1031.5 116v650M1055.5 116v650" stroke="#000" stroke-width="1" fill="none"/><path d="M1056 740.5h8M1056 615.5h8M1056 490.5h8M1056 365.5h8M1056 241.5h8M1056 116.5h8" stroke="#000" stroke-width="1"/><text x="1070" y="748.5" font-size="18">5</text><text x="1070" y="623.5" font-size="18">10</text><text x="1070" y="498.5" font-size="18">15</text><text x="1070" y="373.5" font-size="18">20</text><text x="1070" y="249.5" font-size="18">25</text><text x="1070" y="124.5" font-size="18">30</text><path d="M172 764.5h7M172 656.5h7M172 548.5h7M172 440.5h7M172 332.5h7M172 224.5h7M172 116.5h7" stroke="#000" stroke-width="1"/><text x="164" y="772" font-size="18" text-anchor="end">0.0</text><text x="164" y="664" font-size="18" text-anchor="end">0.5</text><text x="164" y="556" font-size="18" text-anchor="end">1.0</text><text x="164" y="448" font-size="18" text-anchor="end">1.5</text><text x="164" y="340" font-size="18" text-anchor="end">2.0</text><text x="164" y="232" font-size="18" text-anchor="end">2.5</text><text x="164" y="124" font-size="18" text-anchor="end">3.0</text><path d="M179 764.5H989M179.5 764v17M214.5 764v17M249.5 764v17M285.5 764v17M320.5 764v17M355.5 764v17M390.5 764v17M425.5 764v17M460.5 764v17M496.5 764v17M531.5 764v17M566.5 764v17M601.5 764v17M636.5 764v17M671.5 764v17M707.5 764v17M742.5 764v17M777.5 764v17M812.5 764v17M847.5 764v17M882.5 764v17M918.5 764v17M953.5 764v17M988.5 764v17" stroke="#000" stroke-width="1"/><text x="179.5" y="791" font-size="12" text-anchor="middle">00</text><text x="214.5" y="791" font-size="12" text-anchor="middle">01</text><text x="249.5" y="791" font-size="12" text-anchor="middle">02</text><text x="285.5" y="791" font-size="12" text-anchor="middle">03</text><text x="320.5" y="791" font-size="12" text-anchor="middle">04</text><text x="355.5" y="791" font-size="12" text-anchor="middle">05</text><text x="390.5" y="791" font-size="12" text-anchor="middle">06</text><text x="425.5" y="791" font-size="12" text-anchor="middle">07</text><text x="460.5" y="791" font-size="12" text-anchor="middle">08</text><text x="496.5" y="791" font-size="12" text-anchor="middle">09</text><text x="531.5" y="791" font-size="12" text-anchor="middle">10</text><text x="566.5" y="791" font-size="12" text-anchor="middle">11</text><text x="601.5" y="791" font-size="12" text-anchor="middle">12</text><text x="636.5" y="791" font-size="12" text-anchor="middle">13</text><text x="671.5" y="791" font-size="12" text-anchor="middle">14</text><text x="707.5" y="791" font-size="12" text-anchor="middle">15</text><text x="742.5" y="791" font-size="12" text-anchor="middle">16</text><text x="777.5" y="791" font-size="12" text-anchor="middle">17</text><text x="812.5" y="791" font-size="12" text-anchor="middle">18</text><text x="847.5" y="791" font-size="12" text-anchor="middle">19</text><text x="882.5" y="791" font-size="12" text-anchor="middle">20</text><text x="918.5" y="791" font-size="12" text-anchor="middle">21</text><text x="953.5" y="791" font-size="12" text-anchor="middle">22</text><text x="988.5" y="791" font-size="12" text-anchor="middle">23</text><text x="599" y="94" font-size="14.6" font-weight="bold" text-anchor="middle" style="stroke-width:0">Water Vapor (g/m3) - 06/12/2023</text><text x="601.5" y="829" font-size="18" text-anchor="middle">Hours (UTC)</text><text transform="translate(88 548) rotate(-90)" font-size="18.4" text-anchor="middle">Height (km)</text><rect x="1031" y="0" width="25" height="1.3" fill="#000"/></svg></body></html>
